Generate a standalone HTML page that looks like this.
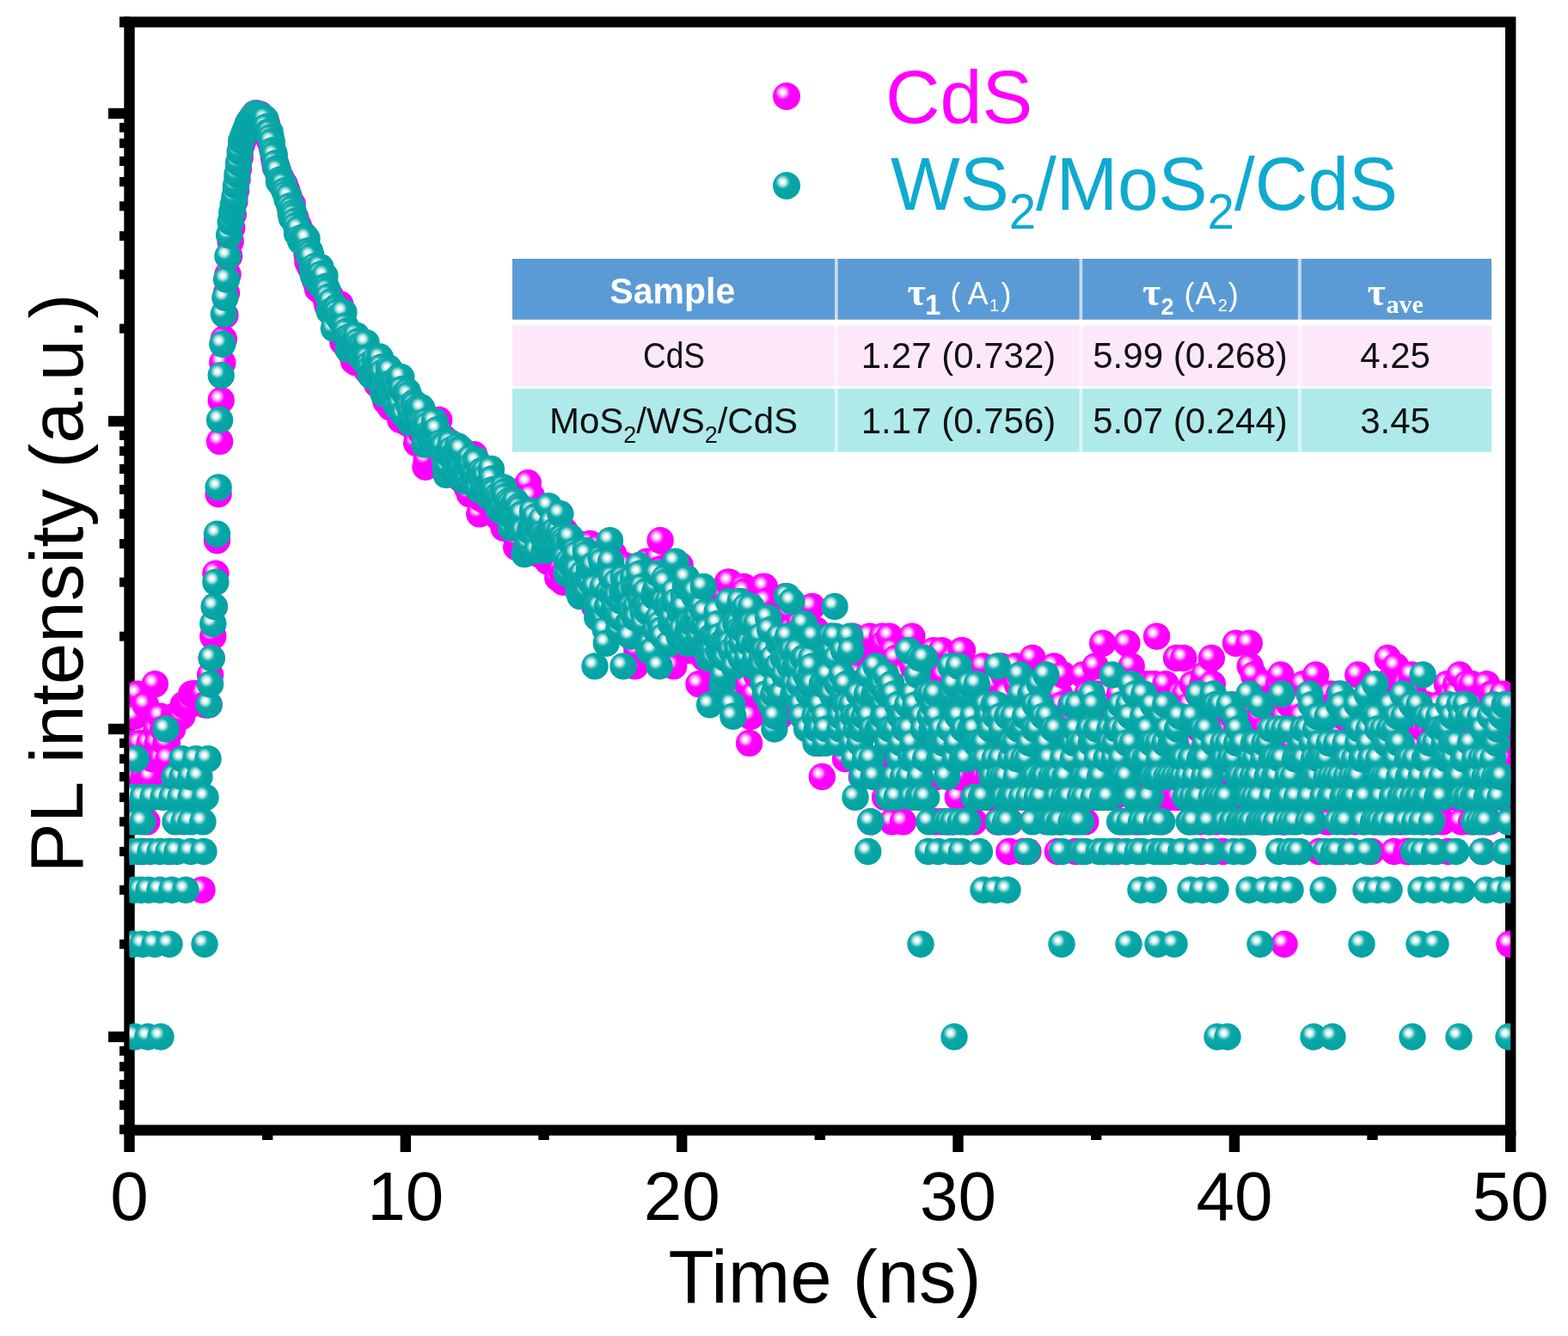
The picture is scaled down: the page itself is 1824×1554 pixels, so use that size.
<!DOCTYPE html><html><head><meta charset="utf-8"><title>PL decay</title><style>
html,body{margin:0;padding:0;background:#fff;}
svg{display:block;}
text{font-family:"Liberation Sans",Arial,sans-serif;}
.tk{font-size:80px;fill:#000;}
.ax{font-size:87px;fill:#000;}
.lg{font-size:88px;}
.lg .sub{font-size:58px;}
.th{font-size:43px;font-weight:bold;fill:#fff;}
.tau{font-family:"Liberation Serif",serif;font-size:46px;font-weight:bold;fill:#fff;}
.tsub{font-family:"Liberation Sans",sans-serif;font-size:33px;font-weight:bold;fill:#fff;}
.tl{font-family:"Liberation Sans",sans-serif;font-size:36px;fill:#fff;}
.tsub2{font-family:"Liberation Sans",sans-serif;font-size:27px;font-weight:bold;fill:#fff;}
.tls{font-family:"Liberation Sans",sans-serif;font-size:20px;fill:#fff;}
.tave{font-family:"Liberation Serif",serif;font-size:30px;font-weight:bold;fill:#fff;}
.td{font-size:42px;fill:#111;}
.tds{font-size:27px;}
</style></head><body>
<svg width="1824" height="1554" viewBox="0 0 1824 1554">
<defs>
<radialGradient id="gt" cx="0.36" cy="0.36" r="0.5" fx="0.36" fy="0.36">
<stop offset="0" stop-color="#ffffff"/><stop offset="0.13" stop-color="#f6fcfc"/>
<stop offset="0.3" stop-color="#a6dfdf"/><stop offset="0.5" stop-color="#14abab"/><stop offset="0.62" stop-color="#08a8a8"/><stop offset="1" stop-color="#05a3a3"/>
</radialGradient>
<radialGradient id="gm" cx="0.36" cy="0.36" r="0.5" fx="0.36" fy="0.36">
<stop offset="0" stop-color="#ffffff"/><stop offset="0.13" stop-color="#fff6ff"/>
<stop offset="0.3" stop-color="#ffa6ff"/><stop offset="0.5" stop-color="#ff14ff"/><stop offset="0.62" stop-color="#ff00ff"/><stop offset="1" stop-color="#fa00fa"/>
</radialGradient>
<clipPath id="pc"><rect x="150.5" y="25.6" width="1606.7" height="1289.0"/></clipPath>
</defs>
<rect width="1824" height="1554" fill="#fff"/>
<rect x="150.5" y="25.6" width="1606.7" height="1289.0" fill="none" stroke="#000" stroke-width="12.4"/>
<rect x="139" y="19.4" width="12" height="12.4" fill="#000"/>
<rect x="144.3" y="1314.6" width="12.4" height="25.4" fill="#000"/>
<rect x="305.0" y="1314.6" width="12.4" height="11.4" fill="#000"/>
<rect x="465.6" y="1314.6" width="12.4" height="25.4" fill="#000"/>
<rect x="626.3" y="1314.6" width="12.4" height="11.4" fill="#000"/>
<rect x="787.0" y="1314.6" width="12.4" height="25.4" fill="#000"/>
<rect x="947.6" y="1314.6" width="12.4" height="11.4" fill="#000"/>
<rect x="1108.3" y="1314.6" width="12.4" height="25.4" fill="#000"/>
<rect x="1269.0" y="1314.6" width="12.4" height="11.4" fill="#000"/>
<rect x="1429.7" y="1314.6" width="12.4" height="25.4" fill="#000"/>
<rect x="1590.3" y="1314.6" width="12.4" height="11.4" fill="#000"/>
<rect x="1751.0" y="1314.6" width="12.4" height="25.4" fill="#000"/>
<rect x="139" y="1308.3" width="11.5" height="11.0" fill="#000"/>
<rect x="139" y="1279.9" width="11.5" height="11.0" fill="#000"/>
<rect x="139" y="1256.0" width="11.5" height="11.0" fill="#000"/>
<rect x="139" y="1235.2" width="11.5" height="11.0" fill="#000"/>
<rect x="139" y="1216.9" width="11.5" height="11.0" fill="#000"/>
<rect x="126" y="1199.8" width="24.5" height="12.4" fill="#000"/>
<rect x="139" y="1092.7" width="11.5" height="11.0" fill="#000"/>
<rect x="139" y="1029.7" width="11.5" height="11.0" fill="#000"/>
<rect x="139" y="985.0" width="11.5" height="11.0" fill="#000"/>
<rect x="139" y="950.3" width="11.5" height="11.0" fill="#000"/>
<rect x="139" y="921.9" width="11.5" height="11.0" fill="#000"/>
<rect x="139" y="898.0" width="11.5" height="11.0" fill="#000"/>
<rect x="139" y="877.2" width="11.5" height="11.0" fill="#000"/>
<rect x="139" y="858.9" width="11.5" height="11.0" fill="#000"/>
<rect x="126" y="841.8" width="24.5" height="12.4" fill="#000"/>
<rect x="139" y="734.7" width="11.5" height="11.0" fill="#000"/>
<rect x="139" y="671.7" width="11.5" height="11.0" fill="#000"/>
<rect x="139" y="627.0" width="11.5" height="11.0" fill="#000"/>
<rect x="139" y="592.3" width="11.5" height="11.0" fill="#000"/>
<rect x="139" y="563.9" width="11.5" height="11.0" fill="#000"/>
<rect x="139" y="540.0" width="11.5" height="11.0" fill="#000"/>
<rect x="139" y="519.2" width="11.5" height="11.0" fill="#000"/>
<rect x="139" y="500.9" width="11.5" height="11.0" fill="#000"/>
<rect x="126" y="483.8" width="24.5" height="12.4" fill="#000"/>
<rect x="139" y="376.7" width="11.5" height="11.0" fill="#000"/>
<rect x="139" y="313.7" width="11.5" height="11.0" fill="#000"/>
<rect x="139" y="269.0" width="11.5" height="11.0" fill="#000"/>
<rect x="139" y="234.3" width="11.5" height="11.0" fill="#000"/>
<rect x="139" y="205.9" width="11.5" height="11.0" fill="#000"/>
<rect x="139" y="182.0" width="11.5" height="11.0" fill="#000"/>
<rect x="139" y="161.2" width="11.5" height="11.0" fill="#000"/>
<rect x="139" y="142.9" width="11.5" height="11.0" fill="#000"/>
<rect x="126" y="125.8" width="24.5" height="12.4" fill="#000"/>
<g clip-path="url(#pc)">
<g fill="url(#gm)">
<circle cx="150.5" cy="903.5" r="15.7"/>
<circle cx="152.1" cy="864.4" r="15.7"/>
<circle cx="153.6" cy="927.4" r="15.7"/>
<circle cx="155.2" cy="927.4" r="15.7"/>
<circle cx="156.8" cy="833.2" r="15.7"/>
<circle cx="158.3" cy="882.7" r="15.7"/>
<circle cx="159.9" cy="807.2" r="15.7"/>
<circle cx="161.5" cy="990.5" r="15.7"/>
<circle cx="163.1" cy="864.4" r="15.7"/>
<circle cx="164.6" cy="882.7" r="15.7"/>
<circle cx="166.2" cy="990.5" r="15.7"/>
<circle cx="167.8" cy="903.5" r="15.7"/>
<circle cx="169.3" cy="819.7" r="15.7"/>
<circle cx="170.9" cy="955.8" r="15.7"/>
<circle cx="172.5" cy="903.5" r="15.7"/>
<circle cx="174.0" cy="864.4" r="15.7"/>
<circle cx="175.6" cy="903.5" r="15.7"/>
<circle cx="177.2" cy="882.7" r="15.7"/>
<circle cx="178.7" cy="882.7" r="15.7"/>
<circle cx="180.3" cy="795.7" r="15.7"/>
<circle cx="181.9" cy="848.0" r="15.7"/>
<circle cx="183.4" cy="864.4" r="15.7"/>
<circle cx="185.0" cy="882.7" r="15.7"/>
<circle cx="186.6" cy="833.2" r="15.7"/>
<circle cx="188.2" cy="882.7" r="15.7"/>
<circle cx="189.7" cy="848.0" r="15.7"/>
<circle cx="191.3" cy="848.0" r="15.7"/>
<circle cx="192.9" cy="864.4" r="15.7"/>
<circle cx="194.4" cy="864.4" r="15.7"/>
<circle cx="196.0" cy="882.7" r="15.7"/>
<circle cx="197.6" cy="990.5" r="15.7"/>
<circle cx="199.1" cy="848.0" r="15.7"/>
<circle cx="200.7" cy="848.0" r="15.7"/>
<circle cx="202.3" cy="833.2" r="15.7"/>
<circle cx="203.8" cy="833.2" r="15.7"/>
<circle cx="205.4" cy="833.2" r="15.7"/>
<circle cx="207.0" cy="833.2" r="15.7"/>
<circle cx="208.6" cy="833.2" r="15.7"/>
<circle cx="210.1" cy="833.2" r="15.7"/>
<circle cx="211.7" cy="833.2" r="15.7"/>
<circle cx="213.3" cy="819.7" r="15.7"/>
<circle cx="214.8" cy="819.7" r="15.7"/>
<circle cx="216.4" cy="819.7" r="15.7"/>
<circle cx="218.0" cy="819.7" r="15.7"/>
<circle cx="219.5" cy="819.7" r="15.7"/>
<circle cx="221.1" cy="819.7" r="15.7"/>
<circle cx="222.7" cy="807.2" r="15.7"/>
<circle cx="224.2" cy="807.2" r="15.7"/>
<circle cx="225.8" cy="807.2" r="15.7"/>
<circle cx="227.4" cy="807.2" r="15.7"/>
<circle cx="229.0" cy="807.2" r="15.7"/>
<circle cx="230.5" cy="807.2" r="15.7"/>
<circle cx="232.1" cy="807.2" r="15.7"/>
<circle cx="233.7" cy="807.2" r="15.7"/>
<circle cx="235.0" cy="1035.2" r="15.7"/>
<circle cx="235.2" cy="807.2" r="15.7"/>
<circle cx="236.8" cy="807.2" r="15.7"/>
<circle cx="238.4" cy="819.7" r="15.7"/>
<circle cx="239.9" cy="819.7" r="15.7"/>
<circle cx="241.5" cy="819.7" r="15.7"/>
<circle cx="243.1" cy="819.7" r="15.7"/>
<circle cx="244.6" cy="785.0" r="15.7"/>
<circle cx="246.2" cy="765.5" r="15.7"/>
<circle cx="247.8" cy="740.2" r="15.7"/>
<circle cx="249.3" cy="705.5" r="15.7"/>
<circle cx="250.9" cy="667.2" r="15.7"/>
<circle cx="252.5" cy="628.6" r="15.7"/>
<circle cx="254.1" cy="574.7" r="15.7"/>
<circle cx="255.6" cy="513.4" r="15.7"/>
<circle cx="257.2" cy="465.6" r="15.7"/>
<circle cx="258.8" cy="421.9" r="15.7"/>
<circle cx="260.3" cy="394.4" r="15.7"/>
<circle cx="261.9" cy="366.7" r="15.7"/>
<circle cx="263.5" cy="340.8" r="15.7"/>
<circle cx="265.0" cy="319.2" r="15.7"/>
<circle cx="266.6" cy="297.9" r="15.7"/>
<circle cx="268.2" cy="280.8" r="15.7"/>
<circle cx="269.7" cy="265.0" r="15.7"/>
<circle cx="271.3" cy="249.4" r="15.7"/>
<circle cx="272.9" cy="234.3" r="15.7"/>
<circle cx="274.5" cy="221.6" r="15.7"/>
<circle cx="276.0" cy="208.6" r="15.7"/>
<circle cx="277.6" cy="195.7" r="15.7"/>
<circle cx="279.2" cy="182.9" r="15.7"/>
<circle cx="280.7" cy="170.2" r="15.7"/>
<circle cx="282.3" cy="165.0" r="15.7"/>
<circle cx="283.9" cy="159.7" r="15.7"/>
<circle cx="285.4" cy="154.4" r="15.7"/>
<circle cx="287.0" cy="148.9" r="15.7"/>
<circle cx="288.6" cy="143.6" r="15.7"/>
<circle cx="290.1" cy="141.1" r="15.7"/>
<circle cx="291.7" cy="138.8" r="15.7"/>
<circle cx="293.3" cy="136.6" r="15.7"/>
<circle cx="294.9" cy="134.3" r="15.7"/>
<circle cx="296.4" cy="132.2" r="15.7"/>
<circle cx="298.0" cy="131.7" r="15.7"/>
<circle cx="299.6" cy="132.5" r="15.7"/>
<circle cx="301.1" cy="133.2" r="15.7"/>
<circle cx="301.5" cy="133.6" r="15.7"/>
<circle cx="302.6" cy="132.9" r="15.7"/>
<circle cx="303.6" cy="135.8" r="15.7"/>
<circle cx="304.7" cy="137.7" r="15.7"/>
<circle cx="305.7" cy="136.7" r="15.7"/>
<circle cx="306.8" cy="140.0" r="15.7"/>
<circle cx="307.8" cy="139.0" r="15.7"/>
<circle cx="308.9" cy="141.5" r="15.7"/>
<circle cx="309.9" cy="142.8" r="15.7"/>
<circle cx="310.9" cy="146.5" r="15.7"/>
<circle cx="312.0" cy="152.2" r="15.7"/>
<circle cx="313.0" cy="161.9" r="15.7"/>
<circle cx="314.1" cy="163.6" r="15.7"/>
<circle cx="315.1" cy="165.7" r="15.7"/>
<circle cx="316.2" cy="171.0" r="15.7"/>
<circle cx="317.2" cy="175.1" r="15.7"/>
<circle cx="318.3" cy="182.2" r="15.7"/>
<circle cx="319.3" cy="187.9" r="15.7"/>
<circle cx="320.4" cy="194.7" r="15.7"/>
<circle cx="321.4" cy="192.4" r="15.7"/>
<circle cx="322.5" cy="196.1" r="15.7"/>
<circle cx="323.5" cy="201.6" r="15.7"/>
<circle cx="324.5" cy="209.1" r="15.7"/>
<circle cx="325.6" cy="210.1" r="15.7"/>
<circle cx="326.6" cy="206.3" r="15.7"/>
<circle cx="327.7" cy="209.4" r="15.7"/>
<circle cx="328.7" cy="216.7" r="15.7"/>
<circle cx="329.8" cy="214.0" r="15.7"/>
<circle cx="330.8" cy="213.8" r="15.7"/>
<circle cx="331.9" cy="217.0" r="15.7"/>
<circle cx="332.9" cy="220.8" r="15.7"/>
<circle cx="334.0" cy="222.4" r="15.7"/>
<circle cx="335.0" cy="227.2" r="15.7"/>
<circle cx="336.0" cy="230.1" r="15.7"/>
<circle cx="337.1" cy="239.5" r="15.7"/>
<circle cx="338.1" cy="236.4" r="15.7"/>
<circle cx="339.2" cy="241.3" r="15.7"/>
<circle cx="340.2" cy="237.6" r="15.7"/>
<circle cx="341.3" cy="254.8" r="15.7"/>
<circle cx="342.3" cy="253.1" r="15.7"/>
<circle cx="343.4" cy="252.1" r="15.7"/>
<circle cx="344.4" cy="258.9" r="15.7"/>
<circle cx="345.5" cy="260.4" r="15.7"/>
<circle cx="346.5" cy="261.1" r="15.7"/>
<circle cx="347.6" cy="263.6" r="15.7"/>
<circle cx="348.6" cy="271.4" r="15.7"/>
<circle cx="349.6" cy="274.9" r="15.7"/>
<circle cx="350.7" cy="272.5" r="15.7"/>
<circle cx="351.7" cy="271.4" r="15.7"/>
<circle cx="352.8" cy="278.0" r="15.7"/>
<circle cx="353.8" cy="282.8" r="15.7"/>
<circle cx="354.9" cy="285.7" r="15.7"/>
<circle cx="355.9" cy="284.5" r="15.7"/>
<circle cx="357.0" cy="296.1" r="15.7"/>
<circle cx="358.0" cy="304.8" r="15.7"/>
<circle cx="359.1" cy="302.5" r="15.7"/>
<circle cx="360.1" cy="309.2" r="15.7"/>
<circle cx="361.2" cy="311.1" r="15.7"/>
<circle cx="362.2" cy="309.6" r="15.7"/>
<circle cx="363.2" cy="307.7" r="15.7"/>
<circle cx="364.3" cy="316.6" r="15.7"/>
<circle cx="365.3" cy="311.6" r="15.7"/>
<circle cx="366.4" cy="325.5" r="15.7"/>
<circle cx="367.4" cy="320.2" r="15.7"/>
<circle cx="368.5" cy="331.0" r="15.7"/>
<circle cx="369.5" cy="336.1" r="15.7"/>
<circle cx="370.6" cy="328.3" r="15.7"/>
<circle cx="371.6" cy="332.2" r="15.7"/>
<circle cx="372.7" cy="337.3" r="15.7"/>
<circle cx="373.7" cy="339.1" r="15.7"/>
<circle cx="374.8" cy="335.6" r="15.7"/>
<circle cx="375.8" cy="338.5" r="15.7"/>
<circle cx="376.8" cy="340.8" r="15.7"/>
<circle cx="377.9" cy="336.1" r="15.7"/>
<circle cx="378.9" cy="346.9" r="15.7"/>
<circle cx="380.0" cy="351.3" r="15.7"/>
<circle cx="381.0" cy="355.8" r="15.7"/>
<circle cx="382.1" cy="347.5" r="15.7"/>
<circle cx="383.1" cy="345.7" r="15.7"/>
<circle cx="384.2" cy="343.9" r="15.7"/>
<circle cx="385.2" cy="353.2" r="15.7"/>
<circle cx="386.3" cy="359.8" r="15.7"/>
<circle cx="387.3" cy="357.2" r="15.7"/>
<circle cx="388.4" cy="365.3" r="15.7"/>
<circle cx="389.4" cy="361.2" r="15.7"/>
<circle cx="390.4" cy="361.2" r="15.7"/>
<circle cx="391.5" cy="371.7" r="15.7"/>
<circle cx="392.5" cy="373.9" r="15.7"/>
<circle cx="393.6" cy="376.1" r="15.7"/>
<circle cx="394.6" cy="364.6" r="15.7"/>
<circle cx="395.7" cy="353.9" r="15.7"/>
<circle cx="396.7" cy="368.8" r="15.7"/>
<circle cx="397.8" cy="376.1" r="15.7"/>
<circle cx="398.8" cy="397.8" r="15.7"/>
<circle cx="399.9" cy="391.0" r="15.7"/>
<circle cx="400.9" cy="390.2" r="15.7"/>
<circle cx="401.9" cy="398.6" r="15.7"/>
<circle cx="403.0" cy="390.2" r="15.7"/>
<circle cx="404.0" cy="403.9" r="15.7"/>
<circle cx="405.1" cy="402.1" r="15.7"/>
<circle cx="406.1" cy="399.5" r="15.7"/>
<circle cx="407.2" cy="409.3" r="15.7"/>
<circle cx="408.2" cy="398.6" r="15.7"/>
<circle cx="409.3" cy="392.7" r="15.7"/>
<circle cx="410.3" cy="410.3" r="15.7"/>
<circle cx="411.4" cy="419.9" r="15.7"/>
<circle cx="412.4" cy="410.3" r="15.7"/>
<circle cx="413.5" cy="410.3" r="15.7"/>
<circle cx="414.5" cy="421.9" r="15.7"/>
<circle cx="415.5" cy="419.9" r="15.7"/>
<circle cx="416.6" cy="418.9" r="15.7"/>
<circle cx="417.6" cy="418.9" r="15.7"/>
<circle cx="418.7" cy="412.1" r="15.7"/>
<circle cx="419.7" cy="413.1" r="15.7"/>
<circle cx="420.8" cy="402.1" r="15.7"/>
<circle cx="421.8" cy="401.2" r="15.7"/>
<circle cx="422.9" cy="406.6" r="15.7"/>
<circle cx="423.9" cy="407.5" r="15.7"/>
<circle cx="425.0" cy="405.7" r="15.7"/>
<circle cx="426.0" cy="411.2" r="15.7"/>
<circle cx="427.1" cy="431.2" r="15.7"/>
<circle cx="428.1" cy="423.9" r="15.7"/>
<circle cx="429.1" cy="428.0" r="15.7"/>
<circle cx="430.2" cy="416.9" r="15.7"/>
<circle cx="431.2" cy="425.9" r="15.7"/>
<circle cx="432.3" cy="427.0" r="15.7"/>
<circle cx="433.3" cy="430.1" r="15.7"/>
<circle cx="434.4" cy="420.9" r="15.7"/>
<circle cx="435.4" cy="430.1" r="15.7"/>
<circle cx="436.5" cy="438.8" r="15.7"/>
<circle cx="437.5" cy="438.8" r="15.7"/>
<circle cx="438.6" cy="446.8" r="15.7"/>
<circle cx="439.6" cy="445.7" r="15.7"/>
<circle cx="440.7" cy="446.8" r="15.7"/>
<circle cx="441.7" cy="445.7" r="15.7"/>
<circle cx="442.7" cy="431.2" r="15.7"/>
<circle cx="443.8" cy="445.7" r="15.7"/>
<circle cx="444.8" cy="449.2" r="15.7"/>
<circle cx="445.9" cy="454.1" r="15.7"/>
<circle cx="446.9" cy="448.0" r="15.7"/>
<circle cx="448.0" cy="463.0" r="15.7"/>
<circle cx="449.0" cy="466.9" r="15.7"/>
<circle cx="450.1" cy="464.3" r="15.7"/>
<circle cx="451.1" cy="456.6" r="15.7"/>
<circle cx="452.2" cy="460.4" r="15.7"/>
<circle cx="453.2" cy="465.6" r="15.7"/>
<circle cx="454.2" cy="473.8" r="15.7"/>
<circle cx="455.3" cy="464.3" r="15.7"/>
<circle cx="456.3" cy="451.6" r="15.7"/>
<circle cx="457.4" cy="456.6" r="15.7"/>
<circle cx="458.4" cy="460.4" r="15.7"/>
<circle cx="459.5" cy="461.7" r="15.7"/>
<circle cx="460.5" cy="475.2" r="15.7"/>
<circle cx="461.6" cy="476.6" r="15.7"/>
<circle cx="462.6" cy="478.0" r="15.7"/>
<circle cx="463.7" cy="473.8" r="15.7"/>
<circle cx="464.7" cy="475.2" r="15.7"/>
<circle cx="465.8" cy="488.5" r="15.7"/>
<circle cx="466.8" cy="472.4" r="15.7"/>
<circle cx="467.8" cy="459.1" r="15.7"/>
<circle cx="468.9" cy="472.4" r="15.7"/>
<circle cx="469.9" cy="472.4" r="15.7"/>
<circle cx="471.0" cy="475.2" r="15.7"/>
<circle cx="472.0" cy="471.0" r="15.7"/>
<circle cx="473.1" cy="491.6" r="15.7"/>
<circle cx="474.1" cy="472.4" r="15.7"/>
<circle cx="475.2" cy="483.9" r="15.7"/>
<circle cx="476.2" cy="473.8" r="15.7"/>
<circle cx="477.3" cy="479.5" r="15.7"/>
<circle cx="478.3" cy="488.5" r="15.7"/>
<circle cx="479.4" cy="490.0" r="15.7"/>
<circle cx="480.4" cy="482.4" r="15.7"/>
<circle cx="481.4" cy="496.3" r="15.7"/>
<circle cx="482.5" cy="498.0" r="15.7"/>
<circle cx="483.5" cy="501.3" r="15.7"/>
<circle cx="484.6" cy="515.3" r="15.7"/>
<circle cx="485.6" cy="493.1" r="15.7"/>
<circle cx="486.7" cy="490.0" r="15.7"/>
<circle cx="487.7" cy="494.7" r="15.7"/>
<circle cx="488.8" cy="485.4" r="15.7"/>
<circle cx="489.8" cy="503.0" r="15.7"/>
<circle cx="490.9" cy="503.0" r="15.7"/>
<circle cx="491.9" cy="485.4" r="15.7"/>
<circle cx="493.0" cy="483.9" r="15.7"/>
<circle cx="494.0" cy="517.1" r="15.7"/>
<circle cx="495.0" cy="543.2" r="15.7"/>
<circle cx="496.1" cy="534.7" r="15.7"/>
<circle cx="497.1" cy="511.7" r="15.7"/>
<circle cx="498.2" cy="513.4" r="15.7"/>
<circle cx="499.2" cy="513.4" r="15.7"/>
<circle cx="500.3" cy="506.4" r="15.7"/>
<circle cx="501.3" cy="517.1" r="15.7"/>
<circle cx="502.4" cy="513.4" r="15.7"/>
<circle cx="503.4" cy="504.7" r="15.7"/>
<circle cx="504.5" cy="504.7" r="15.7"/>
<circle cx="505.5" cy="506.4" r="15.7"/>
<circle cx="506.6" cy="517.1" r="15.7"/>
<circle cx="507.6" cy="511.7" r="15.7"/>
<circle cx="508.6" cy="519.0" r="15.7"/>
<circle cx="509.7" cy="506.4" r="15.7"/>
<circle cx="510.7" cy="488.5" r="15.7"/>
<circle cx="511.8" cy="511.7" r="15.7"/>
<circle cx="512.8" cy="538.9" r="15.7"/>
<circle cx="513.9" cy="536.8" r="15.7"/>
<circle cx="514.9" cy="526.6" r="15.7"/>
<circle cx="516.0" cy="515.3" r="15.7"/>
<circle cx="517.0" cy="509.9" r="15.7"/>
<circle cx="518.1" cy="526.6" r="15.7"/>
<circle cx="519.1" cy="536.8" r="15.7"/>
<circle cx="520.1" cy="520.9" r="15.7"/>
<circle cx="521.2" cy="536.8" r="15.7"/>
<circle cx="522.2" cy="524.7" r="15.7"/>
<circle cx="523.3" cy="530.6" r="15.7"/>
<circle cx="524.3" cy="524.7" r="15.7"/>
<circle cx="525.4" cy="522.8" r="15.7"/>
<circle cx="526.4" cy="522.8" r="15.7"/>
<circle cx="527.5" cy="520.9" r="15.7"/>
<circle cx="528.5" cy="541.1" r="15.7"/>
<circle cx="529.6" cy="536.8" r="15.7"/>
<circle cx="530.6" cy="538.9" r="15.7"/>
<circle cx="531.7" cy="538.9" r="15.7"/>
<circle cx="532.7" cy="528.6" r="15.7"/>
<circle cx="533.7" cy="538.9" r="15.7"/>
<circle cx="534.8" cy="550.0" r="15.7"/>
<circle cx="535.8" cy="557.0" r="15.7"/>
<circle cx="536.9" cy="557.0" r="15.7"/>
<circle cx="537.9" cy="545.5" r="15.7"/>
<circle cx="539.0" cy="557.0" r="15.7"/>
<circle cx="540.0" cy="541.1" r="15.7"/>
<circle cx="541.1" cy="543.2" r="15.7"/>
<circle cx="542.1" cy="550.0" r="15.7"/>
<circle cx="543.2" cy="566.9" r="15.7"/>
<circle cx="544.2" cy="559.4" r="15.7"/>
<circle cx="545.3" cy="550.0" r="15.7"/>
<circle cx="546.3" cy="574.7" r="15.7"/>
<circle cx="547.3" cy="552.3" r="15.7"/>
<circle cx="548.4" cy="536.8" r="15.7"/>
<circle cx="549.4" cy="545.5" r="15.7"/>
<circle cx="550.5" cy="547.7" r="15.7"/>
<circle cx="551.5" cy="528.6" r="15.7"/>
<circle cx="552.6" cy="532.7" r="15.7"/>
<circle cx="553.6" cy="559.4" r="15.7"/>
<circle cx="554.7" cy="561.8" r="15.7"/>
<circle cx="555.7" cy="566.9" r="15.7"/>
<circle cx="556.8" cy="569.4" r="15.7"/>
<circle cx="557.8" cy="597.8" r="15.7"/>
<circle cx="558.9" cy="574.7" r="15.7"/>
<circle cx="559.9" cy="580.1" r="15.7"/>
<circle cx="560.9" cy="574.7" r="15.7"/>
<circle cx="562.0" cy="574.7" r="15.7"/>
<circle cx="563.0" cy="564.3" r="15.7"/>
<circle cx="564.1" cy="572.0" r="15.7"/>
<circle cx="565.1" cy="583.0" r="15.7"/>
<circle cx="566.2" cy="574.7" r="15.7"/>
<circle cx="567.2" cy="559.4" r="15.7"/>
<circle cx="568.3" cy="572.0" r="15.7"/>
<circle cx="569.3" cy="559.4" r="15.7"/>
<circle cx="570.4" cy="566.9" r="15.7"/>
<circle cx="571.4" cy="580.1" r="15.7"/>
<circle cx="572.5" cy="561.8" r="15.7"/>
<circle cx="573.5" cy="583.0" r="15.7"/>
<circle cx="574.5" cy="569.4" r="15.7"/>
<circle cx="575.6" cy="583.0" r="15.7"/>
<circle cx="576.6" cy="577.4" r="15.7"/>
<circle cx="577.7" cy="597.8" r="15.7"/>
<circle cx="578.7" cy="600.9" r="15.7"/>
<circle cx="579.8" cy="580.1" r="15.7"/>
<circle cx="580.8" cy="583.0" r="15.7"/>
<circle cx="581.9" cy="585.8" r="15.7"/>
<circle cx="582.9" cy="591.7" r="15.7"/>
<circle cx="584.0" cy="585.8" r="15.7"/>
<circle cx="585.0" cy="607.4" r="15.7"/>
<circle cx="586.0" cy="614.1" r="15.7"/>
<circle cx="587.1" cy="604.1" r="15.7"/>
<circle cx="588.1" cy="610.7" r="15.7"/>
<circle cx="589.2" cy="610.7" r="15.7"/>
<circle cx="590.2" cy="604.1" r="15.7"/>
<circle cx="591.3" cy="600.9" r="15.7"/>
<circle cx="592.3" cy="600.9" r="15.7"/>
<circle cx="593.4" cy="577.4" r="15.7"/>
<circle cx="594.4" cy="574.7" r="15.7"/>
<circle cx="595.5" cy="572.0" r="15.7"/>
<circle cx="596.5" cy="585.8" r="15.7"/>
<circle cx="597.6" cy="600.9" r="15.7"/>
<circle cx="598.6" cy="621.2" r="15.7"/>
<circle cx="599.6" cy="617.6" r="15.7"/>
<circle cx="600.7" cy="636.4" r="15.7"/>
<circle cx="601.7" cy="628.6" r="15.7"/>
<circle cx="602.8" cy="607.4" r="15.7"/>
<circle cx="603.8" cy="583.0" r="15.7"/>
<circle cx="604.9" cy="580.1" r="15.7"/>
<circle cx="605.9" cy="607.4" r="15.7"/>
<circle cx="607.0" cy="600.9" r="15.7"/>
<circle cx="608.0" cy="614.1" r="15.7"/>
<circle cx="609.1" cy="600.9" r="15.7"/>
<circle cx="610.1" cy="607.4" r="15.7"/>
<circle cx="611.2" cy="597.8" r="15.7"/>
<circle cx="612.2" cy="566.9" r="15.7"/>
<circle cx="613.2" cy="577.4" r="15.7"/>
<circle cx="614.3" cy="561.8" r="15.7"/>
<circle cx="615.3" cy="585.8" r="15.7"/>
<circle cx="616.4" cy="604.1" r="15.7"/>
<circle cx="617.4" cy="588.7" r="15.7"/>
<circle cx="618.5" cy="577.4" r="15.7"/>
<circle cx="619.5" cy="604.1" r="15.7"/>
<circle cx="620.6" cy="610.7" r="15.7"/>
<circle cx="621.6" cy="632.5" r="15.7"/>
<circle cx="622.7" cy="628.6" r="15.7"/>
<circle cx="623.7" cy="610.7" r="15.7"/>
<circle cx="624.8" cy="617.6" r="15.7"/>
<circle cx="625.8" cy="624.9" r="15.7"/>
<circle cx="626.8" cy="644.6" r="15.7"/>
<circle cx="627.9" cy="628.6" r="15.7"/>
<circle cx="628.9" cy="614.1" r="15.7"/>
<circle cx="630.0" cy="610.7" r="15.7"/>
<circle cx="631.0" cy="614.1" r="15.7"/>
<circle cx="632.1" cy="636.4" r="15.7"/>
<circle cx="633.1" cy="604.1" r="15.7"/>
<circle cx="634.2" cy="617.6" r="15.7"/>
<circle cx="635.2" cy="624.9" r="15.7"/>
<circle cx="636.3" cy="614.1" r="15.7"/>
<circle cx="637.3" cy="653.2" r="15.7"/>
<circle cx="638.4" cy="640.4" r="15.7"/>
<circle cx="639.4" cy="636.4" r="15.7"/>
<circle cx="640.4" cy="628.6" r="15.7"/>
<circle cx="641.5" cy="607.4" r="15.7"/>
<circle cx="642.5" cy="614.1" r="15.7"/>
<circle cx="643.6" cy="648.8" r="15.7"/>
<circle cx="644.6" cy="644.6" r="15.7"/>
<circle cx="645.7" cy="636.4" r="15.7"/>
<circle cx="646.7" cy="632.5" r="15.7"/>
<circle cx="647.8" cy="653.2" r="15.7"/>
<circle cx="648.8" cy="672.1" r="15.7"/>
<circle cx="649.9" cy="644.6" r="15.7"/>
<circle cx="650.9" cy="636.4" r="15.7"/>
<circle cx="651.9" cy="636.4" r="15.7"/>
<circle cx="653.0" cy="662.4" r="15.7"/>
<circle cx="654.0" cy="624.9" r="15.7"/>
<circle cx="655.1" cy="677.2" r="15.7"/>
<circle cx="656.1" cy="667.2" r="15.7"/>
<circle cx="657.2" cy="617.6" r="15.7"/>
<circle cx="658.2" cy="632.5" r="15.7"/>
<circle cx="659.3" cy="632.5" r="15.7"/>
<circle cx="660.3" cy="657.7" r="15.7"/>
<circle cx="661.4" cy="628.6" r="15.7"/>
<circle cx="662.4" cy="657.7" r="15.7"/>
<circle cx="663.5" cy="648.8" r="15.7"/>
<circle cx="664.5" cy="644.6" r="15.7"/>
<circle cx="665.5" cy="662.4" r="15.7"/>
<circle cx="666.6" cy="640.4" r="15.7"/>
<circle cx="667.6" cy="667.2" r="15.7"/>
<circle cx="668.7" cy="672.1" r="15.7"/>
<circle cx="669.7" cy="657.7" r="15.7"/>
<circle cx="670.8" cy="662.4" r="15.7"/>
<circle cx="671.8" cy="648.8" r="15.7"/>
<circle cx="672.9" cy="632.5" r="15.7"/>
<circle cx="673.9" cy="648.8" r="15.7"/>
<circle cx="675.0" cy="657.7" r="15.7"/>
<circle cx="676.0" cy="667.2" r="15.7"/>
<circle cx="677.1" cy="667.2" r="15.7"/>
<circle cx="678.1" cy="644.6" r="15.7"/>
<circle cx="679.1" cy="653.2" r="15.7"/>
<circle cx="680.2" cy="648.8" r="15.7"/>
<circle cx="681.2" cy="653.2" r="15.7"/>
<circle cx="682.3" cy="672.1" r="15.7"/>
<circle cx="683.3" cy="648.8" r="15.7"/>
<circle cx="684.4" cy="672.1" r="15.7"/>
<circle cx="685.4" cy="662.4" r="15.7"/>
<circle cx="686.5" cy="632.5" r="15.7"/>
<circle cx="687.5" cy="667.2" r="15.7"/>
<circle cx="688.6" cy="662.4" r="15.7"/>
<circle cx="689.6" cy="693.6" r="15.7"/>
<circle cx="690.7" cy="687.9" r="15.7"/>
<circle cx="691.7" cy="705.5" r="15.7"/>
<circle cx="692.7" cy="687.9" r="15.7"/>
<circle cx="693.8" cy="687.9" r="15.7"/>
<circle cx="694.8" cy="672.1" r="15.7"/>
<circle cx="695.9" cy="636.4" r="15.7"/>
<circle cx="696.9" cy="644.6" r="15.7"/>
<circle cx="698.0" cy="644.6" r="15.7"/>
<circle cx="699.0" cy="653.2" r="15.7"/>
<circle cx="700.1" cy="667.2" r="15.7"/>
<circle cx="701.1" cy="682.5" r="15.7"/>
<circle cx="702.2" cy="711.9" r="15.7"/>
<circle cx="703.2" cy="687.9" r="15.7"/>
<circle cx="704.3" cy="644.6" r="15.7"/>
<circle cx="705.3" cy="648.8" r="15.7"/>
<circle cx="706.3" cy="672.1" r="15.7"/>
<circle cx="707.4" cy="636.4" r="15.7"/>
<circle cx="708.4" cy="662.4" r="15.7"/>
<circle cx="709.5" cy="682.5" r="15.7"/>
<circle cx="710.5" cy="699.4" r="15.7"/>
<circle cx="711.6" cy="705.5" r="15.7"/>
<circle cx="712.6" cy="693.6" r="15.7"/>
<circle cx="713.7" cy="644.6" r="15.7"/>
<circle cx="714.7" cy="662.4" r="15.7"/>
<circle cx="715.8" cy="693.6" r="15.7"/>
<circle cx="716.8" cy="699.4" r="15.7"/>
<circle cx="717.8" cy="693.6" r="15.7"/>
<circle cx="718.9" cy="718.5" r="15.7"/>
<circle cx="719.9" cy="699.4" r="15.7"/>
<circle cx="721.0" cy="672.1" r="15.7"/>
<circle cx="722.0" cy="672.1" r="15.7"/>
<circle cx="723.1" cy="662.4" r="15.7"/>
<circle cx="724.1" cy="699.4" r="15.7"/>
<circle cx="725.2" cy="725.4" r="15.7"/>
<circle cx="726.2" cy="677.2" r="15.7"/>
<circle cx="727.3" cy="657.7" r="15.7"/>
<circle cx="728.3" cy="705.5" r="15.7"/>
<circle cx="729.4" cy="687.9" r="15.7"/>
<circle cx="730.4" cy="687.9" r="15.7"/>
<circle cx="731.4" cy="672.1" r="15.7"/>
<circle cx="732.5" cy="677.2" r="15.7"/>
<circle cx="733.5" cy="693.6" r="15.7"/>
<circle cx="734.6" cy="687.9" r="15.7"/>
<circle cx="735.6" cy="682.5" r="15.7"/>
<circle cx="736.7" cy="687.9" r="15.7"/>
<circle cx="737.7" cy="732.6" r="15.7"/>
<circle cx="738.8" cy="774.9" r="15.7"/>
<circle cx="739.8" cy="748.2" r="15.7"/>
<circle cx="740.9" cy="756.6" r="15.7"/>
<circle cx="741.9" cy="718.5" r="15.7"/>
<circle cx="743.0" cy="687.9" r="15.7"/>
<circle cx="744.0" cy="682.5" r="15.7"/>
<circle cx="745.0" cy="699.4" r="15.7"/>
<circle cx="746.1" cy="693.6" r="15.7"/>
<circle cx="747.1" cy="667.2" r="15.7"/>
<circle cx="748.2" cy="699.4" r="15.7"/>
<circle cx="749.2" cy="672.1" r="15.7"/>
<circle cx="750.3" cy="667.2" r="15.7"/>
<circle cx="751.3" cy="677.2" r="15.7"/>
<circle cx="752.4" cy="653.2" r="15.7"/>
<circle cx="753.4" cy="693.6" r="15.7"/>
<circle cx="754.5" cy="672.1" r="15.7"/>
<circle cx="755.5" cy="705.5" r="15.7"/>
<circle cx="756.6" cy="718.5" r="15.7"/>
<circle cx="757.6" cy="732.6" r="15.7"/>
<circle cx="758.6" cy="705.5" r="15.7"/>
<circle cx="759.7" cy="725.4" r="15.7"/>
<circle cx="760.7" cy="711.9" r="15.7"/>
<circle cx="761.8" cy="732.6" r="15.7"/>
<circle cx="762.8" cy="693.6" r="15.7"/>
<circle cx="763.9" cy="653.2" r="15.7"/>
<circle cx="764.9" cy="672.1" r="15.7"/>
<circle cx="766.0" cy="648.8" r="15.7"/>
<circle cx="767.0" cy="662.4" r="15.7"/>
<circle cx="768.1" cy="628.6" r="15.7"/>
<circle cx="769.1" cy="662.4" r="15.7"/>
<circle cx="770.2" cy="725.4" r="15.7"/>
<circle cx="771.2" cy="677.2" r="15.7"/>
<circle cx="772.2" cy="693.6" r="15.7"/>
<circle cx="773.3" cy="725.4" r="15.7"/>
<circle cx="774.3" cy="732.6" r="15.7"/>
<circle cx="775.4" cy="756.6" r="15.7"/>
<circle cx="776.4" cy="740.2" r="15.7"/>
<circle cx="777.5" cy="748.2" r="15.7"/>
<circle cx="778.5" cy="693.6" r="15.7"/>
<circle cx="779.6" cy="682.5" r="15.7"/>
<circle cx="780.6" cy="740.2" r="15.7"/>
<circle cx="781.7" cy="765.5" r="15.7"/>
<circle cx="782.7" cy="748.2" r="15.7"/>
<circle cx="783.7" cy="774.9" r="15.7"/>
<circle cx="784.8" cy="748.2" r="15.7"/>
<circle cx="785.8" cy="732.6" r="15.7"/>
<circle cx="786.9" cy="740.2" r="15.7"/>
<circle cx="787.9" cy="740.2" r="15.7"/>
<circle cx="789.0" cy="711.9" r="15.7"/>
<circle cx="790.0" cy="677.2" r="15.7"/>
<circle cx="791.1" cy="657.7" r="15.7"/>
<circle cx="792.1" cy="682.5" r="15.7"/>
<circle cx="793.2" cy="677.2" r="15.7"/>
<circle cx="794.2" cy="718.5" r="15.7"/>
<circle cx="795.3" cy="705.5" r="15.7"/>
<circle cx="796.3" cy="732.6" r="15.7"/>
<circle cx="797.3" cy="705.5" r="15.7"/>
<circle cx="798.4" cy="748.2" r="15.7"/>
<circle cx="799.4" cy="756.6" r="15.7"/>
<circle cx="800.5" cy="740.2" r="15.7"/>
<circle cx="801.5" cy="711.9" r="15.7"/>
<circle cx="802.6" cy="756.6" r="15.7"/>
<circle cx="803.6" cy="748.2" r="15.7"/>
<circle cx="804.7" cy="732.6" r="15.7"/>
<circle cx="805.7" cy="718.5" r="15.7"/>
<circle cx="806.8" cy="748.2" r="15.7"/>
<circle cx="807.8" cy="732.6" r="15.7"/>
<circle cx="808.9" cy="732.6" r="15.7"/>
<circle cx="809.9" cy="687.9" r="15.7"/>
<circle cx="810.9" cy="693.6" r="15.7"/>
<circle cx="812.0" cy="748.2" r="15.7"/>
<circle cx="813.0" cy="795.7" r="15.7"/>
<circle cx="814.1" cy="756.6" r="15.7"/>
<circle cx="815.1" cy="711.9" r="15.7"/>
<circle cx="816.2" cy="711.9" r="15.7"/>
<circle cx="817.2" cy="693.6" r="15.7"/>
<circle cx="818.3" cy="725.4" r="15.7"/>
<circle cx="819.3" cy="765.5" r="15.7"/>
<circle cx="820.4" cy="725.4" r="15.7"/>
<circle cx="821.4" cy="725.4" r="15.7"/>
<circle cx="822.5" cy="705.5" r="15.7"/>
<circle cx="823.5" cy="756.6" r="15.7"/>
<circle cx="824.5" cy="740.2" r="15.7"/>
<circle cx="825.6" cy="756.6" r="15.7"/>
<circle cx="826.6" cy="718.5" r="15.7"/>
<circle cx="827.7" cy="740.2" r="15.7"/>
<circle cx="828.7" cy="756.6" r="15.7"/>
<circle cx="829.8" cy="765.5" r="15.7"/>
<circle cx="830.8" cy="711.9" r="15.7"/>
<circle cx="831.9" cy="725.4" r="15.7"/>
<circle cx="832.9" cy="748.2" r="15.7"/>
<circle cx="834.0" cy="774.9" r="15.7"/>
<circle cx="835.0" cy="785.0" r="15.7"/>
<circle cx="836.1" cy="718.5" r="15.7"/>
<circle cx="837.1" cy="785.0" r="15.7"/>
<circle cx="838.1" cy="785.0" r="15.7"/>
<circle cx="839.2" cy="740.2" r="15.7"/>
<circle cx="840.2" cy="705.5" r="15.7"/>
<circle cx="841.3" cy="725.4" r="15.7"/>
<circle cx="842.3" cy="711.9" r="15.7"/>
<circle cx="843.4" cy="705.5" r="15.7"/>
<circle cx="844.4" cy="693.6" r="15.7"/>
<circle cx="845.5" cy="718.5" r="15.7"/>
<circle cx="846.5" cy="677.2" r="15.7"/>
<circle cx="847.6" cy="705.5" r="15.7"/>
<circle cx="848.6" cy="677.2" r="15.7"/>
<circle cx="849.6" cy="740.2" r="15.7"/>
<circle cx="850.7" cy="718.5" r="15.7"/>
<circle cx="851.7" cy="765.5" r="15.7"/>
<circle cx="852.8" cy="807.2" r="15.7"/>
<circle cx="853.8" cy="756.6" r="15.7"/>
<circle cx="854.9" cy="774.9" r="15.7"/>
<circle cx="855.9" cy="748.2" r="15.7"/>
<circle cx="857.0" cy="785.0" r="15.7"/>
<circle cx="858.0" cy="711.9" r="15.7"/>
<circle cx="859.1" cy="732.6" r="15.7"/>
<circle cx="860.1" cy="774.9" r="15.7"/>
<circle cx="861.2" cy="756.6" r="15.7"/>
<circle cx="862.2" cy="725.4" r="15.7"/>
<circle cx="863.2" cy="765.5" r="15.7"/>
<circle cx="864.3" cy="740.2" r="15.7"/>
<circle cx="865.3" cy="682.5" r="15.7"/>
<circle cx="866.4" cy="687.9" r="15.7"/>
<circle cx="867.4" cy="718.5" r="15.7"/>
<circle cx="868.5" cy="756.6" r="15.7"/>
<circle cx="869.5" cy="732.6" r="15.7"/>
<circle cx="870.6" cy="795.7" r="15.7"/>
<circle cx="871.6" cy="864.4" r="15.7"/>
<circle cx="872.7" cy="833.2" r="15.7"/>
<circle cx="873.7" cy="833.2" r="15.7"/>
<circle cx="874.8" cy="732.6" r="15.7"/>
<circle cx="875.8" cy="740.2" r="15.7"/>
<circle cx="876.8" cy="774.9" r="15.7"/>
<circle cx="877.9" cy="807.2" r="15.7"/>
<circle cx="878.9" cy="765.5" r="15.7"/>
<circle cx="880.0" cy="785.0" r="15.7"/>
<circle cx="881.0" cy="785.0" r="15.7"/>
<circle cx="882.1" cy="774.9" r="15.7"/>
<circle cx="883.1" cy="765.5" r="15.7"/>
<circle cx="884.2" cy="756.6" r="15.7"/>
<circle cx="885.2" cy="756.6" r="15.7"/>
<circle cx="886.3" cy="711.9" r="15.7"/>
<circle cx="887.3" cy="682.5" r="15.7"/>
<circle cx="888.4" cy="774.9" r="15.7"/>
<circle cx="889.4" cy="682.5" r="15.7"/>
<circle cx="890.4" cy="718.5" r="15.7"/>
<circle cx="891.5" cy="699.4" r="15.7"/>
<circle cx="892.5" cy="756.6" r="15.7"/>
<circle cx="893.6" cy="748.2" r="15.7"/>
<circle cx="894.6" cy="748.2" r="15.7"/>
<circle cx="895.7" cy="748.2" r="15.7"/>
<circle cx="896.7" cy="725.4" r="15.7"/>
<circle cx="897.8" cy="725.4" r="15.7"/>
<circle cx="898.8" cy="774.9" r="15.7"/>
<circle cx="899.9" cy="774.9" r="15.7"/>
<circle cx="900.9" cy="748.2" r="15.7"/>
<circle cx="902.0" cy="732.6" r="15.7"/>
<circle cx="903.0" cy="756.6" r="15.7"/>
<circle cx="904.0" cy="774.9" r="15.7"/>
<circle cx="905.1" cy="774.9" r="15.7"/>
<circle cx="906.1" cy="807.2" r="15.7"/>
<circle cx="907.2" cy="833.2" r="15.7"/>
<circle cx="908.2" cy="748.2" r="15.7"/>
<circle cx="909.3" cy="774.9" r="15.7"/>
<circle cx="910.3" cy="765.5" r="15.7"/>
<circle cx="911.4" cy="795.7" r="15.7"/>
<circle cx="912.4" cy="740.2" r="15.7"/>
<circle cx="913.5" cy="693.6" r="15.7"/>
<circle cx="914.5" cy="740.2" r="15.7"/>
<circle cx="915.5" cy="740.2" r="15.7"/>
<circle cx="916.6" cy="785.0" r="15.7"/>
<circle cx="917.6" cy="718.5" r="15.7"/>
<circle cx="918.7" cy="711.9" r="15.7"/>
<circle cx="919.7" cy="774.9" r="15.7"/>
<circle cx="920.8" cy="732.6" r="15.7"/>
<circle cx="921.8" cy="740.2" r="15.7"/>
<circle cx="922.9" cy="740.2" r="15.7"/>
<circle cx="923.9" cy="748.2" r="15.7"/>
<circle cx="925.0" cy="785.0" r="15.7"/>
<circle cx="926.0" cy="795.7" r="15.7"/>
<circle cx="927.1" cy="765.5" r="15.7"/>
<circle cx="928.1" cy="774.9" r="15.7"/>
<circle cx="929.1" cy="807.2" r="15.7"/>
<circle cx="930.2" cy="725.4" r="15.7"/>
<circle cx="931.2" cy="756.6" r="15.7"/>
<circle cx="932.3" cy="785.0" r="15.7"/>
<circle cx="933.3" cy="807.2" r="15.7"/>
<circle cx="934.4" cy="765.5" r="15.7"/>
<circle cx="935.4" cy="740.2" r="15.7"/>
<circle cx="936.5" cy="748.2" r="15.7"/>
<circle cx="937.5" cy="732.6" r="15.7"/>
<circle cx="938.6" cy="807.2" r="15.7"/>
<circle cx="939.6" cy="807.2" r="15.7"/>
<circle cx="940.7" cy="807.2" r="15.7"/>
<circle cx="941.7" cy="795.7" r="15.7"/>
<circle cx="942.7" cy="774.9" r="15.7"/>
<circle cx="943.8" cy="848.0" r="15.7"/>
<circle cx="944.8" cy="705.5" r="15.7"/>
<circle cx="945.9" cy="774.9" r="15.7"/>
<circle cx="946.9" cy="765.5" r="15.7"/>
<circle cx="948.0" cy="748.2" r="15.7"/>
<circle cx="949.0" cy="732.6" r="15.7"/>
<circle cx="950.1" cy="756.6" r="15.7"/>
<circle cx="951.1" cy="864.4" r="15.7"/>
<circle cx="952.2" cy="864.4" r="15.7"/>
<circle cx="953.2" cy="795.7" r="15.7"/>
<circle cx="954.3" cy="833.2" r="15.7"/>
<circle cx="955.3" cy="848.0" r="15.7"/>
<circle cx="956.3" cy="903.5" r="15.7"/>
<circle cx="957.4" cy="807.2" r="15.7"/>
<circle cx="958.4" cy="774.9" r="15.7"/>
<circle cx="959.5" cy="819.7" r="15.7"/>
<circle cx="960.5" cy="807.2" r="15.7"/>
<circle cx="961.6" cy="807.2" r="15.7"/>
<circle cx="962.6" cy="833.2" r="15.7"/>
<circle cx="963.7" cy="819.7" r="15.7"/>
<circle cx="964.7" cy="795.7" r="15.7"/>
<circle cx="965.8" cy="774.9" r="15.7"/>
<circle cx="966.8" cy="740.2" r="15.7"/>
<circle cx="967.9" cy="765.5" r="15.7"/>
<circle cx="968.9" cy="795.7" r="15.7"/>
<circle cx="969.9" cy="785.0" r="15.7"/>
<circle cx="971.0" cy="807.2" r="15.7"/>
<circle cx="972.0" cy="848.0" r="15.7"/>
<circle cx="973.1" cy="785.0" r="15.7"/>
<circle cx="974.1" cy="807.2" r="15.7"/>
<circle cx="975.2" cy="795.7" r="15.7"/>
<circle cx="976.2" cy="774.9" r="15.7"/>
<circle cx="977.3" cy="833.2" r="15.7"/>
<circle cx="978.3" cy="785.0" r="15.7"/>
<circle cx="979.4" cy="774.9" r="15.7"/>
<circle cx="980.4" cy="795.7" r="15.7"/>
<circle cx="981.4" cy="785.0" r="15.7"/>
<circle cx="982.5" cy="819.7" r="15.7"/>
<circle cx="983.5" cy="882.7" r="15.7"/>
<circle cx="984.6" cy="864.4" r="15.7"/>
<circle cx="985.6" cy="864.4" r="15.7"/>
<circle cx="986.7" cy="807.2" r="15.7"/>
<circle cx="987.7" cy="795.7" r="15.7"/>
<circle cx="988.8" cy="819.7" r="15.7"/>
<circle cx="989.8" cy="807.2" r="15.7"/>
<circle cx="990.9" cy="756.6" r="15.7"/>
<circle cx="991.9" cy="740.2" r="15.7"/>
<circle cx="993.0" cy="756.6" r="15.7"/>
<circle cx="994.0" cy="765.5" r="15.7"/>
<circle cx="995.0" cy="795.7" r="15.7"/>
<circle cx="996.1" cy="807.2" r="15.7"/>
<circle cx="997.1" cy="785.0" r="15.7"/>
<circle cx="998.2" cy="795.7" r="15.7"/>
<circle cx="999.2" cy="795.7" r="15.7"/>
<circle cx="1000.3" cy="848.0" r="15.7"/>
<circle cx="1001.3" cy="882.7" r="15.7"/>
<circle cx="1002.4" cy="903.5" r="15.7"/>
<circle cx="1003.4" cy="882.7" r="15.7"/>
<circle cx="1004.5" cy="795.7" r="15.7"/>
<circle cx="1005.5" cy="756.6" r="15.7"/>
<circle cx="1006.6" cy="819.7" r="15.7"/>
<circle cx="1007.6" cy="882.7" r="15.7"/>
<circle cx="1008.6" cy="882.7" r="15.7"/>
<circle cx="1009.7" cy="819.7" r="15.7"/>
<circle cx="1010.7" cy="748.2" r="15.7"/>
<circle cx="1011.8" cy="740.2" r="15.7"/>
<circle cx="1012.8" cy="955.8" r="15.7"/>
<circle cx="1013.9" cy="785.0" r="15.7"/>
<circle cx="1014.9" cy="795.7" r="15.7"/>
<circle cx="1016.0" cy="819.7" r="15.7"/>
<circle cx="1017.0" cy="795.7" r="15.7"/>
<circle cx="1018.1" cy="807.2" r="15.7"/>
<circle cx="1019.1" cy="807.2" r="15.7"/>
<circle cx="1020.2" cy="807.2" r="15.7"/>
<circle cx="1021.2" cy="882.7" r="15.7"/>
<circle cx="1022.2" cy="774.9" r="15.7"/>
<circle cx="1023.3" cy="833.2" r="15.7"/>
<circle cx="1024.3" cy="785.0" r="15.7"/>
<circle cx="1025.4" cy="748.2" r="15.7"/>
<circle cx="1026.4" cy="740.2" r="15.7"/>
<circle cx="1027.5" cy="848.0" r="15.7"/>
<circle cx="1028.5" cy="748.2" r="15.7"/>
<circle cx="1029.6" cy="927.4" r="15.7"/>
<circle cx="1030.6" cy="785.0" r="15.7"/>
<circle cx="1031.7" cy="903.5" r="15.7"/>
<circle cx="1032.7" cy="882.7" r="15.7"/>
<circle cx="1033.7" cy="927.4" r="15.7"/>
<circle cx="1034.8" cy="740.2" r="15.7"/>
<circle cx="1035.8" cy="819.7" r="15.7"/>
<circle cx="1036.9" cy="882.7" r="15.7"/>
<circle cx="1037.9" cy="955.8" r="15.7"/>
<circle cx="1039.0" cy="756.6" r="15.7"/>
<circle cx="1040.0" cy="882.7" r="15.7"/>
<circle cx="1041.1" cy="785.0" r="15.7"/>
<circle cx="1042.1" cy="765.5" r="15.7"/>
<circle cx="1043.2" cy="882.7" r="15.7"/>
<circle cx="1044.2" cy="903.5" r="15.7"/>
<circle cx="1045.3" cy="882.7" r="15.7"/>
<circle cx="1046.3" cy="903.5" r="15.7"/>
<circle cx="1047.3" cy="833.2" r="15.7"/>
<circle cx="1048.4" cy="927.4" r="15.7"/>
<circle cx="1049.4" cy="864.4" r="15.7"/>
<circle cx="1050.5" cy="955.8" r="15.7"/>
<circle cx="1051.5" cy="785.0" r="15.7"/>
<circle cx="1052.6" cy="833.2" r="15.7"/>
<circle cx="1053.6" cy="882.7" r="15.7"/>
<circle cx="1054.7" cy="864.4" r="15.7"/>
<circle cx="1055.7" cy="848.0" r="15.7"/>
<circle cx="1056.8" cy="819.7" r="15.7"/>
<circle cx="1058.9" cy="795.7" r="15.7"/>
<circle cx="1059.9" cy="833.2" r="15.7"/>
<circle cx="1060.9" cy="740.2" r="15.7"/>
<circle cx="1062.0" cy="774.9" r="15.7"/>
<circle cx="1063.0" cy="864.4" r="15.7"/>
<circle cx="1064.1" cy="882.7" r="15.7"/>
<circle cx="1065.1" cy="819.7" r="15.7"/>
<circle cx="1066.2" cy="819.7" r="15.7"/>
<circle cx="1067.2" cy="807.2" r="15.7"/>
<circle cx="1068.3" cy="833.2" r="15.7"/>
<circle cx="1069.3" cy="807.2" r="15.7"/>
<circle cx="1070.4" cy="807.2" r="15.7"/>
<circle cx="1071.4" cy="882.7" r="15.7"/>
<circle cx="1072.5" cy="819.7" r="15.7"/>
<circle cx="1073.5" cy="882.7" r="15.7"/>
<circle cx="1074.5" cy="807.2" r="15.7"/>
<circle cx="1075.6" cy="848.0" r="15.7"/>
<circle cx="1076.6" cy="774.9" r="15.7"/>
<circle cx="1077.7" cy="882.7" r="15.7"/>
<circle cx="1078.7" cy="785.0" r="15.7"/>
<circle cx="1079.8" cy="795.7" r="15.7"/>
<circle cx="1080.8" cy="819.7" r="15.7"/>
<circle cx="1081.9" cy="848.0" r="15.7"/>
<circle cx="1082.9" cy="882.7" r="15.7"/>
<circle cx="1084.0" cy="774.9" r="15.7"/>
<circle cx="1085.0" cy="903.5" r="15.7"/>
<circle cx="1086.1" cy="756.6" r="15.7"/>
<circle cx="1087.1" cy="955.8" r="15.7"/>
<circle cx="1088.1" cy="833.2" r="15.7"/>
<circle cx="1089.2" cy="807.2" r="15.7"/>
<circle cx="1090.2" cy="903.5" r="15.7"/>
<circle cx="1091.3" cy="864.4" r="15.7"/>
<circle cx="1092.3" cy="807.2" r="15.7"/>
<circle cx="1093.4" cy="882.7" r="15.7"/>
<circle cx="1094.4" cy="955.8" r="15.7"/>
<circle cx="1095.5" cy="756.6" r="15.7"/>
<circle cx="1096.5" cy="864.4" r="15.7"/>
<circle cx="1097.6" cy="864.4" r="15.7"/>
<circle cx="1098.6" cy="785.0" r="15.7"/>
<circle cx="1099.6" cy="882.7" r="15.7"/>
<circle cx="1100.7" cy="833.2" r="15.7"/>
<circle cx="1101.7" cy="882.7" r="15.7"/>
<circle cx="1102.8" cy="955.8" r="15.7"/>
<circle cx="1103.8" cy="833.2" r="15.7"/>
<circle cx="1104.9" cy="864.4" r="15.7"/>
<circle cx="1105.9" cy="848.0" r="15.7"/>
<circle cx="1107.0" cy="848.0" r="15.7"/>
<circle cx="1108.0" cy="833.2" r="15.7"/>
<circle cx="1109.1" cy="955.8" r="15.7"/>
<circle cx="1110.1" cy="765.5" r="15.7"/>
<circle cx="1111.2" cy="785.0" r="15.7"/>
<circle cx="1112.2" cy="990.5" r="15.7"/>
<circle cx="1113.2" cy="903.5" r="15.7"/>
<circle cx="1114.3" cy="927.4" r="15.7"/>
<circle cx="1115.3" cy="927.4" r="15.7"/>
<circle cx="1116.4" cy="903.5" r="15.7"/>
<circle cx="1117.4" cy="903.5" r="15.7"/>
<circle cx="1118.5" cy="756.6" r="15.7"/>
<circle cx="1119.5" cy="756.6" r="15.7"/>
<circle cx="1120.6" cy="819.7" r="15.7"/>
<circle cx="1121.6" cy="819.7" r="15.7"/>
<circle cx="1122.7" cy="864.4" r="15.7"/>
<circle cx="1123.7" cy="833.2" r="15.7"/>
<circle cx="1124.8" cy="774.9" r="15.7"/>
<circle cx="1125.8" cy="807.2" r="15.7"/>
<circle cx="1126.8" cy="807.2" r="15.7"/>
<circle cx="1127.9" cy="882.7" r="15.7"/>
<circle cx="1128.9" cy="819.7" r="15.7"/>
<circle cx="1130.0" cy="882.7" r="15.7"/>
<circle cx="1131.0" cy="807.2" r="15.7"/>
<circle cx="1132.1" cy="833.2" r="15.7"/>
<circle cx="1133.1" cy="955.8" r="15.7"/>
<circle cx="1134.2" cy="927.4" r="15.7"/>
<circle cx="1135.2" cy="864.4" r="15.7"/>
<circle cx="1136.3" cy="848.0" r="15.7"/>
<circle cx="1137.3" cy="833.2" r="15.7"/>
<circle cx="1138.4" cy="848.0" r="15.7"/>
<circle cx="1139.4" cy="882.7" r="15.7"/>
<circle cx="1140.4" cy="848.0" r="15.7"/>
<circle cx="1141.5" cy="819.7" r="15.7"/>
<circle cx="1142.5" cy="864.4" r="15.7"/>
<circle cx="1143.6" cy="774.9" r="15.7"/>
<circle cx="1144.6" cy="903.5" r="15.7"/>
<circle cx="1146.7" cy="882.7" r="15.7"/>
<circle cx="1147.8" cy="927.4" r="15.7"/>
<circle cx="1148.8" cy="927.4" r="15.7"/>
<circle cx="1149.9" cy="903.5" r="15.7"/>
<circle cx="1150.9" cy="927.4" r="15.7"/>
<circle cx="1152.0" cy="864.4" r="15.7"/>
<circle cx="1153.0" cy="848.0" r="15.7"/>
<circle cx="1154.0" cy="833.2" r="15.7"/>
<circle cx="1155.1" cy="864.4" r="15.7"/>
<circle cx="1156.1" cy="795.7" r="15.7"/>
<circle cx="1157.2" cy="819.7" r="15.7"/>
<circle cx="1158.2" cy="833.2" r="15.7"/>
<circle cx="1159.3" cy="848.0" r="15.7"/>
<circle cx="1160.3" cy="955.8" r="15.7"/>
<circle cx="1161.4" cy="833.2" r="15.7"/>
<circle cx="1162.4" cy="864.4" r="15.7"/>
<circle cx="1163.5" cy="955.8" r="15.7"/>
<circle cx="1164.5" cy="774.9" r="15.7"/>
<circle cx="1165.5" cy="864.4" r="15.7"/>
<circle cx="1166.6" cy="882.7" r="15.7"/>
<circle cx="1167.6" cy="785.0" r="15.7"/>
<circle cx="1168.7" cy="903.5" r="15.7"/>
<circle cx="1169.7" cy="864.4" r="15.7"/>
<circle cx="1170.8" cy="864.4" r="15.7"/>
<circle cx="1171.8" cy="807.2" r="15.7"/>
<circle cx="1172.9" cy="882.7" r="15.7"/>
<circle cx="1173.9" cy="990.5" r="15.7"/>
<circle cx="1175.0" cy="955.8" r="15.7"/>
<circle cx="1176.0" cy="848.0" r="15.7"/>
<circle cx="1177.1" cy="864.4" r="15.7"/>
<circle cx="1178.1" cy="927.4" r="15.7"/>
<circle cx="1179.1" cy="833.2" r="15.7"/>
<circle cx="1180.2" cy="903.5" r="15.7"/>
<circle cx="1181.2" cy="774.9" r="15.7"/>
<circle cx="1182.3" cy="903.5" r="15.7"/>
<circle cx="1183.3" cy="795.7" r="15.7"/>
<circle cx="1184.4" cy="848.0" r="15.7"/>
<circle cx="1185.4" cy="927.4" r="15.7"/>
<circle cx="1186.5" cy="864.4" r="15.7"/>
<circle cx="1187.5" cy="819.7" r="15.7"/>
<circle cx="1188.6" cy="864.4" r="15.7"/>
<circle cx="1189.6" cy="927.4" r="15.7"/>
<circle cx="1190.7" cy="990.5" r="15.7"/>
<circle cx="1191.7" cy="833.2" r="15.7"/>
<circle cx="1192.7" cy="819.7" r="15.7"/>
<circle cx="1193.8" cy="785.0" r="15.7"/>
<circle cx="1194.8" cy="833.2" r="15.7"/>
<circle cx="1195.9" cy="990.5" r="15.7"/>
<circle cx="1196.9" cy="903.5" r="15.7"/>
<circle cx="1198.0" cy="882.7" r="15.7"/>
<circle cx="1199.0" cy="807.2" r="15.7"/>
<circle cx="1200.1" cy="882.7" r="15.7"/>
<circle cx="1201.1" cy="765.5" r="15.7"/>
<circle cx="1202.2" cy="848.0" r="15.7"/>
<circle cx="1204.3" cy="927.4" r="15.7"/>
<circle cx="1205.3" cy="833.2" r="15.7"/>
<circle cx="1206.3" cy="864.4" r="15.7"/>
<circle cx="1207.4" cy="903.5" r="15.7"/>
<circle cx="1208.4" cy="848.0" r="15.7"/>
<circle cx="1209.5" cy="807.2" r="15.7"/>
<circle cx="1210.5" cy="795.7" r="15.7"/>
<circle cx="1212.6" cy="903.5" r="15.7"/>
<circle cx="1213.7" cy="807.2" r="15.7"/>
<circle cx="1214.7" cy="903.5" r="15.7"/>
<circle cx="1215.8" cy="864.4" r="15.7"/>
<circle cx="1216.8" cy="864.4" r="15.7"/>
<circle cx="1218.9" cy="833.2" r="15.7"/>
<circle cx="1219.9" cy="927.4" r="15.7"/>
<circle cx="1221.0" cy="833.2" r="15.7"/>
<circle cx="1222.0" cy="785.0" r="15.7"/>
<circle cx="1223.1" cy="882.7" r="15.7"/>
<circle cx="1224.1" cy="864.4" r="15.7"/>
<circle cx="1225.2" cy="848.0" r="15.7"/>
<circle cx="1226.2" cy="774.9" r="15.7"/>
<circle cx="1227.3" cy="819.7" r="15.7"/>
<circle cx="1228.3" cy="882.7" r="15.7"/>
<circle cx="1229.4" cy="848.0" r="15.7"/>
<circle cx="1230.4" cy="990.5" r="15.7"/>
<circle cx="1231.4" cy="833.2" r="15.7"/>
<circle cx="1232.5" cy="807.2" r="15.7"/>
<circle cx="1233.5" cy="848.0" r="15.7"/>
<circle cx="1234.6" cy="927.4" r="15.7"/>
<circle cx="1235.6" cy="819.7" r="15.7"/>
<circle cx="1236.7" cy="785.0" r="15.7"/>
<circle cx="1237.7" cy="903.5" r="15.7"/>
<circle cx="1238.8" cy="864.4" r="15.7"/>
<circle cx="1239.8" cy="864.4" r="15.7"/>
<circle cx="1240.9" cy="848.0" r="15.7"/>
<circle cx="1241.9" cy="882.7" r="15.7"/>
<circle cx="1243.0" cy="903.5" r="15.7"/>
<circle cx="1244.0" cy="833.2" r="15.7"/>
<circle cx="1245.0" cy="882.7" r="15.7"/>
<circle cx="1246.1" cy="819.7" r="15.7"/>
<circle cx="1247.1" cy="833.2" r="15.7"/>
<circle cx="1248.2" cy="903.5" r="15.7"/>
<circle cx="1249.2" cy="882.7" r="15.7"/>
<circle cx="1250.3" cy="882.7" r="15.7"/>
<circle cx="1251.3" cy="990.5" r="15.7"/>
<circle cx="1252.4" cy="903.5" r="15.7"/>
<circle cx="1253.4" cy="903.5" r="15.7"/>
<circle cx="1254.5" cy="927.4" r="15.7"/>
<circle cx="1255.5" cy="819.7" r="15.7"/>
<circle cx="1256.6" cy="882.7" r="15.7"/>
<circle cx="1257.6" cy="903.5" r="15.7"/>
<circle cx="1258.6" cy="848.0" r="15.7"/>
<circle cx="1259.7" cy="785.0" r="15.7"/>
<circle cx="1260.7" cy="903.5" r="15.7"/>
<circle cx="1261.8" cy="848.0" r="15.7"/>
<circle cx="1262.8" cy="955.8" r="15.7"/>
<circle cx="1263.9" cy="819.7" r="15.7"/>
<circle cx="1264.9" cy="807.2" r="15.7"/>
<circle cx="1266.0" cy="903.5" r="15.7"/>
<circle cx="1267.0" cy="833.2" r="15.7"/>
<circle cx="1268.1" cy="833.2" r="15.7"/>
<circle cx="1269.1" cy="882.7" r="15.7"/>
<circle cx="1270.2" cy="848.0" r="15.7"/>
<circle cx="1271.2" cy="807.2" r="15.7"/>
<circle cx="1272.2" cy="864.4" r="15.7"/>
<circle cx="1273.3" cy="927.4" r="15.7"/>
<circle cx="1274.3" cy="774.9" r="15.7"/>
<circle cx="1275.4" cy="807.2" r="15.7"/>
<circle cx="1276.4" cy="819.7" r="15.7"/>
<circle cx="1277.5" cy="819.7" r="15.7"/>
<circle cx="1278.5" cy="927.4" r="15.7"/>
<circle cx="1279.6" cy="848.0" r="15.7"/>
<circle cx="1280.6" cy="903.5" r="15.7"/>
<circle cx="1281.7" cy="903.5" r="15.7"/>
<circle cx="1282.7" cy="748.2" r="15.7"/>
<circle cx="1283.8" cy="864.4" r="15.7"/>
<circle cx="1284.8" cy="848.0" r="15.7"/>
<circle cx="1285.8" cy="819.7" r="15.7"/>
<circle cx="1286.9" cy="882.7" r="15.7"/>
<circle cx="1287.9" cy="848.0" r="15.7"/>
<circle cx="1289.0" cy="927.4" r="15.7"/>
<circle cx="1290.0" cy="807.2" r="15.7"/>
<circle cx="1292.1" cy="848.0" r="15.7"/>
<circle cx="1293.2" cy="882.7" r="15.7"/>
<circle cx="1294.2" cy="903.5" r="15.7"/>
<circle cx="1295.3" cy="927.4" r="15.7"/>
<circle cx="1296.3" cy="819.7" r="15.7"/>
<circle cx="1297.3" cy="864.4" r="15.7"/>
<circle cx="1298.4" cy="882.7" r="15.7"/>
<circle cx="1299.4" cy="990.5" r="15.7"/>
<circle cx="1300.5" cy="882.7" r="15.7"/>
<circle cx="1301.5" cy="819.7" r="15.7"/>
<circle cx="1302.6" cy="807.2" r="15.7"/>
<circle cx="1303.6" cy="833.2" r="15.7"/>
<circle cx="1304.7" cy="848.0" r="15.7"/>
<circle cx="1305.7" cy="819.7" r="15.7"/>
<circle cx="1306.8" cy="848.0" r="15.7"/>
<circle cx="1307.8" cy="848.0" r="15.7"/>
<circle cx="1308.9" cy="882.7" r="15.7"/>
<circle cx="1309.9" cy="955.8" r="15.7"/>
<circle cx="1310.9" cy="748.2" r="15.7"/>
<circle cx="1312.0" cy="882.7" r="15.7"/>
<circle cx="1313.0" cy="833.2" r="15.7"/>
<circle cx="1314.1" cy="819.7" r="15.7"/>
<circle cx="1315.1" cy="864.4" r="15.7"/>
<circle cx="1316.2" cy="774.9" r="15.7"/>
<circle cx="1317.2" cy="903.5" r="15.7"/>
<circle cx="1318.3" cy="833.2" r="15.7"/>
<circle cx="1319.3" cy="882.7" r="15.7"/>
<circle cx="1320.4" cy="955.8" r="15.7"/>
<circle cx="1321.4" cy="864.4" r="15.7"/>
<circle cx="1322.5" cy="848.0" r="15.7"/>
<circle cx="1323.5" cy="955.8" r="15.7"/>
<circle cx="1324.5" cy="864.4" r="15.7"/>
<circle cx="1325.6" cy="990.5" r="15.7"/>
<circle cx="1326.6" cy="848.0" r="15.7"/>
<circle cx="1327.7" cy="833.2" r="15.7"/>
<circle cx="1328.7" cy="819.7" r="15.7"/>
<circle cx="1330.8" cy="833.2" r="15.7"/>
<circle cx="1331.9" cy="819.7" r="15.7"/>
<circle cx="1332.9" cy="848.0" r="15.7"/>
<circle cx="1334.0" cy="795.7" r="15.7"/>
<circle cx="1335.0" cy="903.5" r="15.7"/>
<circle cx="1336.1" cy="882.7" r="15.7"/>
<circle cx="1337.1" cy="882.7" r="15.7"/>
<circle cx="1338.1" cy="903.5" r="15.7"/>
<circle cx="1339.2" cy="903.5" r="15.7"/>
<circle cx="1340.2" cy="795.7" r="15.7"/>
<circle cx="1341.3" cy="882.7" r="15.7"/>
<circle cx="1342.3" cy="882.7" r="15.7"/>
<circle cx="1343.4" cy="795.7" r="15.7"/>
<circle cx="1344.4" cy="927.4" r="15.7"/>
<circle cx="1345.5" cy="740.2" r="15.7"/>
<circle cx="1346.5" cy="864.4" r="15.7"/>
<circle cx="1347.6" cy="882.7" r="15.7"/>
<circle cx="1348.6" cy="882.7" r="15.7"/>
<circle cx="1349.7" cy="903.5" r="15.7"/>
<circle cx="1350.7" cy="955.8" r="15.7"/>
<circle cx="1351.7" cy="819.7" r="15.7"/>
<circle cx="1352.8" cy="833.2" r="15.7"/>
<circle cx="1353.8" cy="864.4" r="15.7"/>
<circle cx="1354.9" cy="864.4" r="15.7"/>
<circle cx="1355.9" cy="795.7" r="15.7"/>
<circle cx="1357.0" cy="833.2" r="15.7"/>
<circle cx="1359.1" cy="927.4" r="15.7"/>
<circle cx="1360.1" cy="833.2" r="15.7"/>
<circle cx="1361.2" cy="848.0" r="15.7"/>
<circle cx="1362.2" cy="882.7" r="15.7"/>
<circle cx="1363.2" cy="927.4" r="15.7"/>
<circle cx="1364.3" cy="903.5" r="15.7"/>
<circle cx="1365.3" cy="864.4" r="15.7"/>
<circle cx="1366.4" cy="927.4" r="15.7"/>
<circle cx="1367.4" cy="903.5" r="15.7"/>
<circle cx="1368.5" cy="765.5" r="15.7"/>
<circle cx="1369.5" cy="927.4" r="15.7"/>
<circle cx="1370.6" cy="848.0" r="15.7"/>
<circle cx="1371.6" cy="927.4" r="15.7"/>
<circle cx="1372.7" cy="807.2" r="15.7"/>
<circle cx="1373.7" cy="903.5" r="15.7"/>
<circle cx="1375.8" cy="903.5" r="15.7"/>
<circle cx="1376.8" cy="765.5" r="15.7"/>
<circle cx="1377.9" cy="864.4" r="15.7"/>
<circle cx="1378.9" cy="807.2" r="15.7"/>
<circle cx="1380.0" cy="848.0" r="15.7"/>
<circle cx="1381.0" cy="864.4" r="15.7"/>
<circle cx="1382.1" cy="903.5" r="15.7"/>
<circle cx="1383.1" cy="864.4" r="15.7"/>
<circle cx="1384.2" cy="882.7" r="15.7"/>
<circle cx="1385.2" cy="819.7" r="15.7"/>
<circle cx="1386.3" cy="864.4" r="15.7"/>
<circle cx="1387.3" cy="795.7" r="15.7"/>
<circle cx="1388.4" cy="903.5" r="15.7"/>
<circle cx="1389.4" cy="927.4" r="15.7"/>
<circle cx="1390.4" cy="864.4" r="15.7"/>
<circle cx="1391.5" cy="927.4" r="15.7"/>
<circle cx="1392.5" cy="903.5" r="15.7"/>
<circle cx="1393.6" cy="807.2" r="15.7"/>
<circle cx="1394.6" cy="848.0" r="15.7"/>
<circle cx="1395.7" cy="848.0" r="15.7"/>
<circle cx="1396.7" cy="955.8" r="15.7"/>
<circle cx="1397.8" cy="990.5" r="15.7"/>
<circle cx="1398.8" cy="795.7" r="15.7"/>
<circle cx="1399.9" cy="903.5" r="15.7"/>
<circle cx="1400.9" cy="785.0" r="15.7"/>
<circle cx="1402.0" cy="903.5" r="15.7"/>
<circle cx="1403.0" cy="819.7" r="15.7"/>
<circle cx="1404.0" cy="848.0" r="15.7"/>
<circle cx="1405.1" cy="848.0" r="15.7"/>
<circle cx="1406.1" cy="819.7" r="15.7"/>
<circle cx="1407.2" cy="848.0" r="15.7"/>
<circle cx="1408.2" cy="807.2" r="15.7"/>
<circle cx="1409.3" cy="765.5" r="15.7"/>
<circle cx="1410.3" cy="795.7" r="15.7"/>
<circle cx="1411.4" cy="882.7" r="15.7"/>
<circle cx="1412.4" cy="990.5" r="15.7"/>
<circle cx="1413.5" cy="819.7" r="15.7"/>
<circle cx="1414.5" cy="955.8" r="15.7"/>
<circle cx="1415.6" cy="927.4" r="15.7"/>
<circle cx="1416.6" cy="927.4" r="15.7"/>
<circle cx="1417.6" cy="848.0" r="15.7"/>
<circle cx="1418.7" cy="927.4" r="15.7"/>
<circle cx="1419.7" cy="927.4" r="15.7"/>
<circle cx="1421.8" cy="927.4" r="15.7"/>
<circle cx="1422.9" cy="990.5" r="15.7"/>
<circle cx="1423.9" cy="848.0" r="15.7"/>
<circle cx="1425.0" cy="864.4" r="15.7"/>
<circle cx="1426.0" cy="903.5" r="15.7"/>
<circle cx="1427.1" cy="864.4" r="15.7"/>
<circle cx="1428.1" cy="882.7" r="15.7"/>
<circle cx="1429.1" cy="833.2" r="15.7"/>
<circle cx="1430.2" cy="864.4" r="15.7"/>
<circle cx="1431.2" cy="848.0" r="15.7"/>
<circle cx="1432.3" cy="903.5" r="15.7"/>
<circle cx="1433.3" cy="819.7" r="15.7"/>
<circle cx="1434.4" cy="833.2" r="15.7"/>
<circle cx="1435.4" cy="927.4" r="15.7"/>
<circle cx="1437.5" cy="748.2" r="15.7"/>
<circle cx="1438.6" cy="848.0" r="15.7"/>
<circle cx="1439.6" cy="955.8" r="15.7"/>
<circle cx="1440.7" cy="882.7" r="15.7"/>
<circle cx="1441.7" cy="903.5" r="15.7"/>
<circle cx="1442.7" cy="848.0" r="15.7"/>
<circle cx="1443.8" cy="848.0" r="15.7"/>
<circle cx="1444.8" cy="927.4" r="15.7"/>
<circle cx="1445.9" cy="955.8" r="15.7"/>
<circle cx="1446.9" cy="927.4" r="15.7"/>
<circle cx="1448.0" cy="864.4" r="15.7"/>
<circle cx="1449.0" cy="882.7" r="15.7"/>
<circle cx="1450.1" cy="833.2" r="15.7"/>
<circle cx="1451.1" cy="903.5" r="15.7"/>
<circle cx="1452.2" cy="927.4" r="15.7"/>
<circle cx="1453.2" cy="748.2" r="15.7"/>
<circle cx="1454.3" cy="774.9" r="15.7"/>
<circle cx="1455.3" cy="882.7" r="15.7"/>
<circle cx="1456.3" cy="864.4" r="15.7"/>
<circle cx="1457.4" cy="807.2" r="15.7"/>
<circle cx="1458.4" cy="785.0" r="15.7"/>
<circle cx="1460.5" cy="807.2" r="15.7"/>
<circle cx="1461.6" cy="864.4" r="15.7"/>
<circle cx="1462.6" cy="864.4" r="15.7"/>
<circle cx="1463.7" cy="927.4" r="15.7"/>
<circle cx="1464.7" cy="833.2" r="15.7"/>
<circle cx="1465.8" cy="833.2" r="15.7"/>
<circle cx="1466.8" cy="927.4" r="15.7"/>
<circle cx="1467.9" cy="819.7" r="15.7"/>
<circle cx="1468.9" cy="955.8" r="15.7"/>
<circle cx="1469.9" cy="807.2" r="15.7"/>
<circle cx="1471.0" cy="955.8" r="15.7"/>
<circle cx="1472.0" cy="795.7" r="15.7"/>
<circle cx="1473.1" cy="903.5" r="15.7"/>
<circle cx="1474.1" cy="848.0" r="15.7"/>
<circle cx="1475.2" cy="903.5" r="15.7"/>
<circle cx="1476.2" cy="903.5" r="15.7"/>
<circle cx="1477.3" cy="882.7" r="15.7"/>
<circle cx="1478.3" cy="903.5" r="15.7"/>
<circle cx="1479.4" cy="927.4" r="15.7"/>
<circle cx="1480.4" cy="848.0" r="15.7"/>
<circle cx="1482.5" cy="864.4" r="15.7"/>
<circle cx="1483.5" cy="882.7" r="15.7"/>
<circle cx="1484.6" cy="864.4" r="15.7"/>
<circle cx="1485.6" cy="927.4" r="15.7"/>
<circle cx="1486.7" cy="848.0" r="15.7"/>
<circle cx="1487.7" cy="795.7" r="15.7"/>
<circle cx="1488.8" cy="903.5" r="15.7"/>
<circle cx="1489.8" cy="785.0" r="15.7"/>
<circle cx="1490.9" cy="882.7" r="15.7"/>
<circle cx="1491.9" cy="955.8" r="15.7"/>
<circle cx="1493.0" cy="955.8" r="15.7"/>
<circle cx="1494.0" cy="1098.2" r="15.7"/>
<circle cx="1494.0" cy="833.2" r="15.7"/>
<circle cx="1495.0" cy="927.4" r="15.7"/>
<circle cx="1496.1" cy="882.7" r="15.7"/>
<circle cx="1497.1" cy="864.4" r="15.7"/>
<circle cx="1499.2" cy="864.4" r="15.7"/>
<circle cx="1500.3" cy="819.7" r="15.7"/>
<circle cx="1501.3" cy="990.5" r="15.7"/>
<circle cx="1502.4" cy="848.0" r="15.7"/>
<circle cx="1503.4" cy="864.4" r="15.7"/>
<circle cx="1504.5" cy="903.5" r="15.7"/>
<circle cx="1505.5" cy="807.2" r="15.7"/>
<circle cx="1506.6" cy="927.4" r="15.7"/>
<circle cx="1507.6" cy="848.0" r="15.7"/>
<circle cx="1508.6" cy="882.7" r="15.7"/>
<circle cx="1509.7" cy="848.0" r="15.7"/>
<circle cx="1510.7" cy="819.7" r="15.7"/>
<circle cx="1511.8" cy="882.7" r="15.7"/>
<circle cx="1512.8" cy="882.7" r="15.7"/>
<circle cx="1513.9" cy="848.0" r="15.7"/>
<circle cx="1514.9" cy="833.2" r="15.7"/>
<circle cx="1516.0" cy="795.7" r="15.7"/>
<circle cx="1517.0" cy="882.7" r="15.7"/>
<circle cx="1518.1" cy="903.5" r="15.7"/>
<circle cx="1519.1" cy="864.4" r="15.7"/>
<circle cx="1520.2" cy="864.4" r="15.7"/>
<circle cx="1522.2" cy="864.4" r="15.7"/>
<circle cx="1523.3" cy="807.2" r="15.7"/>
<circle cx="1524.3" cy="807.2" r="15.7"/>
<circle cx="1525.4" cy="807.2" r="15.7"/>
<circle cx="1526.4" cy="819.7" r="15.7"/>
<circle cx="1527.5" cy="864.4" r="15.7"/>
<circle cx="1528.5" cy="927.4" r="15.7"/>
<circle cx="1529.6" cy="927.4" r="15.7"/>
<circle cx="1530.6" cy="785.0" r="15.7"/>
<circle cx="1531.7" cy="864.4" r="15.7"/>
<circle cx="1532.7" cy="819.7" r="15.7"/>
<circle cx="1533.8" cy="819.7" r="15.7"/>
<circle cx="1534.8" cy="990.5" r="15.7"/>
<circle cx="1535.8" cy="903.5" r="15.7"/>
<circle cx="1536.9" cy="882.7" r="15.7"/>
<circle cx="1537.9" cy="882.7" r="15.7"/>
<circle cx="1539.0" cy="848.0" r="15.7"/>
<circle cx="1540.0" cy="927.4" r="15.7"/>
<circle cx="1541.1" cy="864.4" r="15.7"/>
<circle cx="1542.1" cy="927.4" r="15.7"/>
<circle cx="1543.2" cy="955.8" r="15.7"/>
<circle cx="1544.2" cy="903.5" r="15.7"/>
<circle cx="1545.3" cy="927.4" r="15.7"/>
<circle cx="1546.3" cy="955.8" r="15.7"/>
<circle cx="1547.3" cy="833.2" r="15.7"/>
<circle cx="1548.4" cy="807.2" r="15.7"/>
<circle cx="1549.4" cy="864.4" r="15.7"/>
<circle cx="1550.5" cy="833.2" r="15.7"/>
<circle cx="1551.5" cy="819.7" r="15.7"/>
<circle cx="1552.6" cy="833.2" r="15.7"/>
<circle cx="1553.6" cy="819.7" r="15.7"/>
<circle cx="1554.7" cy="819.7" r="15.7"/>
<circle cx="1555.7" cy="882.7" r="15.7"/>
<circle cx="1556.8" cy="819.7" r="15.7"/>
<circle cx="1557.8" cy="807.2" r="15.7"/>
<circle cx="1558.9" cy="848.0" r="15.7"/>
<circle cx="1559.9" cy="864.4" r="15.7"/>
<circle cx="1560.9" cy="990.5" r="15.7"/>
<circle cx="1562.0" cy="833.2" r="15.7"/>
<circle cx="1563.0" cy="903.5" r="15.7"/>
<circle cx="1564.1" cy="903.5" r="15.7"/>
<circle cx="1565.1" cy="882.7" r="15.7"/>
<circle cx="1566.2" cy="927.4" r="15.7"/>
<circle cx="1567.2" cy="882.7" r="15.7"/>
<circle cx="1568.3" cy="882.7" r="15.7"/>
<circle cx="1569.3" cy="903.5" r="15.7"/>
<circle cx="1570.4" cy="927.4" r="15.7"/>
<circle cx="1571.4" cy="882.7" r="15.7"/>
<circle cx="1572.5" cy="848.0" r="15.7"/>
<circle cx="1574.5" cy="833.2" r="15.7"/>
<circle cx="1575.6" cy="882.7" r="15.7"/>
<circle cx="1576.6" cy="955.8" r="15.7"/>
<circle cx="1577.7" cy="848.0" r="15.7"/>
<circle cx="1578.7" cy="848.0" r="15.7"/>
<circle cx="1579.8" cy="785.0" r="15.7"/>
<circle cx="1580.8" cy="903.5" r="15.7"/>
<circle cx="1581.9" cy="833.2" r="15.7"/>
<circle cx="1582.9" cy="848.0" r="15.7"/>
<circle cx="1584.0" cy="819.7" r="15.7"/>
<circle cx="1585.0" cy="833.2" r="15.7"/>
<circle cx="1586.1" cy="903.5" r="15.7"/>
<circle cx="1587.1" cy="833.2" r="15.7"/>
<circle cx="1588.1" cy="903.5" r="15.7"/>
<circle cx="1589.2" cy="819.7" r="15.7"/>
<circle cx="1590.2" cy="927.4" r="15.7"/>
<circle cx="1591.3" cy="833.2" r="15.7"/>
<circle cx="1592.3" cy="848.0" r="15.7"/>
<circle cx="1593.4" cy="903.5" r="15.7"/>
<circle cx="1595.5" cy="990.5" r="15.7"/>
<circle cx="1596.5" cy="864.4" r="15.7"/>
<circle cx="1597.6" cy="848.0" r="15.7"/>
<circle cx="1598.6" cy="819.7" r="15.7"/>
<circle cx="1599.7" cy="882.7" r="15.7"/>
<circle cx="1600.7" cy="864.4" r="15.7"/>
<circle cx="1601.7" cy="833.2" r="15.7"/>
<circle cx="1602.8" cy="903.5" r="15.7"/>
<circle cx="1603.8" cy="807.2" r="15.7"/>
<circle cx="1604.9" cy="903.5" r="15.7"/>
<circle cx="1605.9" cy="864.4" r="15.7"/>
<circle cx="1607.0" cy="955.8" r="15.7"/>
<circle cx="1608.0" cy="882.7" r="15.7"/>
<circle cx="1609.1" cy="848.0" r="15.7"/>
<circle cx="1610.1" cy="882.7" r="15.7"/>
<circle cx="1611.2" cy="848.0" r="15.7"/>
<circle cx="1612.2" cy="848.0" r="15.7"/>
<circle cx="1613.2" cy="833.2" r="15.7"/>
<circle cx="1614.3" cy="765.5" r="15.7"/>
<circle cx="1615.3" cy="903.5" r="15.7"/>
<circle cx="1616.4" cy="864.4" r="15.7"/>
<circle cx="1617.4" cy="903.5" r="15.7"/>
<circle cx="1618.5" cy="955.8" r="15.7"/>
<circle cx="1619.5" cy="819.7" r="15.7"/>
<circle cx="1620.6" cy="785.0" r="15.7"/>
<circle cx="1621.6" cy="990.5" r="15.7"/>
<circle cx="1622.7" cy="848.0" r="15.7"/>
<circle cx="1623.7" cy="774.9" r="15.7"/>
<circle cx="1624.8" cy="882.7" r="15.7"/>
<circle cx="1625.8" cy="864.4" r="15.7"/>
<circle cx="1626.8" cy="955.8" r="15.7"/>
<circle cx="1627.9" cy="848.0" r="15.7"/>
<circle cx="1628.9" cy="864.4" r="15.7"/>
<circle cx="1630.0" cy="848.0" r="15.7"/>
<circle cx="1631.0" cy="955.8" r="15.7"/>
<circle cx="1632.1" cy="903.5" r="15.7"/>
<circle cx="1633.1" cy="864.4" r="15.7"/>
<circle cx="1634.2" cy="927.4" r="15.7"/>
<circle cx="1635.2" cy="795.7" r="15.7"/>
<circle cx="1636.3" cy="990.5" r="15.7"/>
<circle cx="1637.3" cy="807.2" r="15.7"/>
<circle cx="1638.4" cy="990.5" r="15.7"/>
<circle cx="1639.4" cy="990.5" r="15.7"/>
<circle cx="1640.4" cy="903.5" r="15.7"/>
<circle cx="1641.5" cy="795.7" r="15.7"/>
<circle cx="1642.5" cy="785.0" r="15.7"/>
<circle cx="1643.6" cy="990.5" r="15.7"/>
<circle cx="1644.6" cy="807.2" r="15.7"/>
<circle cx="1646.7" cy="864.4" r="15.7"/>
<circle cx="1647.8" cy="882.7" r="15.7"/>
<circle cx="1648.8" cy="864.4" r="15.7"/>
<circle cx="1649.9" cy="819.7" r="15.7"/>
<circle cx="1652.0" cy="903.5" r="15.7"/>
<circle cx="1653.0" cy="927.4" r="15.7"/>
<circle cx="1654.0" cy="864.4" r="15.7"/>
<circle cx="1655.1" cy="955.8" r="15.7"/>
<circle cx="1656.1" cy="848.0" r="15.7"/>
<circle cx="1657.2" cy="833.2" r="15.7"/>
<circle cx="1658.2" cy="819.7" r="15.7"/>
<circle cx="1659.3" cy="819.7" r="15.7"/>
<circle cx="1661.4" cy="848.0" r="15.7"/>
<circle cx="1662.4" cy="833.2" r="15.7"/>
<circle cx="1663.5" cy="864.4" r="15.7"/>
<circle cx="1664.5" cy="833.2" r="15.7"/>
<circle cx="1665.6" cy="903.5" r="15.7"/>
<circle cx="1666.6" cy="903.5" r="15.7"/>
<circle cx="1667.6" cy="955.8" r="15.7"/>
<circle cx="1668.7" cy="848.0" r="15.7"/>
<circle cx="1669.7" cy="833.2" r="15.7"/>
<circle cx="1670.8" cy="927.4" r="15.7"/>
<circle cx="1671.8" cy="864.4" r="15.7"/>
<circle cx="1672.9" cy="903.5" r="15.7"/>
<circle cx="1673.9" cy="819.7" r="15.7"/>
<circle cx="1675.0" cy="819.7" r="15.7"/>
<circle cx="1676.0" cy="864.4" r="15.7"/>
<circle cx="1677.1" cy="882.7" r="15.7"/>
<circle cx="1678.1" cy="955.8" r="15.7"/>
<circle cx="1679.1" cy="848.0" r="15.7"/>
<circle cx="1680.2" cy="927.4" r="15.7"/>
<circle cx="1681.2" cy="903.5" r="15.7"/>
<circle cx="1682.3" cy="903.5" r="15.7"/>
<circle cx="1683.3" cy="795.7" r="15.7"/>
<circle cx="1684.4" cy="990.5" r="15.7"/>
<circle cx="1685.4" cy="927.4" r="15.7"/>
<circle cx="1686.5" cy="819.7" r="15.7"/>
<circle cx="1687.5" cy="848.0" r="15.7"/>
<circle cx="1688.6" cy="807.2" r="15.7"/>
<circle cx="1689.6" cy="927.4" r="15.7"/>
<circle cx="1690.7" cy="833.2" r="15.7"/>
<circle cx="1691.7" cy="927.4" r="15.7"/>
<circle cx="1692.7" cy="882.7" r="15.7"/>
<circle cx="1693.8" cy="795.7" r="15.7"/>
<circle cx="1694.8" cy="807.2" r="15.7"/>
<circle cx="1695.9" cy="833.2" r="15.7"/>
<circle cx="1696.9" cy="833.2" r="15.7"/>
<circle cx="1698.0" cy="785.0" r="15.7"/>
<circle cx="1699.0" cy="903.5" r="15.7"/>
<circle cx="1700.1" cy="955.8" r="15.7"/>
<circle cx="1701.1" cy="864.4" r="15.7"/>
<circle cx="1702.2" cy="848.0" r="15.7"/>
<circle cx="1703.2" cy="848.0" r="15.7"/>
<circle cx="1704.3" cy="927.4" r="15.7"/>
<circle cx="1705.3" cy="864.4" r="15.7"/>
<circle cx="1706.3" cy="795.7" r="15.7"/>
<circle cx="1707.4" cy="927.4" r="15.7"/>
<circle cx="1708.4" cy="882.7" r="15.7"/>
<circle cx="1709.5" cy="864.4" r="15.7"/>
<circle cx="1710.5" cy="903.5" r="15.7"/>
<circle cx="1711.6" cy="955.8" r="15.7"/>
<circle cx="1712.6" cy="795.7" r="15.7"/>
<circle cx="1713.7" cy="882.7" r="15.7"/>
<circle cx="1714.7" cy="848.0" r="15.7"/>
<circle cx="1715.8" cy="882.7" r="15.7"/>
<circle cx="1716.8" cy="903.5" r="15.7"/>
<circle cx="1717.9" cy="882.7" r="15.7"/>
<circle cx="1718.9" cy="927.4" r="15.7"/>
<circle cx="1721.0" cy="927.4" r="15.7"/>
<circle cx="1722.0" cy="833.2" r="15.7"/>
<circle cx="1723.1" cy="848.0" r="15.7"/>
<circle cx="1724.1" cy="990.5" r="15.7"/>
<circle cx="1725.2" cy="990.5" r="15.7"/>
<circle cx="1726.2" cy="864.4" r="15.7"/>
<circle cx="1727.3" cy="819.7" r="15.7"/>
<circle cx="1728.3" cy="882.7" r="15.7"/>
<circle cx="1729.4" cy="795.7" r="15.7"/>
<circle cx="1730.4" cy="955.8" r="15.7"/>
<circle cx="1731.5" cy="882.7" r="15.7"/>
<circle cx="1732.5" cy="955.8" r="15.7"/>
<circle cx="1733.5" cy="848.0" r="15.7"/>
<circle cx="1734.6" cy="807.2" r="15.7"/>
<circle cx="1735.6" cy="819.7" r="15.7"/>
<circle cx="1736.7" cy="848.0" r="15.7"/>
<circle cx="1737.7" cy="807.2" r="15.7"/>
<circle cx="1738.8" cy="848.0" r="15.7"/>
<circle cx="1739.8" cy="903.5" r="15.7"/>
<circle cx="1740.9" cy="882.7" r="15.7"/>
<circle cx="1741.9" cy="819.7" r="15.7"/>
<circle cx="1743.0" cy="819.7" r="15.7"/>
<circle cx="1744.0" cy="882.7" r="15.7"/>
<circle cx="1746.1" cy="833.2" r="15.7"/>
<circle cx="1747.1" cy="927.4" r="15.7"/>
<circle cx="1748.2" cy="807.2" r="15.7"/>
<circle cx="1749.2" cy="864.4" r="15.7"/>
<circle cx="1750.3" cy="848.0" r="15.7"/>
<circle cx="1751.3" cy="882.7" r="15.7"/>
<circle cx="1752.4" cy="833.2" r="15.7"/>
<circle cx="1753.4" cy="819.7" r="15.7"/>
<circle cx="1754.5" cy="903.5" r="15.7"/>
<circle cx="1755.5" cy="833.2" r="15.7"/>
<circle cx="1756.0" cy="1098.2" r="15.7"/>
</g>
<g fill="url(#gt)">
<circle cx="153.0" cy="990.5" r="15.7"/>
<circle cx="154.0" cy="1098.2" r="15.7"/>
<circle cx="155.0" cy="955.8" r="15.7"/>
<circle cx="155.0" cy="927.4" r="15.7"/>
<circle cx="156.0" cy="1035.2" r="15.7"/>
<circle cx="157.0" cy="1206.0" r="15.7"/>
<circle cx="158.0" cy="882.7" r="15.7"/>
<circle cx="163.0" cy="990.5" r="15.7"/>
<circle cx="164.0" cy="1035.2" r="15.7"/>
<circle cx="166.0" cy="955.8" r="15.7"/>
<circle cx="166.0" cy="927.4" r="15.7"/>
<circle cx="166.0" cy="1098.2" r="15.7"/>
<circle cx="172.0" cy="1206.0" r="15.7"/>
<circle cx="173.0" cy="1035.2" r="15.7"/>
<circle cx="175.0" cy="990.5" r="15.7"/>
<circle cx="178.0" cy="927.4" r="15.7"/>
<circle cx="180.0" cy="1098.2" r="15.7"/>
<circle cx="186.0" cy="990.5" r="15.7"/>
<circle cx="186.0" cy="1035.2" r="15.7"/>
<circle cx="187.0" cy="1206.0" r="15.7"/>
<circle cx="190.0" cy="927.4" r="15.7"/>
<circle cx="193.0" cy="848.0" r="15.7"/>
<circle cx="196.0" cy="990.5" r="15.7"/>
<circle cx="197.0" cy="1098.2" r="15.7"/>
<circle cx="200.0" cy="927.4" r="15.7"/>
<circle cx="200.0" cy="1035.2" r="15.7"/>
<circle cx="203.0" cy="903.5" r="15.7"/>
<circle cx="204.0" cy="955.8" r="15.7"/>
<circle cx="206.0" cy="990.5" r="15.7"/>
<circle cx="210.0" cy="927.4" r="15.7"/>
<circle cx="212.0" cy="903.5" r="15.7"/>
<circle cx="212.0" cy="882.7" r="15.7"/>
<circle cx="214.0" cy="955.8" r="15.7"/>
<circle cx="216.0" cy="1035.2" r="15.7"/>
<circle cx="222.0" cy="990.5" r="15.7"/>
<circle cx="222.0" cy="955.8" r="15.7"/>
<circle cx="222.0" cy="927.4" r="15.7"/>
<circle cx="222.0" cy="903.5" r="15.7"/>
<circle cx="228.0" cy="882.7" r="15.7"/>
<circle cx="232.0" cy="903.5" r="15.7"/>
<circle cx="236.0" cy="955.8" r="15.7"/>
<circle cx="237.0" cy="990.5" r="15.7"/>
<circle cx="238.0" cy="1098.2" r="15.7"/>
<circle cx="239.0" cy="927.4" r="15.7"/>
<circle cx="242.0" cy="882.7" r="15.7"/>
<circle cx="243.1" cy="819.7" r="15.7"/>
<circle cx="244.6" cy="795.7" r="15.7"/>
<circle cx="246.2" cy="765.5" r="15.7"/>
<circle cx="247.8" cy="725.4" r="15.7"/>
<circle cx="249.3" cy="705.5" r="15.7"/>
<circle cx="250.9" cy="677.2" r="15.7"/>
<circle cx="252.5" cy="621.2" r="15.7"/>
<circle cx="254.1" cy="566.9" r="15.7"/>
<circle cx="255.6" cy="488.5" r="15.7"/>
<circle cx="257.2" cy="436.6" r="15.7"/>
<circle cx="258.8" cy="400.3" r="15.7"/>
<circle cx="260.3" cy="365.3" r="15.7"/>
<circle cx="261.9" cy="346.3" r="15.7"/>
<circle cx="263.5" cy="325.0" r="15.7"/>
<circle cx="265.0" cy="297.9" r="15.7"/>
<circle cx="266.6" cy="273.3" r="15.7"/>
<circle cx="268.2" cy="258.2" r="15.7"/>
<circle cx="269.7" cy="247.1" r="15.7"/>
<circle cx="271.3" cy="237.9" r="15.7"/>
<circle cx="272.9" cy="229.0" r="15.7"/>
<circle cx="274.5" cy="215.9" r="15.7"/>
<circle cx="276.0" cy="202.9" r="15.7"/>
<circle cx="277.6" cy="189.5" r="15.7"/>
<circle cx="279.2" cy="176.3" r="15.7"/>
<circle cx="280.7" cy="163.8" r="15.7"/>
<circle cx="282.3" cy="159.7" r="15.7"/>
<circle cx="283.9" cy="155.6" r="15.7"/>
<circle cx="285.4" cy="151.7" r="15.7"/>
<circle cx="287.0" cy="147.5" r="15.7"/>
<circle cx="288.6" cy="143.6" r="15.7"/>
<circle cx="290.1" cy="141.3" r="15.7"/>
<circle cx="291.7" cy="139.2" r="15.7"/>
<circle cx="293.3" cy="137.1" r="15.7"/>
<circle cx="294.9" cy="135.0" r="15.7"/>
<circle cx="296.4" cy="132.8" r="15.7"/>
<circle cx="298.0" cy="132.3" r="15.7"/>
<circle cx="299.6" cy="132.9" r="15.7"/>
<circle cx="301.1" cy="133.6" r="15.7"/>
<circle cx="301.5" cy="133.7" r="15.7"/>
<circle cx="302.6" cy="135.5" r="15.7"/>
<circle cx="303.6" cy="134.5" r="15.7"/>
<circle cx="304.7" cy="136.9" r="15.7"/>
<circle cx="305.7" cy="136.3" r="15.7"/>
<circle cx="306.8" cy="137.2" r="15.7"/>
<circle cx="307.8" cy="138.5" r="15.7"/>
<circle cx="308.9" cy="138.5" r="15.7"/>
<circle cx="309.9" cy="147.5" r="15.7"/>
<circle cx="310.9" cy="154.2" r="15.7"/>
<circle cx="312.0" cy="153.7" r="15.7"/>
<circle cx="313.0" cy="154.0" r="15.7"/>
<circle cx="314.1" cy="153.7" r="15.7"/>
<circle cx="315.1" cy="159.7" r="15.7"/>
<circle cx="316.2" cy="164.8" r="15.7"/>
<circle cx="317.2" cy="174.9" r="15.7"/>
<circle cx="318.3" cy="177.1" r="15.7"/>
<circle cx="319.3" cy="180.5" r="15.7"/>
<circle cx="320.4" cy="189.9" r="15.7"/>
<circle cx="321.4" cy="196.1" r="15.7"/>
<circle cx="322.5" cy="197.5" r="15.7"/>
<circle cx="323.5" cy="198.5" r="15.7"/>
<circle cx="324.5" cy="211.4" r="15.7"/>
<circle cx="325.6" cy="209.1" r="15.7"/>
<circle cx="326.6" cy="208.9" r="15.7"/>
<circle cx="327.7" cy="211.7" r="15.7"/>
<circle cx="328.7" cy="213.0" r="15.7"/>
<circle cx="329.8" cy="214.3" r="15.7"/>
<circle cx="330.8" cy="221.9" r="15.7"/>
<circle cx="331.9" cy="221.9" r="15.7"/>
<circle cx="332.9" cy="225.8" r="15.7"/>
<circle cx="334.0" cy="231.9" r="15.7"/>
<circle cx="335.0" cy="231.9" r="15.7"/>
<circle cx="336.0" cy="228.4" r="15.7"/>
<circle cx="337.1" cy="239.8" r="15.7"/>
<circle cx="338.1" cy="247.7" r="15.7"/>
<circle cx="339.2" cy="253.4" r="15.7"/>
<circle cx="340.2" cy="242.6" r="15.7"/>
<circle cx="341.3" cy="247.7" r="15.7"/>
<circle cx="342.3" cy="251.1" r="15.7"/>
<circle cx="343.4" cy="257.2" r="15.7"/>
<circle cx="344.4" cy="262.5" r="15.7"/>
<circle cx="345.5" cy="271.4" r="15.7"/>
<circle cx="346.5" cy="267.2" r="15.7"/>
<circle cx="347.6" cy="266.1" r="15.7"/>
<circle cx="348.6" cy="277.2" r="15.7"/>
<circle cx="349.6" cy="280.0" r="15.7"/>
<circle cx="350.7" cy="281.6" r="15.7"/>
<circle cx="351.7" cy="280.4" r="15.7"/>
<circle cx="352.8" cy="279.6" r="15.7"/>
<circle cx="353.8" cy="276.4" r="15.7"/>
<circle cx="354.9" cy="274.9" r="15.7"/>
<circle cx="355.9" cy="276.8" r="15.7"/>
<circle cx="357.0" cy="277.6" r="15.7"/>
<circle cx="358.0" cy="292.1" r="15.7"/>
<circle cx="359.1" cy="297.0" r="15.7"/>
<circle cx="360.1" cy="291.7" r="15.7"/>
<circle cx="361.2" cy="294.8" r="15.7"/>
<circle cx="362.2" cy="298.8" r="15.7"/>
<circle cx="363.2" cy="312.6" r="15.7"/>
<circle cx="364.3" cy="320.2" r="15.7"/>
<circle cx="365.3" cy="311.1" r="15.7"/>
<circle cx="366.4" cy="309.6" r="15.7"/>
<circle cx="367.4" cy="313.6" r="15.7"/>
<circle cx="368.5" cy="317.1" r="15.7"/>
<circle cx="369.5" cy="327.7" r="15.7"/>
<circle cx="370.6" cy="321.8" r="15.7"/>
<circle cx="371.6" cy="316.1" r="15.7"/>
<circle cx="372.7" cy="310.6" r="15.7"/>
<circle cx="373.7" cy="318.7" r="15.7"/>
<circle cx="374.8" cy="325.0" r="15.7"/>
<circle cx="375.8" cy="335.0" r="15.7"/>
<circle cx="376.8" cy="326.6" r="15.7"/>
<circle cx="377.9" cy="320.8" r="15.7"/>
<circle cx="378.9" cy="333.3" r="15.7"/>
<circle cx="380.0" cy="335.0" r="15.7"/>
<circle cx="381.0" cy="337.9" r="15.7"/>
<circle cx="382.1" cy="345.1" r="15.7"/>
<circle cx="383.1" cy="361.9" r="15.7"/>
<circle cx="384.2" cy="357.8" r="15.7"/>
<circle cx="385.2" cy="350.7" r="15.7"/>
<circle cx="386.3" cy="361.2" r="15.7"/>
<circle cx="387.3" cy="363.9" r="15.7"/>
<circle cx="388.4" cy="382.2" r="15.7"/>
<circle cx="389.4" cy="361.9" r="15.7"/>
<circle cx="390.4" cy="357.8" r="15.7"/>
<circle cx="391.5" cy="359.2" r="15.7"/>
<circle cx="392.5" cy="363.2" r="15.7"/>
<circle cx="393.6" cy="368.8" r="15.7"/>
<circle cx="394.6" cy="368.8" r="15.7"/>
<circle cx="395.7" cy="371.0" r="15.7"/>
<circle cx="396.7" cy="373.2" r="15.7"/>
<circle cx="397.8" cy="373.2" r="15.7"/>
<circle cx="398.8" cy="373.2" r="15.7"/>
<circle cx="399.9" cy="363.2" r="15.7"/>
<circle cx="400.9" cy="381.5" r="15.7"/>
<circle cx="401.9" cy="379.2" r="15.7"/>
<circle cx="403.0" cy="385.4" r="15.7"/>
<circle cx="404.0" cy="392.7" r="15.7"/>
<circle cx="405.1" cy="406.6" r="15.7"/>
<circle cx="406.1" cy="392.7" r="15.7"/>
<circle cx="407.2" cy="398.6" r="15.7"/>
<circle cx="408.2" cy="400.3" r="15.7"/>
<circle cx="409.3" cy="393.5" r="15.7"/>
<circle cx="410.3" cy="402.1" r="15.7"/>
<circle cx="411.4" cy="399.5" r="15.7"/>
<circle cx="412.4" cy="399.5" r="15.7"/>
<circle cx="413.5" cy="393.5" r="15.7"/>
<circle cx="414.5" cy="390.2" r="15.7"/>
<circle cx="415.5" cy="403.9" r="15.7"/>
<circle cx="416.6" cy="396.9" r="15.7"/>
<circle cx="417.6" cy="402.1" r="15.7"/>
<circle cx="418.7" cy="403.9" r="15.7"/>
<circle cx="419.7" cy="408.4" r="15.7"/>
<circle cx="420.8" cy="403.0" r="15.7"/>
<circle cx="421.8" cy="417.9" r="15.7"/>
<circle cx="422.9" cy="414.0" r="15.7"/>
<circle cx="423.9" cy="404.8" r="15.7"/>
<circle cx="425.0" cy="413.1" r="15.7"/>
<circle cx="426.0" cy="398.6" r="15.7"/>
<circle cx="427.1" cy="416.0" r="15.7"/>
<circle cx="428.1" cy="416.9" r="15.7"/>
<circle cx="429.1" cy="423.9" r="15.7"/>
<circle cx="430.2" cy="429.0" r="15.7"/>
<circle cx="431.2" cy="436.6" r="15.7"/>
<circle cx="432.3" cy="436.6" r="15.7"/>
<circle cx="433.3" cy="433.3" r="15.7"/>
<circle cx="434.4" cy="438.8" r="15.7"/>
<circle cx="435.4" cy="428.0" r="15.7"/>
<circle cx="436.5" cy="417.9" r="15.7"/>
<circle cx="437.5" cy="439.9" r="15.7"/>
<circle cx="438.6" cy="431.2" r="15.7"/>
<circle cx="439.6" cy="432.2" r="15.7"/>
<circle cx="440.7" cy="433.3" r="15.7"/>
<circle cx="441.7" cy="415.0" r="15.7"/>
<circle cx="442.7" cy="416.9" r="15.7"/>
<circle cx="443.8" cy="427.0" r="15.7"/>
<circle cx="444.8" cy="433.3" r="15.7"/>
<circle cx="445.9" cy="457.8" r="15.7"/>
<circle cx="446.9" cy="445.7" r="15.7"/>
<circle cx="448.0" cy="452.8" r="15.7"/>
<circle cx="449.0" cy="449.2" r="15.7"/>
<circle cx="450.1" cy="448.0" r="15.7"/>
<circle cx="451.1" cy="441.1" r="15.7"/>
<circle cx="452.2" cy="428.0" r="15.7"/>
<circle cx="453.2" cy="431.2" r="15.7"/>
<circle cx="454.2" cy="431.2" r="15.7"/>
<circle cx="455.3" cy="445.7" r="15.7"/>
<circle cx="456.3" cy="446.8" r="15.7"/>
<circle cx="457.4" cy="444.5" r="15.7"/>
<circle cx="458.4" cy="465.6" r="15.7"/>
<circle cx="459.5" cy="443.3" r="15.7"/>
<circle cx="460.5" cy="459.1" r="15.7"/>
<circle cx="461.6" cy="472.4" r="15.7"/>
<circle cx="462.6" cy="452.8" r="15.7"/>
<circle cx="463.7" cy="438.8" r="15.7"/>
<circle cx="464.7" cy="459.1" r="15.7"/>
<circle cx="465.8" cy="469.6" r="15.7"/>
<circle cx="466.8" cy="438.8" r="15.7"/>
<circle cx="467.8" cy="452.8" r="15.7"/>
<circle cx="468.9" cy="480.9" r="15.7"/>
<circle cx="469.9" cy="482.4" r="15.7"/>
<circle cx="471.0" cy="457.8" r="15.7"/>
<circle cx="472.0" cy="459.1" r="15.7"/>
<circle cx="473.1" cy="460.4" r="15.7"/>
<circle cx="474.1" cy="455.3" r="15.7"/>
<circle cx="475.2" cy="459.1" r="15.7"/>
<circle cx="476.2" cy="472.4" r="15.7"/>
<circle cx="477.3" cy="491.6" r="15.7"/>
<circle cx="478.3" cy="480.9" r="15.7"/>
<circle cx="479.4" cy="491.6" r="15.7"/>
<circle cx="480.4" cy="486.9" r="15.7"/>
<circle cx="481.4" cy="468.3" r="15.7"/>
<circle cx="482.5" cy="471.0" r="15.7"/>
<circle cx="483.5" cy="476.6" r="15.7"/>
<circle cx="484.6" cy="480.9" r="15.7"/>
<circle cx="485.6" cy="476.6" r="15.7"/>
<circle cx="486.7" cy="473.8" r="15.7"/>
<circle cx="487.7" cy="494.7" r="15.7"/>
<circle cx="488.8" cy="490.0" r="15.7"/>
<circle cx="489.8" cy="473.8" r="15.7"/>
<circle cx="490.9" cy="475.2" r="15.7"/>
<circle cx="491.9" cy="491.6" r="15.7"/>
<circle cx="493.0" cy="499.6" r="15.7"/>
<circle cx="494.0" cy="517.1" r="15.7"/>
<circle cx="495.0" cy="515.3" r="15.7"/>
<circle cx="496.1" cy="490.0" r="15.7"/>
<circle cx="497.1" cy="494.7" r="15.7"/>
<circle cx="498.2" cy="504.7" r="15.7"/>
<circle cx="499.2" cy="508.1" r="15.7"/>
<circle cx="500.3" cy="506.4" r="15.7"/>
<circle cx="501.3" cy="504.7" r="15.7"/>
<circle cx="502.4" cy="508.1" r="15.7"/>
<circle cx="503.4" cy="513.4" r="15.7"/>
<circle cx="504.5" cy="503.0" r="15.7"/>
<circle cx="505.5" cy="490.0" r="15.7"/>
<circle cx="506.6" cy="504.7" r="15.7"/>
<circle cx="507.6" cy="511.7" r="15.7"/>
<circle cx="508.6" cy="499.6" r="15.7"/>
<circle cx="509.7" cy="519.0" r="15.7"/>
<circle cx="510.7" cy="520.9" r="15.7"/>
<circle cx="511.8" cy="520.9" r="15.7"/>
<circle cx="512.8" cy="515.3" r="15.7"/>
<circle cx="513.9" cy="519.0" r="15.7"/>
<circle cx="514.9" cy="526.6" r="15.7"/>
<circle cx="516.0" cy="519.0" r="15.7"/>
<circle cx="517.0" cy="530.6" r="15.7"/>
<circle cx="518.1" cy="543.2" r="15.7"/>
<circle cx="519.1" cy="552.3" r="15.7"/>
<circle cx="520.1" cy="528.6" r="15.7"/>
<circle cx="521.2" cy="543.2" r="15.7"/>
<circle cx="522.2" cy="528.6" r="15.7"/>
<circle cx="523.3" cy="520.9" r="15.7"/>
<circle cx="524.3" cy="515.3" r="15.7"/>
<circle cx="525.4" cy="522.8" r="15.7"/>
<circle cx="526.4" cy="530.6" r="15.7"/>
<circle cx="527.5" cy="530.6" r="15.7"/>
<circle cx="528.5" cy="536.8" r="15.7"/>
<circle cx="529.6" cy="547.7" r="15.7"/>
<circle cx="530.6" cy="526.6" r="15.7"/>
<circle cx="531.7" cy="538.9" r="15.7"/>
<circle cx="532.7" cy="519.0" r="15.7"/>
<circle cx="533.7" cy="522.8" r="15.7"/>
<circle cx="534.8" cy="534.7" r="15.7"/>
<circle cx="535.8" cy="532.7" r="15.7"/>
<circle cx="536.9" cy="522.8" r="15.7"/>
<circle cx="537.9" cy="545.5" r="15.7"/>
<circle cx="539.0" cy="552.3" r="15.7"/>
<circle cx="540.0" cy="559.4" r="15.7"/>
<circle cx="541.1" cy="550.0" r="15.7"/>
<circle cx="542.1" cy="543.2" r="15.7"/>
<circle cx="543.2" cy="543.2" r="15.7"/>
<circle cx="544.2" cy="552.3" r="15.7"/>
<circle cx="545.3" cy="557.0" r="15.7"/>
<circle cx="546.3" cy="541.1" r="15.7"/>
<circle cx="547.3" cy="532.7" r="15.7"/>
<circle cx="548.4" cy="541.1" r="15.7"/>
<circle cx="549.4" cy="559.4" r="15.7"/>
<circle cx="550.5" cy="550.0" r="15.7"/>
<circle cx="551.5" cy="550.0" r="15.7"/>
<circle cx="552.6" cy="550.0" r="15.7"/>
<circle cx="553.6" cy="534.7" r="15.7"/>
<circle cx="554.7" cy="536.8" r="15.7"/>
<circle cx="555.7" cy="557.0" r="15.7"/>
<circle cx="556.8" cy="569.4" r="15.7"/>
<circle cx="557.8" cy="550.0" r="15.7"/>
<circle cx="558.9" cy="552.3" r="15.7"/>
<circle cx="559.9" cy="547.7" r="15.7"/>
<circle cx="560.9" cy="557.0" r="15.7"/>
<circle cx="562.0" cy="569.4" r="15.7"/>
<circle cx="563.0" cy="564.3" r="15.7"/>
<circle cx="564.1" cy="547.7" r="15.7"/>
<circle cx="565.1" cy="554.6" r="15.7"/>
<circle cx="566.2" cy="572.0" r="15.7"/>
<circle cx="567.2" cy="572.0" r="15.7"/>
<circle cx="568.3" cy="577.4" r="15.7"/>
<circle cx="569.3" cy="572.0" r="15.7"/>
<circle cx="570.4" cy="559.4" r="15.7"/>
<circle cx="571.4" cy="545.5" r="15.7"/>
<circle cx="572.5" cy="557.0" r="15.7"/>
<circle cx="573.5" cy="569.4" r="15.7"/>
<circle cx="574.5" cy="572.0" r="15.7"/>
<circle cx="575.6" cy="572.0" r="15.7"/>
<circle cx="576.6" cy="580.1" r="15.7"/>
<circle cx="577.7" cy="577.4" r="15.7"/>
<circle cx="578.7" cy="577.4" r="15.7"/>
<circle cx="579.8" cy="591.7" r="15.7"/>
<circle cx="580.8" cy="580.1" r="15.7"/>
<circle cx="581.9" cy="583.0" r="15.7"/>
<circle cx="582.9" cy="594.7" r="15.7"/>
<circle cx="584.0" cy="583.0" r="15.7"/>
<circle cx="585.0" cy="588.7" r="15.7"/>
<circle cx="586.0" cy="566.9" r="15.7"/>
<circle cx="587.1" cy="572.0" r="15.7"/>
<circle cx="588.1" cy="577.4" r="15.7"/>
<circle cx="589.2" cy="591.7" r="15.7"/>
<circle cx="590.2" cy="594.7" r="15.7"/>
<circle cx="591.3" cy="583.0" r="15.7"/>
<circle cx="592.3" cy="594.7" r="15.7"/>
<circle cx="593.4" cy="585.8" r="15.7"/>
<circle cx="594.4" cy="614.1" r="15.7"/>
<circle cx="595.5" cy="600.9" r="15.7"/>
<circle cx="596.5" cy="588.7" r="15.7"/>
<circle cx="597.6" cy="588.7" r="15.7"/>
<circle cx="598.6" cy="591.7" r="15.7"/>
<circle cx="599.6" cy="583.0" r="15.7"/>
<circle cx="600.7" cy="600.9" r="15.7"/>
<circle cx="601.7" cy="610.7" r="15.7"/>
<circle cx="602.8" cy="604.1" r="15.7"/>
<circle cx="603.8" cy="588.7" r="15.7"/>
<circle cx="604.9" cy="591.7" r="15.7"/>
<circle cx="605.9" cy="600.9" r="15.7"/>
<circle cx="607.0" cy="597.8" r="15.7"/>
<circle cx="608.0" cy="597.8" r="15.7"/>
<circle cx="609.1" cy="617.6" r="15.7"/>
<circle cx="610.1" cy="644.6" r="15.7"/>
<circle cx="611.2" cy="640.4" r="15.7"/>
<circle cx="612.2" cy="640.4" r="15.7"/>
<circle cx="613.2" cy="632.5" r="15.7"/>
<circle cx="614.3" cy="636.4" r="15.7"/>
<circle cx="615.3" cy="632.5" r="15.7"/>
<circle cx="616.4" cy="617.6" r="15.7"/>
<circle cx="617.4" cy="614.1" r="15.7"/>
<circle cx="618.5" cy="614.1" r="15.7"/>
<circle cx="619.5" cy="594.7" r="15.7"/>
<circle cx="620.6" cy="610.7" r="15.7"/>
<circle cx="621.6" cy="617.6" r="15.7"/>
<circle cx="622.7" cy="600.9" r="15.7"/>
<circle cx="623.7" cy="624.9" r="15.7"/>
<circle cx="624.8" cy="640.4" r="15.7"/>
<circle cx="625.8" cy="614.1" r="15.7"/>
<circle cx="626.8" cy="614.1" r="15.7"/>
<circle cx="627.9" cy="610.7" r="15.7"/>
<circle cx="628.9" cy="607.4" r="15.7"/>
<circle cx="630.0" cy="604.1" r="15.7"/>
<circle cx="631.0" cy="621.2" r="15.7"/>
<circle cx="632.1" cy="624.9" r="15.7"/>
<circle cx="633.1" cy="640.4" r="15.7"/>
<circle cx="634.2" cy="632.5" r="15.7"/>
<circle cx="635.2" cy="624.9" r="15.7"/>
<circle cx="636.3" cy="632.5" r="15.7"/>
<circle cx="637.3" cy="621.2" r="15.7"/>
<circle cx="638.4" cy="588.7" r="15.7"/>
<circle cx="639.4" cy="624.9" r="15.7"/>
<circle cx="640.4" cy="617.6" r="15.7"/>
<circle cx="641.5" cy="610.7" r="15.7"/>
<circle cx="642.5" cy="607.4" r="15.7"/>
<circle cx="643.6" cy="632.5" r="15.7"/>
<circle cx="644.6" cy="617.6" r="15.7"/>
<circle cx="645.7" cy="617.6" r="15.7"/>
<circle cx="646.7" cy="628.6" r="15.7"/>
<circle cx="647.8" cy="636.4" r="15.7"/>
<circle cx="648.8" cy="632.5" r="15.7"/>
<circle cx="649.9" cy="621.2" r="15.7"/>
<circle cx="650.9" cy="617.6" r="15.7"/>
<circle cx="651.9" cy="597.8" r="15.7"/>
<circle cx="653.0" cy="624.9" r="15.7"/>
<circle cx="654.0" cy="624.9" r="15.7"/>
<circle cx="655.1" cy="640.4" r="15.7"/>
<circle cx="656.1" cy="628.6" r="15.7"/>
<circle cx="657.2" cy="632.5" r="15.7"/>
<circle cx="658.2" cy="648.8" r="15.7"/>
<circle cx="659.3" cy="667.2" r="15.7"/>
<circle cx="660.3" cy="667.2" r="15.7"/>
<circle cx="661.4" cy="653.2" r="15.7"/>
<circle cx="662.4" cy="628.6" r="15.7"/>
<circle cx="663.5" cy="624.9" r="15.7"/>
<circle cx="664.5" cy="657.7" r="15.7"/>
<circle cx="665.5" cy="657.7" r="15.7"/>
<circle cx="666.6" cy="653.2" r="15.7"/>
<circle cx="667.6" cy="653.2" r="15.7"/>
<circle cx="668.7" cy="653.2" r="15.7"/>
<circle cx="669.7" cy="640.4" r="15.7"/>
<circle cx="670.8" cy="644.6" r="15.7"/>
<circle cx="671.8" cy="662.4" r="15.7"/>
<circle cx="672.9" cy="687.9" r="15.7"/>
<circle cx="673.9" cy="677.2" r="15.7"/>
<circle cx="675.0" cy="693.6" r="15.7"/>
<circle cx="676.0" cy="682.5" r="15.7"/>
<circle cx="677.1" cy="667.2" r="15.7"/>
<circle cx="678.1" cy="687.9" r="15.7"/>
<circle cx="679.1" cy="677.2" r="15.7"/>
<circle cx="680.2" cy="677.2" r="15.7"/>
<circle cx="681.2" cy="640.4" r="15.7"/>
<circle cx="682.3" cy="644.6" r="15.7"/>
<circle cx="683.3" cy="687.9" r="15.7"/>
<circle cx="684.4" cy="672.1" r="15.7"/>
<circle cx="685.4" cy="662.4" r="15.7"/>
<circle cx="686.5" cy="672.1" r="15.7"/>
<circle cx="687.5" cy="677.2" r="15.7"/>
<circle cx="688.6" cy="662.4" r="15.7"/>
<circle cx="689.6" cy="657.7" r="15.7"/>
<circle cx="690.7" cy="657.7" r="15.7"/>
<circle cx="691.7" cy="682.5" r="15.7"/>
<circle cx="692.0" cy="774.9" r="15.7"/>
<circle cx="692.7" cy="682.5" r="15.7"/>
<circle cx="693.8" cy="705.5" r="15.7"/>
<circle cx="694.8" cy="718.5" r="15.7"/>
<circle cx="695.9" cy="705.5" r="15.7"/>
<circle cx="696.9" cy="711.9" r="15.7"/>
<circle cx="698.0" cy="705.5" r="15.7"/>
<circle cx="699.0" cy="648.8" r="15.7"/>
<circle cx="700.1" cy="653.2" r="15.7"/>
<circle cx="701.1" cy="682.5" r="15.7"/>
<circle cx="702.2" cy="725.4" r="15.7"/>
<circle cx="703.2" cy="718.5" r="15.7"/>
<circle cx="704.3" cy="732.6" r="15.7"/>
<circle cx="705.3" cy="748.2" r="15.7"/>
<circle cx="706.3" cy="705.5" r="15.7"/>
<circle cx="707.4" cy="705.5" r="15.7"/>
<circle cx="708.4" cy="687.9" r="15.7"/>
<circle cx="709.5" cy="628.6" r="15.7"/>
<circle cx="710.5" cy="653.2" r="15.7"/>
<circle cx="711.6" cy="672.1" r="15.7"/>
<circle cx="712.6" cy="672.1" r="15.7"/>
<circle cx="713.7" cy="687.9" r="15.7"/>
<circle cx="714.7" cy="705.5" r="15.7"/>
<circle cx="715.8" cy="705.5" r="15.7"/>
<circle cx="716.8" cy="677.2" r="15.7"/>
<circle cx="717.8" cy="693.6" r="15.7"/>
<circle cx="718.9" cy="718.5" r="15.7"/>
<circle cx="719.9" cy="732.6" r="15.7"/>
<circle cx="721.0" cy="732.6" r="15.7"/>
<circle cx="722.0" cy="718.5" r="15.7"/>
<circle cx="723.1" cy="699.4" r="15.7"/>
<circle cx="724.1" cy="687.9" r="15.7"/>
<circle cx="725.0" cy="774.9" r="15.7"/>
<circle cx="725.2" cy="672.1" r="15.7"/>
<circle cx="726.2" cy="687.9" r="15.7"/>
<circle cx="727.3" cy="677.2" r="15.7"/>
<circle cx="728.3" cy="682.5" r="15.7"/>
<circle cx="729.4" cy="677.2" r="15.7"/>
<circle cx="730.4" cy="725.4" r="15.7"/>
<circle cx="731.4" cy="687.9" r="15.7"/>
<circle cx="732.5" cy="725.4" r="15.7"/>
<circle cx="733.5" cy="740.2" r="15.7"/>
<circle cx="734.6" cy="705.5" r="15.7"/>
<circle cx="735.6" cy="711.9" r="15.7"/>
<circle cx="736.7" cy="672.1" r="15.7"/>
<circle cx="737.7" cy="682.5" r="15.7"/>
<circle cx="738.8" cy="718.5" r="15.7"/>
<circle cx="739.8" cy="705.5" r="15.7"/>
<circle cx="740.9" cy="718.5" r="15.7"/>
<circle cx="741.9" cy="677.2" r="15.7"/>
<circle cx="743.0" cy="657.7" r="15.7"/>
<circle cx="744.0" cy="667.2" r="15.7"/>
<circle cx="745.0" cy="693.6" r="15.7"/>
<circle cx="746.1" cy="699.4" r="15.7"/>
<circle cx="747.1" cy="682.5" r="15.7"/>
<circle cx="748.2" cy="711.9" r="15.7"/>
<circle cx="749.2" cy="725.4" r="15.7"/>
<circle cx="750.3" cy="699.4" r="15.7"/>
<circle cx="751.3" cy="687.9" r="15.7"/>
<circle cx="752.4" cy="705.5" r="15.7"/>
<circle cx="753.4" cy="711.9" r="15.7"/>
<circle cx="754.5" cy="756.6" r="15.7"/>
<circle cx="755.5" cy="705.5" r="15.7"/>
<circle cx="756.6" cy="711.9" r="15.7"/>
<circle cx="757.6" cy="748.2" r="15.7"/>
<circle cx="758.6" cy="756.6" r="15.7"/>
<circle cx="759.7" cy="756.6" r="15.7"/>
<circle cx="760.7" cy="693.6" r="15.7"/>
<circle cx="761.8" cy="687.9" r="15.7"/>
<circle cx="762.8" cy="732.6" r="15.7"/>
<circle cx="763.9" cy="682.5" r="15.7"/>
<circle cx="764.9" cy="667.2" r="15.7"/>
<circle cx="766.0" cy="718.5" r="15.7"/>
<circle cx="767.0" cy="774.9" r="15.7"/>
<circle cx="768.1" cy="725.4" r="15.7"/>
<circle cx="769.1" cy="732.6" r="15.7"/>
<circle cx="770.2" cy="732.6" r="15.7"/>
<circle cx="771.2" cy="740.2" r="15.7"/>
<circle cx="772.2" cy="699.4" r="15.7"/>
<circle cx="773.3" cy="672.1" r="15.7"/>
<circle cx="774.3" cy="677.2" r="15.7"/>
<circle cx="775.4" cy="705.5" r="15.7"/>
<circle cx="776.4" cy="705.5" r="15.7"/>
<circle cx="777.5" cy="699.4" r="15.7"/>
<circle cx="778.5" cy="748.2" r="15.7"/>
<circle cx="779.6" cy="705.5" r="15.7"/>
<circle cx="780.6" cy="725.4" r="15.7"/>
<circle cx="781.7" cy="718.5" r="15.7"/>
<circle cx="782.7" cy="718.5" r="15.7"/>
<circle cx="783.7" cy="699.4" r="15.7"/>
<circle cx="784.8" cy="687.9" r="15.7"/>
<circle cx="785.8" cy="653.2" r="15.7"/>
<circle cx="786.9" cy="699.4" r="15.7"/>
<circle cx="787.9" cy="732.6" r="15.7"/>
<circle cx="789.0" cy="725.4" r="15.7"/>
<circle cx="790.0" cy="740.2" r="15.7"/>
<circle cx="791.1" cy="711.9" r="15.7"/>
<circle cx="792.1" cy="740.2" r="15.7"/>
<circle cx="793.2" cy="732.6" r="15.7"/>
<circle cx="794.2" cy="705.5" r="15.7"/>
<circle cx="795.3" cy="693.6" r="15.7"/>
<circle cx="796.3" cy="705.5" r="15.7"/>
<circle cx="797.3" cy="682.5" r="15.7"/>
<circle cx="798.4" cy="672.1" r="15.7"/>
<circle cx="799.4" cy="748.2" r="15.7"/>
<circle cx="800.5" cy="732.6" r="15.7"/>
<circle cx="801.5" cy="725.4" r="15.7"/>
<circle cx="802.6" cy="740.2" r="15.7"/>
<circle cx="803.6" cy="748.2" r="15.7"/>
<circle cx="804.7" cy="740.2" r="15.7"/>
<circle cx="805.7" cy="725.4" r="15.7"/>
<circle cx="806.8" cy="725.4" r="15.7"/>
<circle cx="807.8" cy="693.6" r="15.7"/>
<circle cx="808.9" cy="687.9" r="15.7"/>
<circle cx="809.9" cy="725.4" r="15.7"/>
<circle cx="810.9" cy="748.2" r="15.7"/>
<circle cx="812.0" cy="718.5" r="15.7"/>
<circle cx="813.0" cy="748.2" r="15.7"/>
<circle cx="814.1" cy="740.2" r="15.7"/>
<circle cx="815.1" cy="725.4" r="15.7"/>
<circle cx="816.2" cy="705.5" r="15.7"/>
<circle cx="817.2" cy="705.5" r="15.7"/>
<circle cx="818.3" cy="682.5" r="15.7"/>
<circle cx="819.3" cy="725.4" r="15.7"/>
<circle cx="820.4" cy="711.9" r="15.7"/>
<circle cx="821.4" cy="748.2" r="15.7"/>
<circle cx="822.5" cy="740.2" r="15.7"/>
<circle cx="823.5" cy="732.6" r="15.7"/>
<circle cx="824.5" cy="765.5" r="15.7"/>
<circle cx="825.6" cy="819.7" r="15.7"/>
<circle cx="826.6" cy="756.6" r="15.7"/>
<circle cx="827.7" cy="740.2" r="15.7"/>
<circle cx="828.7" cy="740.2" r="15.7"/>
<circle cx="829.8" cy="756.6" r="15.7"/>
<circle cx="830.8" cy="765.5" r="15.7"/>
<circle cx="831.9" cy="740.2" r="15.7"/>
<circle cx="832.9" cy="740.2" r="15.7"/>
<circle cx="834.0" cy="711.9" r="15.7"/>
<circle cx="835.0" cy="725.4" r="15.7"/>
<circle cx="836.1" cy="756.6" r="15.7"/>
<circle cx="837.1" cy="740.2" r="15.7"/>
<circle cx="838.1" cy="756.6" r="15.7"/>
<circle cx="839.2" cy="748.2" r="15.7"/>
<circle cx="840.2" cy="795.7" r="15.7"/>
<circle cx="841.3" cy="785.0" r="15.7"/>
<circle cx="842.3" cy="748.2" r="15.7"/>
<circle cx="843.4" cy="765.5" r="15.7"/>
<circle cx="844.4" cy="765.5" r="15.7"/>
<circle cx="845.5" cy="740.2" r="15.7"/>
<circle cx="846.5" cy="748.2" r="15.7"/>
<circle cx="847.6" cy="699.4" r="15.7"/>
<circle cx="848.6" cy="732.6" r="15.7"/>
<circle cx="849.6" cy="748.2" r="15.7"/>
<circle cx="850.7" cy="756.6" r="15.7"/>
<circle cx="851.7" cy="819.7" r="15.7"/>
<circle cx="852.8" cy="833.2" r="15.7"/>
<circle cx="853.8" cy="774.9" r="15.7"/>
<circle cx="854.9" cy="774.9" r="15.7"/>
<circle cx="855.9" cy="725.4" r="15.7"/>
<circle cx="857.0" cy="748.2" r="15.7"/>
<circle cx="858.0" cy="756.6" r="15.7"/>
<circle cx="859.1" cy="725.4" r="15.7"/>
<circle cx="860.1" cy="732.6" r="15.7"/>
<circle cx="861.2" cy="699.4" r="15.7"/>
<circle cx="862.2" cy="765.5" r="15.7"/>
<circle cx="863.2" cy="748.2" r="15.7"/>
<circle cx="864.3" cy="732.6" r="15.7"/>
<circle cx="865.3" cy="732.6" r="15.7"/>
<circle cx="866.4" cy="711.9" r="15.7"/>
<circle cx="867.4" cy="705.5" r="15.7"/>
<circle cx="868.5" cy="732.6" r="15.7"/>
<circle cx="869.5" cy="765.5" r="15.7"/>
<circle cx="870.6" cy="732.6" r="15.7"/>
<circle cx="871.6" cy="748.2" r="15.7"/>
<circle cx="872.7" cy="725.4" r="15.7"/>
<circle cx="873.7" cy="705.5" r="15.7"/>
<circle cx="874.8" cy="725.4" r="15.7"/>
<circle cx="875.8" cy="774.9" r="15.7"/>
<circle cx="876.8" cy="774.9" r="15.7"/>
<circle cx="877.9" cy="748.2" r="15.7"/>
<circle cx="878.9" cy="765.5" r="15.7"/>
<circle cx="880.0" cy="725.4" r="15.7"/>
<circle cx="881.0" cy="748.2" r="15.7"/>
<circle cx="882.1" cy="748.2" r="15.7"/>
<circle cx="883.1" cy="774.9" r="15.7"/>
<circle cx="884.2" cy="774.9" r="15.7"/>
<circle cx="885.2" cy="740.2" r="15.7"/>
<circle cx="886.3" cy="765.5" r="15.7"/>
<circle cx="887.3" cy="774.9" r="15.7"/>
<circle cx="888.4" cy="795.7" r="15.7"/>
<circle cx="889.4" cy="756.6" r="15.7"/>
<circle cx="890.4" cy="807.2" r="15.7"/>
<circle cx="891.5" cy="807.2" r="15.7"/>
<circle cx="892.5" cy="765.5" r="15.7"/>
<circle cx="893.6" cy="718.5" r="15.7"/>
<circle cx="894.6" cy="756.6" r="15.7"/>
<circle cx="895.7" cy="732.6" r="15.7"/>
<circle cx="896.7" cy="819.7" r="15.7"/>
<circle cx="897.8" cy="774.9" r="15.7"/>
<circle cx="898.8" cy="765.5" r="15.7"/>
<circle cx="899.9" cy="807.2" r="15.7"/>
<circle cx="900.9" cy="848.0" r="15.7"/>
<circle cx="902.0" cy="833.2" r="15.7"/>
<circle cx="903.0" cy="795.7" r="15.7"/>
<circle cx="904.0" cy="774.9" r="15.7"/>
<circle cx="905.1" cy="774.9" r="15.7"/>
<circle cx="906.1" cy="748.2" r="15.7"/>
<circle cx="907.2" cy="740.2" r="15.7"/>
<circle cx="908.2" cy="807.2" r="15.7"/>
<circle cx="909.3" cy="807.2" r="15.7"/>
<circle cx="910.3" cy="807.2" r="15.7"/>
<circle cx="911.4" cy="765.5" r="15.7"/>
<circle cx="912.4" cy="785.0" r="15.7"/>
<circle cx="913.5" cy="748.2" r="15.7"/>
<circle cx="914.5" cy="765.5" r="15.7"/>
<circle cx="915.5" cy="693.6" r="15.7"/>
<circle cx="916.6" cy="740.2" r="15.7"/>
<circle cx="917.6" cy="765.5" r="15.7"/>
<circle cx="918.7" cy="774.9" r="15.7"/>
<circle cx="919.7" cy="774.9" r="15.7"/>
<circle cx="920.8" cy="699.4" r="15.7"/>
<circle cx="921.8" cy="756.6" r="15.7"/>
<circle cx="922.9" cy="807.2" r="15.7"/>
<circle cx="923.9" cy="795.7" r="15.7"/>
<circle cx="925.0" cy="774.9" r="15.7"/>
<circle cx="926.0" cy="807.2" r="15.7"/>
<circle cx="927.1" cy="774.9" r="15.7"/>
<circle cx="928.1" cy="756.6" r="15.7"/>
<circle cx="929.1" cy="774.9" r="15.7"/>
<circle cx="930.2" cy="795.7" r="15.7"/>
<circle cx="931.2" cy="819.7" r="15.7"/>
<circle cx="932.3" cy="819.7" r="15.7"/>
<circle cx="933.3" cy="833.2" r="15.7"/>
<circle cx="934.4" cy="765.5" r="15.7"/>
<circle cx="935.4" cy="725.4" r="15.7"/>
<circle cx="936.5" cy="765.5" r="15.7"/>
<circle cx="937.5" cy="785.0" r="15.7"/>
<circle cx="938.6" cy="848.0" r="15.7"/>
<circle cx="939.6" cy="848.0" r="15.7"/>
<circle cx="940.7" cy="807.2" r="15.7"/>
<circle cx="941.7" cy="795.7" r="15.7"/>
<circle cx="942.7" cy="785.0" r="15.7"/>
<circle cx="943.8" cy="765.5" r="15.7"/>
<circle cx="944.8" cy="774.9" r="15.7"/>
<circle cx="945.9" cy="795.7" r="15.7"/>
<circle cx="946.9" cy="740.2" r="15.7"/>
<circle cx="948.0" cy="833.2" r="15.7"/>
<circle cx="949.0" cy="864.4" r="15.7"/>
<circle cx="950.1" cy="848.0" r="15.7"/>
<circle cx="951.1" cy="848.0" r="15.7"/>
<circle cx="952.2" cy="848.0" r="15.7"/>
<circle cx="953.2" cy="833.2" r="15.7"/>
<circle cx="954.3" cy="848.0" r="15.7"/>
<circle cx="955.3" cy="819.7" r="15.7"/>
<circle cx="956.3" cy="795.7" r="15.7"/>
<circle cx="957.4" cy="795.7" r="15.7"/>
<circle cx="958.4" cy="795.7" r="15.7"/>
<circle cx="959.5" cy="833.2" r="15.7"/>
<circle cx="960.5" cy="864.4" r="15.7"/>
<circle cx="961.6" cy="848.0" r="15.7"/>
<circle cx="962.6" cy="795.7" r="15.7"/>
<circle cx="963.7" cy="785.0" r="15.7"/>
<circle cx="964.7" cy="756.6" r="15.7"/>
<circle cx="965.8" cy="748.2" r="15.7"/>
<circle cx="966.8" cy="740.2" r="15.7"/>
<circle cx="967.9" cy="807.2" r="15.7"/>
<circle cx="968.9" cy="756.6" r="15.7"/>
<circle cx="969.9" cy="756.6" r="15.7"/>
<circle cx="971.0" cy="705.5" r="15.7"/>
<circle cx="972.0" cy="740.2" r="15.7"/>
<circle cx="973.1" cy="765.5" r="15.7"/>
<circle cx="974.1" cy="795.7" r="15.7"/>
<circle cx="975.2" cy="795.7" r="15.7"/>
<circle cx="976.2" cy="864.4" r="15.7"/>
<circle cx="977.3" cy="848.0" r="15.7"/>
<circle cx="978.3" cy="833.2" r="15.7"/>
<circle cx="979.4" cy="785.0" r="15.7"/>
<circle cx="980.4" cy="807.2" r="15.7"/>
<circle cx="981.4" cy="756.6" r="15.7"/>
<circle cx="982.5" cy="807.2" r="15.7"/>
<circle cx="983.5" cy="819.7" r="15.7"/>
<circle cx="984.6" cy="795.7" r="15.7"/>
<circle cx="985.6" cy="819.7" r="15.7"/>
<circle cx="986.7" cy="833.2" r="15.7"/>
<circle cx="987.7" cy="848.0" r="15.7"/>
<circle cx="988.8" cy="740.2" r="15.7"/>
<circle cx="989.8" cy="756.6" r="15.7"/>
<circle cx="990.9" cy="819.7" r="15.7"/>
<circle cx="991.9" cy="864.4" r="15.7"/>
<circle cx="993.0" cy="833.2" r="15.7"/>
<circle cx="994.0" cy="882.7" r="15.7"/>
<circle cx="995.0" cy="927.4" r="15.7"/>
<circle cx="996.1" cy="848.0" r="15.7"/>
<circle cx="997.1" cy="833.2" r="15.7"/>
<circle cx="998.2" cy="833.2" r="15.7"/>
<circle cx="999.2" cy="807.2" r="15.7"/>
<circle cx="1000.3" cy="864.4" r="15.7"/>
<circle cx="1001.3" cy="848.0" r="15.7"/>
<circle cx="1002.4" cy="848.0" r="15.7"/>
<circle cx="1003.4" cy="903.5" r="15.7"/>
<circle cx="1004.5" cy="848.0" r="15.7"/>
<circle cx="1005.5" cy="833.2" r="15.7"/>
<circle cx="1006.6" cy="882.7" r="15.7"/>
<circle cx="1007.6" cy="819.7" r="15.7"/>
<circle cx="1008.6" cy="807.2" r="15.7"/>
<circle cx="1009.7" cy="990.5" r="15.7"/>
<circle cx="1010.7" cy="785.0" r="15.7"/>
<circle cx="1011.8" cy="833.2" r="15.7"/>
<circle cx="1012.8" cy="955.8" r="15.7"/>
<circle cx="1013.9" cy="882.7" r="15.7"/>
<circle cx="1014.9" cy="848.0" r="15.7"/>
<circle cx="1016.0" cy="903.5" r="15.7"/>
<circle cx="1017.0" cy="807.2" r="15.7"/>
<circle cx="1018.1" cy="903.5" r="15.7"/>
<circle cx="1019.1" cy="774.9" r="15.7"/>
<circle cx="1020.2" cy="807.2" r="15.7"/>
<circle cx="1021.2" cy="848.0" r="15.7"/>
<circle cx="1022.2" cy="807.2" r="15.7"/>
<circle cx="1023.3" cy="848.0" r="15.7"/>
<circle cx="1024.3" cy="795.7" r="15.7"/>
<circle cx="1025.4" cy="848.0" r="15.7"/>
<circle cx="1026.4" cy="795.7" r="15.7"/>
<circle cx="1027.5" cy="833.2" r="15.7"/>
<circle cx="1028.5" cy="819.7" r="15.7"/>
<circle cx="1029.6" cy="833.2" r="15.7"/>
<circle cx="1030.6" cy="785.0" r="15.7"/>
<circle cx="1031.7" cy="807.2" r="15.7"/>
<circle cx="1032.7" cy="864.4" r="15.7"/>
<circle cx="1033.7" cy="927.4" r="15.7"/>
<circle cx="1034.8" cy="848.0" r="15.7"/>
<circle cx="1035.8" cy="807.2" r="15.7"/>
<circle cx="1036.9" cy="795.7" r="15.7"/>
<circle cx="1037.9" cy="848.0" r="15.7"/>
<circle cx="1040.0" cy="807.2" r="15.7"/>
<circle cx="1041.1" cy="903.5" r="15.7"/>
<circle cx="1042.1" cy="848.0" r="15.7"/>
<circle cx="1043.2" cy="927.4" r="15.7"/>
<circle cx="1044.2" cy="819.7" r="15.7"/>
<circle cx="1045.3" cy="819.7" r="15.7"/>
<circle cx="1046.3" cy="882.7" r="15.7"/>
<circle cx="1047.3" cy="833.2" r="15.7"/>
<circle cx="1048.4" cy="864.4" r="15.7"/>
<circle cx="1049.4" cy="833.2" r="15.7"/>
<circle cx="1050.5" cy="903.5" r="15.7"/>
<circle cx="1051.5" cy="833.2" r="15.7"/>
<circle cx="1052.6" cy="848.0" r="15.7"/>
<circle cx="1053.6" cy="848.0" r="15.7"/>
<circle cx="1054.7" cy="848.0" r="15.7"/>
<circle cx="1055.7" cy="819.7" r="15.7"/>
<circle cx="1056.8" cy="756.6" r="15.7"/>
<circle cx="1057.8" cy="903.5" r="15.7"/>
<circle cx="1058.9" cy="848.0" r="15.7"/>
<circle cx="1059.9" cy="882.7" r="15.7"/>
<circle cx="1060.9" cy="927.4" r="15.7"/>
<circle cx="1062.0" cy="864.4" r="15.7"/>
<circle cx="1063.0" cy="807.2" r="15.7"/>
<circle cx="1064.1" cy="882.7" r="15.7"/>
<circle cx="1065.1" cy="819.7" r="15.7"/>
<circle cx="1066.2" cy="882.7" r="15.7"/>
<circle cx="1067.2" cy="785.0" r="15.7"/>
<circle cx="1068.3" cy="927.4" r="15.7"/>
<circle cx="1069.3" cy="765.5" r="15.7"/>
<circle cx="1070.4" cy="903.5" r="15.7"/>
<circle cx="1071.0" cy="1098.2" r="15.7"/>
<circle cx="1071.4" cy="927.4" r="15.7"/>
<circle cx="1072.5" cy="833.2" r="15.7"/>
<circle cx="1073.5" cy="765.5" r="15.7"/>
<circle cx="1074.5" cy="848.0" r="15.7"/>
<circle cx="1075.6" cy="765.5" r="15.7"/>
<circle cx="1076.6" cy="882.7" r="15.7"/>
<circle cx="1077.7" cy="927.4" r="15.7"/>
<circle cx="1078.7" cy="807.2" r="15.7"/>
<circle cx="1079.8" cy="990.5" r="15.7"/>
<circle cx="1080.8" cy="955.8" r="15.7"/>
<circle cx="1081.9" cy="833.2" r="15.7"/>
<circle cx="1082.9" cy="807.2" r="15.7"/>
<circle cx="1084.0" cy="848.0" r="15.7"/>
<circle cx="1085.0" cy="819.7" r="15.7"/>
<circle cx="1086.1" cy="848.0" r="15.7"/>
<circle cx="1087.1" cy="819.7" r="15.7"/>
<circle cx="1088.1" cy="848.0" r="15.7"/>
<circle cx="1089.2" cy="807.2" r="15.7"/>
<circle cx="1090.2" cy="833.2" r="15.7"/>
<circle cx="1091.3" cy="990.5" r="15.7"/>
<circle cx="1092.3" cy="864.4" r="15.7"/>
<circle cx="1093.4" cy="882.7" r="15.7"/>
<circle cx="1094.4" cy="864.4" r="15.7"/>
<circle cx="1095.5" cy="848.0" r="15.7"/>
<circle cx="1096.5" cy="882.7" r="15.7"/>
<circle cx="1097.6" cy="864.4" r="15.7"/>
<circle cx="1098.6" cy="864.4" r="15.7"/>
<circle cx="1099.6" cy="955.8" r="15.7"/>
<circle cx="1100.7" cy="864.4" r="15.7"/>
<circle cx="1101.7" cy="903.5" r="15.7"/>
<circle cx="1103.8" cy="955.8" r="15.7"/>
<circle cx="1104.9" cy="848.0" r="15.7"/>
<circle cx="1105.9" cy="774.9" r="15.7"/>
<circle cx="1107.0" cy="990.5" r="15.7"/>
<circle cx="1108.0" cy="807.2" r="15.7"/>
<circle cx="1109.1" cy="955.8" r="15.7"/>
<circle cx="1110.0" cy="1206.0" r="15.7"/>
<circle cx="1110.1" cy="795.7" r="15.7"/>
<circle cx="1111.2" cy="882.7" r="15.7"/>
<circle cx="1113.2" cy="864.4" r="15.7"/>
<circle cx="1114.3" cy="833.2" r="15.7"/>
<circle cx="1115.3" cy="774.9" r="15.7"/>
<circle cx="1116.4" cy="833.2" r="15.7"/>
<circle cx="1117.4" cy="955.8" r="15.7"/>
<circle cx="1118.5" cy="990.5" r="15.7"/>
<circle cx="1119.5" cy="882.7" r="15.7"/>
<circle cx="1120.6" cy="848.0" r="15.7"/>
<circle cx="1121.6" cy="848.0" r="15.7"/>
<circle cx="1122.7" cy="882.7" r="15.7"/>
<circle cx="1123.7" cy="955.8" r="15.7"/>
<circle cx="1124.8" cy="882.7" r="15.7"/>
<circle cx="1125.8" cy="955.8" r="15.7"/>
<circle cx="1126.8" cy="807.2" r="15.7"/>
<circle cx="1127.9" cy="795.7" r="15.7"/>
<circle cx="1128.9" cy="848.0" r="15.7"/>
<circle cx="1130.0" cy="848.0" r="15.7"/>
<circle cx="1131.0" cy="848.0" r="15.7"/>
<circle cx="1132.1" cy="833.2" r="15.7"/>
<circle cx="1133.1" cy="927.4" r="15.7"/>
<circle cx="1134.2" cy="848.0" r="15.7"/>
<circle cx="1135.2" cy="864.4" r="15.7"/>
<circle cx="1136.3" cy="795.7" r="15.7"/>
<circle cx="1137.3" cy="864.4" r="15.7"/>
<circle cx="1138.4" cy="864.4" r="15.7"/>
<circle cx="1139.4" cy="990.5" r="15.7"/>
<circle cx="1140.4" cy="864.4" r="15.7"/>
<circle cx="1141.5" cy="927.4" r="15.7"/>
<circle cx="1142.5" cy="882.7" r="15.7"/>
<circle cx="1143.6" cy="864.4" r="15.7"/>
<circle cx="1144.0" cy="1035.2" r="15.7"/>
<circle cx="1144.6" cy="927.4" r="15.7"/>
<circle cx="1145.7" cy="864.4" r="15.7"/>
<circle cx="1146.7" cy="882.7" r="15.7"/>
<circle cx="1147.8" cy="819.7" r="15.7"/>
<circle cx="1148.8" cy="833.2" r="15.7"/>
<circle cx="1149.9" cy="833.2" r="15.7"/>
<circle cx="1150.9" cy="833.2" r="15.7"/>
<circle cx="1152.0" cy="848.0" r="15.7"/>
<circle cx="1153.0" cy="848.0" r="15.7"/>
<circle cx="1154.0" cy="903.5" r="15.7"/>
<circle cx="1155.1" cy="903.5" r="15.7"/>
<circle cx="1156.1" cy="819.7" r="15.7"/>
<circle cx="1157.2" cy="882.7" r="15.7"/>
<circle cx="1158.0" cy="1035.2" r="15.7"/>
<circle cx="1158.2" cy="833.2" r="15.7"/>
<circle cx="1159.3" cy="819.7" r="15.7"/>
<circle cx="1160.3" cy="774.9" r="15.7"/>
<circle cx="1161.4" cy="955.8" r="15.7"/>
<circle cx="1162.4" cy="903.5" r="15.7"/>
<circle cx="1163.5" cy="833.2" r="15.7"/>
<circle cx="1164.5" cy="882.7" r="15.7"/>
<circle cx="1165.5" cy="848.0" r="15.7"/>
<circle cx="1166.6" cy="903.5" r="15.7"/>
<circle cx="1167.6" cy="927.4" r="15.7"/>
<circle cx="1168.7" cy="927.4" r="15.7"/>
<circle cx="1169.7" cy="955.8" r="15.7"/>
<circle cx="1170.8" cy="903.5" r="15.7"/>
<circle cx="1171.8" cy="833.2" r="15.7"/>
<circle cx="1172.0" cy="1035.2" r="15.7"/>
<circle cx="1172.9" cy="833.2" r="15.7"/>
<circle cx="1173.9" cy="955.8" r="15.7"/>
<circle cx="1175.0" cy="927.4" r="15.7"/>
<circle cx="1176.0" cy="882.7" r="15.7"/>
<circle cx="1177.1" cy="864.4" r="15.7"/>
<circle cx="1178.1" cy="927.4" r="15.7"/>
<circle cx="1179.1" cy="833.2" r="15.7"/>
<circle cx="1180.2" cy="927.4" r="15.7"/>
<circle cx="1181.2" cy="864.4" r="15.7"/>
<circle cx="1182.3" cy="903.5" r="15.7"/>
<circle cx="1183.3" cy="882.7" r="15.7"/>
<circle cx="1184.4" cy="848.0" r="15.7"/>
<circle cx="1185.4" cy="848.0" r="15.7"/>
<circle cx="1186.5" cy="785.0" r="15.7"/>
<circle cx="1187.5" cy="807.2" r="15.7"/>
<circle cx="1188.6" cy="927.4" r="15.7"/>
<circle cx="1189.6" cy="848.0" r="15.7"/>
<circle cx="1190.7" cy="882.7" r="15.7"/>
<circle cx="1191.7" cy="848.0" r="15.7"/>
<circle cx="1192.7" cy="833.2" r="15.7"/>
<circle cx="1194.8" cy="990.5" r="15.7"/>
<circle cx="1195.9" cy="882.7" r="15.7"/>
<circle cx="1196.9" cy="927.4" r="15.7"/>
<circle cx="1198.0" cy="864.4" r="15.7"/>
<circle cx="1199.0" cy="807.2" r="15.7"/>
<circle cx="1200.1" cy="807.2" r="15.7"/>
<circle cx="1201.1" cy="955.8" r="15.7"/>
<circle cx="1202.2" cy="903.5" r="15.7"/>
<circle cx="1203.2" cy="848.0" r="15.7"/>
<circle cx="1204.3" cy="819.7" r="15.7"/>
<circle cx="1205.3" cy="903.5" r="15.7"/>
<circle cx="1206.3" cy="927.4" r="15.7"/>
<circle cx="1207.4" cy="848.0" r="15.7"/>
<circle cx="1209.5" cy="795.7" r="15.7"/>
<circle cx="1210.5" cy="819.7" r="15.7"/>
<circle cx="1211.6" cy="903.5" r="15.7"/>
<circle cx="1212.6" cy="927.4" r="15.7"/>
<circle cx="1213.7" cy="833.2" r="15.7"/>
<circle cx="1214.7" cy="903.5" r="15.7"/>
<circle cx="1215.8" cy="903.5" r="15.7"/>
<circle cx="1216.8" cy="785.0" r="15.7"/>
<circle cx="1217.9" cy="955.8" r="15.7"/>
<circle cx="1218.9" cy="864.4" r="15.7"/>
<circle cx="1219.9" cy="833.2" r="15.7"/>
<circle cx="1221.0" cy="955.8" r="15.7"/>
<circle cx="1222.0" cy="882.7" r="15.7"/>
<circle cx="1223.1" cy="903.5" r="15.7"/>
<circle cx="1224.1" cy="955.8" r="15.7"/>
<circle cx="1225.2" cy="848.0" r="15.7"/>
<circle cx="1226.2" cy="955.8" r="15.7"/>
<circle cx="1227.3" cy="903.5" r="15.7"/>
<circle cx="1228.3" cy="903.5" r="15.7"/>
<circle cx="1229.4" cy="848.0" r="15.7"/>
<circle cx="1230.4" cy="927.4" r="15.7"/>
<circle cx="1231.4" cy="903.5" r="15.7"/>
<circle cx="1232.5" cy="955.8" r="15.7"/>
<circle cx="1233.5" cy="955.8" r="15.7"/>
<circle cx="1234.6" cy="955.8" r="15.7"/>
<circle cx="1235.0" cy="1098.2" r="15.7"/>
<circle cx="1235.6" cy="990.5" r="15.7"/>
<circle cx="1236.7" cy="882.7" r="15.7"/>
<circle cx="1237.7" cy="927.4" r="15.7"/>
<circle cx="1238.8" cy="903.5" r="15.7"/>
<circle cx="1240.9" cy="903.5" r="15.7"/>
<circle cx="1241.9" cy="927.4" r="15.7"/>
<circle cx="1244.0" cy="927.4" r="15.7"/>
<circle cx="1245.0" cy="927.4" r="15.7"/>
<circle cx="1246.1" cy="955.8" r="15.7"/>
<circle cx="1247.1" cy="819.7" r="15.7"/>
<circle cx="1248.2" cy="882.7" r="15.7"/>
<circle cx="1249.2" cy="864.4" r="15.7"/>
<circle cx="1250.3" cy="955.8" r="15.7"/>
<circle cx="1251.3" cy="848.0" r="15.7"/>
<circle cx="1252.4" cy="848.0" r="15.7"/>
<circle cx="1253.4" cy="955.8" r="15.7"/>
<circle cx="1254.5" cy="819.7" r="15.7"/>
<circle cx="1255.5" cy="864.4" r="15.7"/>
<circle cx="1256.6" cy="927.4" r="15.7"/>
<circle cx="1257.6" cy="955.8" r="15.7"/>
<circle cx="1258.6" cy="990.5" r="15.7"/>
<circle cx="1259.7" cy="864.4" r="15.7"/>
<circle cx="1260.7" cy="903.5" r="15.7"/>
<circle cx="1261.8" cy="927.4" r="15.7"/>
<circle cx="1262.8" cy="990.5" r="15.7"/>
<circle cx="1263.9" cy="882.7" r="15.7"/>
<circle cx="1264.9" cy="903.5" r="15.7"/>
<circle cx="1266.0" cy="903.5" r="15.7"/>
<circle cx="1267.0" cy="848.0" r="15.7"/>
<circle cx="1268.1" cy="848.0" r="15.7"/>
<circle cx="1269.1" cy="864.4" r="15.7"/>
<circle cx="1270.2" cy="807.2" r="15.7"/>
<circle cx="1271.2" cy="864.4" r="15.7"/>
<circle cx="1272.2" cy="927.4" r="15.7"/>
<circle cx="1273.3" cy="819.7" r="15.7"/>
<circle cx="1274.3" cy="864.4" r="15.7"/>
<circle cx="1275.4" cy="848.0" r="15.7"/>
<circle cx="1276.4" cy="882.7" r="15.7"/>
<circle cx="1277.5" cy="848.0" r="15.7"/>
<circle cx="1278.5" cy="990.5" r="15.7"/>
<circle cx="1279.6" cy="903.5" r="15.7"/>
<circle cx="1281.7" cy="903.5" r="15.7"/>
<circle cx="1282.7" cy="927.4" r="15.7"/>
<circle cx="1283.8" cy="990.5" r="15.7"/>
<circle cx="1285.8" cy="927.4" r="15.7"/>
<circle cx="1286.9" cy="882.7" r="15.7"/>
<circle cx="1287.9" cy="882.7" r="15.7"/>
<circle cx="1289.0" cy="927.4" r="15.7"/>
<circle cx="1290.0" cy="927.4" r="15.7"/>
<circle cx="1291.1" cy="848.0" r="15.7"/>
<circle cx="1292.1" cy="864.4" r="15.7"/>
<circle cx="1293.2" cy="990.5" r="15.7"/>
<circle cx="1294.2" cy="785.0" r="15.7"/>
<circle cx="1295.3" cy="990.5" r="15.7"/>
<circle cx="1296.3" cy="882.7" r="15.7"/>
<circle cx="1297.3" cy="864.4" r="15.7"/>
<circle cx="1298.4" cy="848.0" r="15.7"/>
<circle cx="1299.4" cy="833.2" r="15.7"/>
<circle cx="1301.5" cy="848.0" r="15.7"/>
<circle cx="1302.6" cy="955.8" r="15.7"/>
<circle cx="1303.6" cy="819.7" r="15.7"/>
<circle cx="1304.7" cy="882.7" r="15.7"/>
<circle cx="1305.7" cy="955.8" r="15.7"/>
<circle cx="1306.8" cy="903.5" r="15.7"/>
<circle cx="1307.8" cy="903.5" r="15.7"/>
<circle cx="1308.9" cy="848.0" r="15.7"/>
<circle cx="1309.9" cy="990.5" r="15.7"/>
<circle cx="1310.9" cy="864.4" r="15.7"/>
<circle cx="1312.0" cy="903.5" r="15.7"/>
<circle cx="1313.0" cy="1098.2" r="15.7"/>
<circle cx="1313.0" cy="819.7" r="15.7"/>
<circle cx="1314.1" cy="955.8" r="15.7"/>
<circle cx="1315.1" cy="833.2" r="15.7"/>
<circle cx="1316.2" cy="795.7" r="15.7"/>
<circle cx="1317.2" cy="864.4" r="15.7"/>
<circle cx="1318.3" cy="927.4" r="15.7"/>
<circle cx="1319.3" cy="927.4" r="15.7"/>
<circle cx="1320.4" cy="807.2" r="15.7"/>
<circle cx="1322.5" cy="882.7" r="15.7"/>
<circle cx="1323.5" cy="990.5" r="15.7"/>
<circle cx="1324.5" cy="882.7" r="15.7"/>
<circle cx="1325.6" cy="882.7" r="15.7"/>
<circle cx="1327.0" cy="1035.2" r="15.7"/>
<circle cx="1327.7" cy="955.8" r="15.7"/>
<circle cx="1328.7" cy="990.5" r="15.7"/>
<circle cx="1329.8" cy="833.2" r="15.7"/>
<circle cx="1330.8" cy="807.2" r="15.7"/>
<circle cx="1331.9" cy="882.7" r="15.7"/>
<circle cx="1332.9" cy="955.8" r="15.7"/>
<circle cx="1334.0" cy="848.0" r="15.7"/>
<circle cx="1335.0" cy="882.7" r="15.7"/>
<circle cx="1336.1" cy="848.0" r="15.7"/>
<circle cx="1337.1" cy="927.4" r="15.7"/>
<circle cx="1338.1" cy="927.4" r="15.7"/>
<circle cx="1339.2" cy="864.4" r="15.7"/>
<circle cx="1340.2" cy="903.5" r="15.7"/>
<circle cx="1341.3" cy="819.7" r="15.7"/>
<circle cx="1342.0" cy="1035.2" r="15.7"/>
<circle cx="1342.3" cy="864.4" r="15.7"/>
<circle cx="1343.4" cy="990.5" r="15.7"/>
<circle cx="1344.4" cy="903.5" r="15.7"/>
<circle cx="1345.5" cy="955.8" r="15.7"/>
<circle cx="1346.5" cy="903.5" r="15.7"/>
<circle cx="1347.0" cy="1098.2" r="15.7"/>
<circle cx="1347.6" cy="864.4" r="15.7"/>
<circle cx="1348.6" cy="882.7" r="15.7"/>
<circle cx="1349.7" cy="903.5" r="15.7"/>
<circle cx="1350.7" cy="990.5" r="15.7"/>
<circle cx="1351.7" cy="955.8" r="15.7"/>
<circle cx="1352.8" cy="833.2" r="15.7"/>
<circle cx="1353.8" cy="990.5" r="15.7"/>
<circle cx="1354.9" cy="864.4" r="15.7"/>
<circle cx="1355.9" cy="819.7" r="15.7"/>
<circle cx="1357.0" cy="903.5" r="15.7"/>
<circle cx="1359.1" cy="848.0" r="15.7"/>
<circle cx="1360.1" cy="990.5" r="15.7"/>
<circle cx="1361.2" cy="903.5" r="15.7"/>
<circle cx="1362.2" cy="864.4" r="15.7"/>
<circle cx="1363.2" cy="864.4" r="15.7"/>
<circle cx="1364.3" cy="864.4" r="15.7"/>
<circle cx="1365.3" cy="864.4" r="15.7"/>
<circle cx="1366.0" cy="1098.2" r="15.7"/>
<circle cx="1366.4" cy="903.5" r="15.7"/>
<circle cx="1367.4" cy="864.4" r="15.7"/>
<circle cx="1369.5" cy="848.0" r="15.7"/>
<circle cx="1370.6" cy="848.0" r="15.7"/>
<circle cx="1371.6" cy="903.5" r="15.7"/>
<circle cx="1372.7" cy="833.2" r="15.7"/>
<circle cx="1373.7" cy="990.5" r="15.7"/>
<circle cx="1374.8" cy="882.7" r="15.7"/>
<circle cx="1375.8" cy="903.5" r="15.7"/>
<circle cx="1376.8" cy="990.5" r="15.7"/>
<circle cx="1377.9" cy="882.7" r="15.7"/>
<circle cx="1378.9" cy="927.4" r="15.7"/>
<circle cx="1380.0" cy="927.4" r="15.7"/>
<circle cx="1381.0" cy="927.4" r="15.7"/>
<circle cx="1382.1" cy="903.5" r="15.7"/>
<circle cx="1383.1" cy="955.8" r="15.7"/>
<circle cx="1384.2" cy="955.8" r="15.7"/>
<circle cx="1385.0" cy="1035.2" r="15.7"/>
<circle cx="1385.2" cy="882.7" r="15.7"/>
<circle cx="1386.3" cy="882.7" r="15.7"/>
<circle cx="1387.3" cy="927.4" r="15.7"/>
<circle cx="1388.4" cy="833.2" r="15.7"/>
<circle cx="1389.4" cy="955.8" r="15.7"/>
<circle cx="1390.4" cy="903.5" r="15.7"/>
<circle cx="1392.5" cy="990.5" r="15.7"/>
<circle cx="1393.6" cy="927.4" r="15.7"/>
<circle cx="1394.6" cy="807.2" r="15.7"/>
<circle cx="1395.7" cy="882.7" r="15.7"/>
<circle cx="1396.7" cy="927.4" r="15.7"/>
<circle cx="1397.8" cy="882.7" r="15.7"/>
<circle cx="1398.8" cy="848.0" r="15.7"/>
<circle cx="1399.0" cy="1035.2" r="15.7"/>
<circle cx="1399.9" cy="882.7" r="15.7"/>
<circle cx="1400.9" cy="903.5" r="15.7"/>
<circle cx="1402.0" cy="864.4" r="15.7"/>
<circle cx="1403.0" cy="882.7" r="15.7"/>
<circle cx="1404.0" cy="848.0" r="15.7"/>
<circle cx="1405.1" cy="848.0" r="15.7"/>
<circle cx="1406.1" cy="955.8" r="15.7"/>
<circle cx="1407.2" cy="955.8" r="15.7"/>
<circle cx="1408.2" cy="903.5" r="15.7"/>
<circle cx="1409.3" cy="927.4" r="15.7"/>
<circle cx="1410.3" cy="990.5" r="15.7"/>
<circle cx="1411.4" cy="807.2" r="15.7"/>
<circle cx="1412.4" cy="864.4" r="15.7"/>
<circle cx="1413.5" cy="819.7" r="15.7"/>
<circle cx="1414.0" cy="1035.2" r="15.7"/>
<circle cx="1414.5" cy="819.7" r="15.7"/>
<circle cx="1415.6" cy="927.4" r="15.7"/>
<circle cx="1416.0" cy="1206.0" r="15.7"/>
<circle cx="1416.6" cy="927.4" r="15.7"/>
<circle cx="1417.6" cy="927.4" r="15.7"/>
<circle cx="1419.7" cy="819.7" r="15.7"/>
<circle cx="1420.8" cy="819.7" r="15.7"/>
<circle cx="1421.8" cy="927.4" r="15.7"/>
<circle cx="1422.9" cy="864.4" r="15.7"/>
<circle cx="1423.9" cy="882.7" r="15.7"/>
<circle cx="1425.0" cy="882.7" r="15.7"/>
<circle cx="1426.0" cy="955.8" r="15.7"/>
<circle cx="1427.1" cy="927.4" r="15.7"/>
<circle cx="1428.0" cy="1206.0" r="15.7"/>
<circle cx="1428.1" cy="927.4" r="15.7"/>
<circle cx="1429.1" cy="864.4" r="15.7"/>
<circle cx="1430.2" cy="819.7" r="15.7"/>
<circle cx="1431.2" cy="882.7" r="15.7"/>
<circle cx="1432.3" cy="882.7" r="15.7"/>
<circle cx="1433.3" cy="955.8" r="15.7"/>
<circle cx="1434.4" cy="955.8" r="15.7"/>
<circle cx="1435.4" cy="990.5" r="15.7"/>
<circle cx="1436.5" cy="833.2" r="15.7"/>
<circle cx="1437.5" cy="882.7" r="15.7"/>
<circle cx="1438.6" cy="864.4" r="15.7"/>
<circle cx="1439.6" cy="903.5" r="15.7"/>
<circle cx="1440.7" cy="848.0" r="15.7"/>
<circle cx="1441.7" cy="955.8" r="15.7"/>
<circle cx="1442.7" cy="903.5" r="15.7"/>
<circle cx="1443.8" cy="955.8" r="15.7"/>
<circle cx="1444.8" cy="864.4" r="15.7"/>
<circle cx="1445.9" cy="990.5" r="15.7"/>
<circle cx="1446.9" cy="864.4" r="15.7"/>
<circle cx="1448.0" cy="955.8" r="15.7"/>
<circle cx="1449.0" cy="903.5" r="15.7"/>
<circle cx="1450.1" cy="903.5" r="15.7"/>
<circle cx="1451.1" cy="955.8" r="15.7"/>
<circle cx="1452.2" cy="927.4" r="15.7"/>
<circle cx="1453.0" cy="1035.2" r="15.7"/>
<circle cx="1453.2" cy="807.2" r="15.7"/>
<circle cx="1454.3" cy="927.4" r="15.7"/>
<circle cx="1455.3" cy="882.7" r="15.7"/>
<circle cx="1456.3" cy="955.8" r="15.7"/>
<circle cx="1457.4" cy="903.5" r="15.7"/>
<circle cx="1458.4" cy="864.4" r="15.7"/>
<circle cx="1459.5" cy="927.4" r="15.7"/>
<circle cx="1460.5" cy="882.7" r="15.7"/>
<circle cx="1461.6" cy="864.4" r="15.7"/>
<circle cx="1462.6" cy="903.5" r="15.7"/>
<circle cx="1463.7" cy="903.5" r="15.7"/>
<circle cx="1464.7" cy="955.8" r="15.7"/>
<circle cx="1465.8" cy="927.4" r="15.7"/>
<circle cx="1466.0" cy="1098.2" r="15.7"/>
<circle cx="1466.8" cy="819.7" r="15.7"/>
<circle cx="1467.9" cy="955.8" r="15.7"/>
<circle cx="1469.9" cy="882.7" r="15.7"/>
<circle cx="1471.0" cy="864.4" r="15.7"/>
<circle cx="1472.0" cy="1035.2" r="15.7"/>
<circle cx="1472.0" cy="955.8" r="15.7"/>
<circle cx="1473.1" cy="955.8" r="15.7"/>
<circle cx="1474.1" cy="903.5" r="15.7"/>
<circle cx="1475.2" cy="903.5" r="15.7"/>
<circle cx="1476.2" cy="864.4" r="15.7"/>
<circle cx="1477.3" cy="955.8" r="15.7"/>
<circle cx="1478.3" cy="848.0" r="15.7"/>
<circle cx="1479.4" cy="882.7" r="15.7"/>
<circle cx="1480.4" cy="927.4" r="15.7"/>
<circle cx="1481.5" cy="882.7" r="15.7"/>
<circle cx="1482.5" cy="903.5" r="15.7"/>
<circle cx="1483.5" cy="882.7" r="15.7"/>
<circle cx="1484.6" cy="955.8" r="15.7"/>
<circle cx="1485.6" cy="903.5" r="15.7"/>
<circle cx="1486.0" cy="1035.2" r="15.7"/>
<circle cx="1486.7" cy="848.0" r="15.7"/>
<circle cx="1487.7" cy="990.5" r="15.7"/>
<circle cx="1488.8" cy="882.7" r="15.7"/>
<circle cx="1490.9" cy="807.2" r="15.7"/>
<circle cx="1491.9" cy="927.4" r="15.7"/>
<circle cx="1493.0" cy="882.7" r="15.7"/>
<circle cx="1494.0" cy="848.0" r="15.7"/>
<circle cx="1495.0" cy="927.4" r="15.7"/>
<circle cx="1496.1" cy="955.8" r="15.7"/>
<circle cx="1497.1" cy="927.4" r="15.7"/>
<circle cx="1498.2" cy="903.5" r="15.7"/>
<circle cx="1499.2" cy="927.4" r="15.7"/>
<circle cx="1500.3" cy="990.5" r="15.7"/>
<circle cx="1501.0" cy="1035.2" r="15.7"/>
<circle cx="1501.3" cy="848.0" r="15.7"/>
<circle cx="1502.4" cy="955.8" r="15.7"/>
<circle cx="1504.5" cy="903.5" r="15.7"/>
<circle cx="1505.5" cy="990.5" r="15.7"/>
<circle cx="1506.6" cy="882.7" r="15.7"/>
<circle cx="1507.6" cy="955.8" r="15.7"/>
<circle cx="1508.6" cy="927.4" r="15.7"/>
<circle cx="1509.7" cy="882.7" r="15.7"/>
<circle cx="1510.7" cy="882.7" r="15.7"/>
<circle cx="1511.8" cy="990.5" r="15.7"/>
<circle cx="1512.8" cy="864.4" r="15.7"/>
<circle cx="1513.9" cy="882.7" r="15.7"/>
<circle cx="1514.9" cy="864.4" r="15.7"/>
<circle cx="1516.0" cy="848.0" r="15.7"/>
<circle cx="1517.0" cy="882.7" r="15.7"/>
<circle cx="1518.1" cy="882.7" r="15.7"/>
<circle cx="1521.2" cy="848.0" r="15.7"/>
<circle cx="1522.2" cy="955.8" r="15.7"/>
<circle cx="1523.3" cy="807.2" r="15.7"/>
<circle cx="1524.3" cy="927.4" r="15.7"/>
<circle cx="1525.4" cy="819.7" r="15.7"/>
<circle cx="1526.4" cy="864.4" r="15.7"/>
<circle cx="1527.5" cy="955.8" r="15.7"/>
<circle cx="1528.0" cy="1206.0" r="15.7"/>
<circle cx="1528.5" cy="882.7" r="15.7"/>
<circle cx="1529.6" cy="903.5" r="15.7"/>
<circle cx="1530.6" cy="848.0" r="15.7"/>
<circle cx="1531.7" cy="833.2" r="15.7"/>
<circle cx="1532.7" cy="903.5" r="15.7"/>
<circle cx="1533.8" cy="882.7" r="15.7"/>
<circle cx="1534.8" cy="833.2" r="15.7"/>
<circle cx="1535.8" cy="864.4" r="15.7"/>
<circle cx="1536.9" cy="882.7" r="15.7"/>
<circle cx="1537.9" cy="882.7" r="15.7"/>
<circle cx="1539.0" cy="927.4" r="15.7"/>
<circle cx="1539.0" cy="1035.2" r="15.7"/>
<circle cx="1541.1" cy="882.7" r="15.7"/>
<circle cx="1542.1" cy="990.5" r="15.7"/>
<circle cx="1543.2" cy="903.5" r="15.7"/>
<circle cx="1544.2" cy="833.2" r="15.7"/>
<circle cx="1545.3" cy="882.7" r="15.7"/>
<circle cx="1546.3" cy="864.4" r="15.7"/>
<circle cx="1547.3" cy="927.4" r="15.7"/>
<circle cx="1548.4" cy="903.5" r="15.7"/>
<circle cx="1550.0" cy="1206.0" r="15.7"/>
<circle cx="1550.5" cy="927.4" r="15.7"/>
<circle cx="1551.5" cy="990.5" r="15.7"/>
<circle cx="1552.6" cy="990.5" r="15.7"/>
<circle cx="1553.6" cy="903.5" r="15.7"/>
<circle cx="1554.7" cy="864.4" r="15.7"/>
<circle cx="1555.7" cy="955.8" r="15.7"/>
<circle cx="1556.8" cy="990.5" r="15.7"/>
<circle cx="1557.8" cy="819.7" r="15.7"/>
<circle cx="1558.9" cy="903.5" r="15.7"/>
<circle cx="1559.9" cy="807.2" r="15.7"/>
<circle cx="1560.9" cy="819.7" r="15.7"/>
<circle cx="1562.0" cy="927.4" r="15.7"/>
<circle cx="1563.0" cy="955.8" r="15.7"/>
<circle cx="1564.1" cy="927.4" r="15.7"/>
<circle cx="1565.1" cy="864.4" r="15.7"/>
<circle cx="1566.2" cy="903.5" r="15.7"/>
<circle cx="1567.2" cy="955.8" r="15.7"/>
<circle cx="1568.3" cy="882.7" r="15.7"/>
<circle cx="1569.3" cy="833.2" r="15.7"/>
<circle cx="1570.4" cy="927.4" r="15.7"/>
<circle cx="1571.4" cy="990.5" r="15.7"/>
<circle cx="1572.5" cy="903.5" r="15.7"/>
<circle cx="1573.5" cy="990.5" r="15.7"/>
<circle cx="1574.5" cy="927.4" r="15.7"/>
<circle cx="1575.6" cy="882.7" r="15.7"/>
<circle cx="1576.6" cy="927.4" r="15.7"/>
<circle cx="1577.7" cy="903.5" r="15.7"/>
<circle cx="1578.7" cy="819.7" r="15.7"/>
<circle cx="1579.8" cy="864.4" r="15.7"/>
<circle cx="1580.8" cy="848.0" r="15.7"/>
<circle cx="1581.9" cy="903.5" r="15.7"/>
<circle cx="1582.9" cy="848.0" r="15.7"/>
<circle cx="1584.0" cy="882.7" r="15.7"/>
<circle cx="1584.0" cy="1098.2" r="15.7"/>
<circle cx="1585.0" cy="955.8" r="15.7"/>
<circle cx="1586.1" cy="882.7" r="15.7"/>
<circle cx="1587.1" cy="955.8" r="15.7"/>
<circle cx="1588.1" cy="927.4" r="15.7"/>
<circle cx="1589.0" cy="1035.2" r="15.7"/>
<circle cx="1589.2" cy="927.4" r="15.7"/>
<circle cx="1590.2" cy="807.2" r="15.7"/>
<circle cx="1591.3" cy="990.5" r="15.7"/>
<circle cx="1592.3" cy="848.0" r="15.7"/>
<circle cx="1593.4" cy="864.4" r="15.7"/>
<circle cx="1594.4" cy="882.7" r="15.7"/>
<circle cx="1595.5" cy="882.7" r="15.7"/>
<circle cx="1597.6" cy="955.8" r="15.7"/>
<circle cx="1598.6" cy="833.2" r="15.7"/>
<circle cx="1599.7" cy="795.7" r="15.7"/>
<circle cx="1600.7" cy="955.8" r="15.7"/>
<circle cx="1601.7" cy="833.2" r="15.7"/>
<circle cx="1602.0" cy="1035.2" r="15.7"/>
<circle cx="1602.8" cy="848.0" r="15.7"/>
<circle cx="1603.8" cy="882.7" r="15.7"/>
<circle cx="1604.9" cy="955.8" r="15.7"/>
<circle cx="1605.9" cy="903.5" r="15.7"/>
<circle cx="1608.0" cy="927.4" r="15.7"/>
<circle cx="1609.1" cy="848.0" r="15.7"/>
<circle cx="1610.1" cy="903.5" r="15.7"/>
<circle cx="1611.2" cy="955.8" r="15.7"/>
<circle cx="1612.2" cy="864.4" r="15.7"/>
<circle cx="1613.2" cy="955.8" r="15.7"/>
<circle cx="1614.3" cy="903.5" r="15.7"/>
<circle cx="1615.3" cy="864.4" r="15.7"/>
<circle cx="1616.0" cy="1035.2" r="15.7"/>
<circle cx="1616.4" cy="848.0" r="15.7"/>
<circle cx="1617.4" cy="848.0" r="15.7"/>
<circle cx="1618.5" cy="819.7" r="15.7"/>
<circle cx="1619.5" cy="927.4" r="15.7"/>
<circle cx="1620.6" cy="927.4" r="15.7"/>
<circle cx="1621.6" cy="955.8" r="15.7"/>
<circle cx="1622.7" cy="848.0" r="15.7"/>
<circle cx="1623.7" cy="882.7" r="15.7"/>
<circle cx="1624.8" cy="882.7" r="15.7"/>
<circle cx="1625.8" cy="833.2" r="15.7"/>
<circle cx="1626.8" cy="864.4" r="15.7"/>
<circle cx="1627.9" cy="903.5" r="15.7"/>
<circle cx="1628.9" cy="927.4" r="15.7"/>
<circle cx="1630.0" cy="864.4" r="15.7"/>
<circle cx="1631.0" cy="927.4" r="15.7"/>
<circle cx="1632.1" cy="807.2" r="15.7"/>
<circle cx="1633.1" cy="833.2" r="15.7"/>
<circle cx="1635.2" cy="927.4" r="15.7"/>
<circle cx="1636.3" cy="955.8" r="15.7"/>
<circle cx="1637.3" cy="882.7" r="15.7"/>
<circle cx="1638.4" cy="903.5" r="15.7"/>
<circle cx="1640.4" cy="882.7" r="15.7"/>
<circle cx="1641.5" cy="903.5" r="15.7"/>
<circle cx="1642.5" cy="819.7" r="15.7"/>
<circle cx="1643.0" cy="1206.0" r="15.7"/>
<circle cx="1643.6" cy="927.4" r="15.7"/>
<circle cx="1644.6" cy="990.5" r="15.7"/>
<circle cx="1645.7" cy="955.8" r="15.7"/>
<circle cx="1646.7" cy="882.7" r="15.7"/>
<circle cx="1648.8" cy="990.5" r="15.7"/>
<circle cx="1649.9" cy="927.4" r="15.7"/>
<circle cx="1650.9" cy="819.7" r="15.7"/>
<circle cx="1651.0" cy="1098.2" r="15.7"/>
<circle cx="1652.0" cy="927.4" r="15.7"/>
<circle cx="1653.0" cy="903.5" r="15.7"/>
<circle cx="1653.0" cy="1035.2" r="15.7"/>
<circle cx="1654.0" cy="955.8" r="15.7"/>
<circle cx="1655.1" cy="785.0" r="15.7"/>
<circle cx="1656.1" cy="990.5" r="15.7"/>
<circle cx="1657.2" cy="882.7" r="15.7"/>
<circle cx="1658.2" cy="927.4" r="15.7"/>
<circle cx="1659.3" cy="833.2" r="15.7"/>
<circle cx="1660.3" cy="882.7" r="15.7"/>
<circle cx="1661.4" cy="927.4" r="15.7"/>
<circle cx="1662.4" cy="882.7" r="15.7"/>
<circle cx="1663.5" cy="864.4" r="15.7"/>
<circle cx="1664.5" cy="833.2" r="15.7"/>
<circle cx="1665.6" cy="955.8" r="15.7"/>
<circle cx="1666.6" cy="903.5" r="15.7"/>
<circle cx="1668.0" cy="1035.2" r="15.7"/>
<circle cx="1668.7" cy="990.5" r="15.7"/>
<circle cx="1669.7" cy="864.4" r="15.7"/>
<circle cx="1670.0" cy="1098.2" r="15.7"/>
<circle cx="1670.8" cy="990.5" r="15.7"/>
<circle cx="1671.8" cy="927.4" r="15.7"/>
<circle cx="1672.9" cy="927.4" r="15.7"/>
<circle cx="1673.9" cy="833.2" r="15.7"/>
<circle cx="1675.0" cy="848.0" r="15.7"/>
<circle cx="1676.0" cy="927.4" r="15.7"/>
<circle cx="1677.1" cy="903.5" r="15.7"/>
<circle cx="1678.1" cy="927.4" r="15.7"/>
<circle cx="1679.1" cy="848.0" r="15.7"/>
<circle cx="1680.2" cy="864.4" r="15.7"/>
<circle cx="1681.2" cy="848.0" r="15.7"/>
<circle cx="1682.3" cy="882.7" r="15.7"/>
<circle cx="1683.3" cy="848.0" r="15.7"/>
<circle cx="1684.4" cy="882.7" r="15.7"/>
<circle cx="1685.4" cy="819.7" r="15.7"/>
<circle cx="1686.0" cy="1035.2" r="15.7"/>
<circle cx="1686.5" cy="848.0" r="15.7"/>
<circle cx="1687.5" cy="882.7" r="15.7"/>
<circle cx="1688.6" cy="864.4" r="15.7"/>
<circle cx="1689.6" cy="833.2" r="15.7"/>
<circle cx="1690.7" cy="864.4" r="15.7"/>
<circle cx="1691.7" cy="882.7" r="15.7"/>
<circle cx="1692.7" cy="864.4" r="15.7"/>
<circle cx="1693.8" cy="990.5" r="15.7"/>
<circle cx="1694.8" cy="903.5" r="15.7"/>
<circle cx="1695.9" cy="864.4" r="15.7"/>
<circle cx="1696.9" cy="903.5" r="15.7"/>
<circle cx="1697.0" cy="1206.0" r="15.7"/>
<circle cx="1698.0" cy="819.7" r="15.7"/>
<circle cx="1699.0" cy="903.5" r="15.7"/>
<circle cx="1700.1" cy="833.2" r="15.7"/>
<circle cx="1701.0" cy="1035.2" r="15.7"/>
<circle cx="1701.1" cy="927.4" r="15.7"/>
<circle cx="1702.2" cy="882.7" r="15.7"/>
<circle cx="1703.2" cy="882.7" r="15.7"/>
<circle cx="1704.3" cy="882.7" r="15.7"/>
<circle cx="1705.3" cy="819.7" r="15.7"/>
<circle cx="1706.3" cy="927.4" r="15.7"/>
<circle cx="1707.4" cy="927.4" r="15.7"/>
<circle cx="1708.4" cy="833.2" r="15.7"/>
<circle cx="1710.5" cy="864.4" r="15.7"/>
<circle cx="1711.6" cy="864.4" r="15.7"/>
<circle cx="1712.6" cy="833.2" r="15.7"/>
<circle cx="1713.7" cy="927.4" r="15.7"/>
<circle cx="1714.7" cy="955.8" r="15.7"/>
<circle cx="1715.8" cy="882.7" r="15.7"/>
<circle cx="1716.8" cy="927.4" r="15.7"/>
<circle cx="1717.9" cy="927.4" r="15.7"/>
<circle cx="1718.9" cy="903.5" r="15.7"/>
<circle cx="1719.9" cy="903.5" r="15.7"/>
<circle cx="1721.0" cy="955.8" r="15.7"/>
<circle cx="1722.0" cy="833.2" r="15.7"/>
<circle cx="1723.1" cy="882.7" r="15.7"/>
<circle cx="1724.1" cy="990.5" r="15.7"/>
<circle cx="1725.2" cy="848.0" r="15.7"/>
<circle cx="1726.2" cy="955.8" r="15.7"/>
<circle cx="1727.3" cy="903.5" r="15.7"/>
<circle cx="1728.3" cy="882.7" r="15.7"/>
<circle cx="1729.0" cy="1035.2" r="15.7"/>
<circle cx="1729.4" cy="927.4" r="15.7"/>
<circle cx="1730.4" cy="955.8" r="15.7"/>
<circle cx="1731.5" cy="903.5" r="15.7"/>
<circle cx="1732.5" cy="927.4" r="15.7"/>
<circle cx="1733.5" cy="833.2" r="15.7"/>
<circle cx="1734.6" cy="927.4" r="15.7"/>
<circle cx="1735.6" cy="927.4" r="15.7"/>
<circle cx="1736.7" cy="882.7" r="15.7"/>
<circle cx="1737.7" cy="819.7" r="15.7"/>
<circle cx="1738.8" cy="903.5" r="15.7"/>
<circle cx="1740.9" cy="864.4" r="15.7"/>
<circle cx="1741.9" cy="848.0" r="15.7"/>
<circle cx="1743.0" cy="903.5" r="15.7"/>
<circle cx="1744.0" cy="903.5" r="15.7"/>
<circle cx="1745.0" cy="1035.2" r="15.7"/>
<circle cx="1745.0" cy="927.4" r="15.7"/>
<circle cx="1746.1" cy="903.5" r="15.7"/>
<circle cx="1747.1" cy="833.2" r="15.7"/>
<circle cx="1748.2" cy="903.5" r="15.7"/>
<circle cx="1749.2" cy="990.5" r="15.7"/>
<circle cx="1750.3" cy="819.7" r="15.7"/>
<circle cx="1751.3" cy="819.7" r="15.7"/>
<circle cx="1752.4" cy="819.7" r="15.7"/>
<circle cx="1753.4" cy="990.5" r="15.7"/>
<circle cx="1754.5" cy="955.8" r="15.7"/>
<circle cx="1755.0" cy="1206.0" r="15.7"/>
<circle cx="1755.5" cy="955.8" r="15.7"/>
<circle cx="1756.6" cy="819.7" r="15.7"/>
<circle cx="1757.0" cy="1035.2" r="15.7"/>
</g>
</g>
<rect x="596" y="301.0" width="1139" height="70.7" fill="#c6dbf1"/>
<rect x="596.0" y="301.0" width="375.0" height="70.7" fill="#5b9bd5"/>
<rect x="974.7" y="301.0" width="280.8" height="70.7" fill="#5b9bd5"/>
<rect x="1259.2" y="301.0" width="250.6" height="70.7" fill="#5b9bd5"/>
<rect x="1513.8" y="301.0" width="221.2" height="70.7" fill="#5b9bd5"/>
<rect x="596" y="378.8" width="1139" height="70.5" fill="#fdf5fd"/>
<rect x="596.0" y="378.8" width="375.0" height="70.5" fill="#fde8fb"/>
<rect x="974.7" y="378.8" width="280.8" height="70.5" fill="#fde8fb"/>
<rect x="1259.2" y="378.8" width="250.6" height="70.5" fill="#fde8fb"/>
<rect x="1513.8" y="378.8" width="221.2" height="70.5" fill="#fde8fb"/>
<rect x="596" y="452.2" width="1139" height="73.4" fill="#def5f5"/>
<rect x="596.0" y="452.2" width="375.0" height="73.4" fill="#aeeaea"/>
<rect x="974.7" y="452.2" width="280.8" height="73.4" fill="#aeeaea"/>
<rect x="1259.2" y="452.2" width="250.6" height="73.4" fill="#aeeaea"/>
<rect x="1513.8" y="452.2" width="221.2" height="73.4" fill="#aeeaea"/>
<text x="782.3" y="352.5" text-anchor="middle" class="th" textLength="146.0" lengthAdjust="spacingAndGlyphs">Sample</text>
<text x="1055.5" y="355" class="tau">&#964;</text>
<text x="1076" y="365.5" class="tsub">1</text>
<text x="1329" y="355" class="tau">&#964;</text>
<text x="1350.5" y="365.5" class="tsub2">2</text>
<text x="1105.5" y="355" class="tl">(</text><text x="1125.5" y="354" class="tl">A</text><text x="1151" y="362" class="tls">1</text><text x="1164.5" y="355" class="tl">)</text>
<text x="1377.4" y="355" class="tl">(</text><text x="1390.5" y="354" class="tl">A</text><text x="1416.8" y="362" class="tls">2</text><text x="1428.8" y="355" class="tl">)</text>
<text x="1590.5" y="355" class="tau">&#964;</text><text x="1612.5" y="363.5" class="tave">ave</text>
<text x="784.0" y="428.0" text-anchor="middle" class="td" textLength="72.0" lengthAdjust="spacingAndGlyphs">CdS</text>
<text x="1115.0" y="428.0" text-anchor="middle" class="td">1.27 (0.732)</text>
<text x="1384.5" y="428.0" text-anchor="middle" class="td">5.99 (0.268)</text>
<text x="1623.0" y="428.0" text-anchor="middle" class="td">4.25</text>
<text x="783.5" y="504" text-anchor="middle" class="td">MoS<tspan class="tds" dy="10.5">2</tspan><tspan dy="-10.5">/WS</tspan><tspan class="tds" dy="10.5">2</tspan><tspan dy="-10.5">/CdS</tspan></text>
<text x="1115.0" y="504.0" text-anchor="middle" class="td">1.17 (0.756)</text>
<text x="1384.5" y="504.0" text-anchor="middle" class="td">5.07 (0.244)</text>
<text x="1623.0" y="504.0" text-anchor="middle" class="td">3.45</text>
<text x="150.5" y="1418.5" text-anchor="middle" class="tk">0</text>
<text x="471.8" y="1418.5" text-anchor="middle" class="tk">10</text>
<text x="793.2" y="1418.5" text-anchor="middle" class="tk">20</text>
<text x="1114.5" y="1418.5" text-anchor="middle" class="tk">30</text>
<text x="1435.9" y="1418.5" text-anchor="middle" class="tk">40</text>
<text x="1757.2" y="1418.5" text-anchor="middle" class="tk">50</text>
<text x="959.5" y="1514.5" text-anchor="middle" class="ax">Time (ns)</text>
<text transform="translate(96 678.5) rotate(-90)" text-anchor="middle" class="ax">PL intensity (a.u.)</text>
<circle cx="915" cy="112" r="16" fill="url(#gm)"/>
<circle cx="915" cy="216" r="16" fill="url(#gt)"/>
<text x="1030" y="143" class="lg" fill="#ff00ff">CdS</text>
<text x="1036" y="244" class="lg" fill="#0faad0" textLength="590" lengthAdjust="spacingAndGlyphs">WS<tspan class="sub" dy="22">2</tspan><tspan dy="-22">/MoS</tspan><tspan class="sub" dy="22">2</tspan><tspan dy="-22">/CdS</tspan></text>
</svg></body></html>
